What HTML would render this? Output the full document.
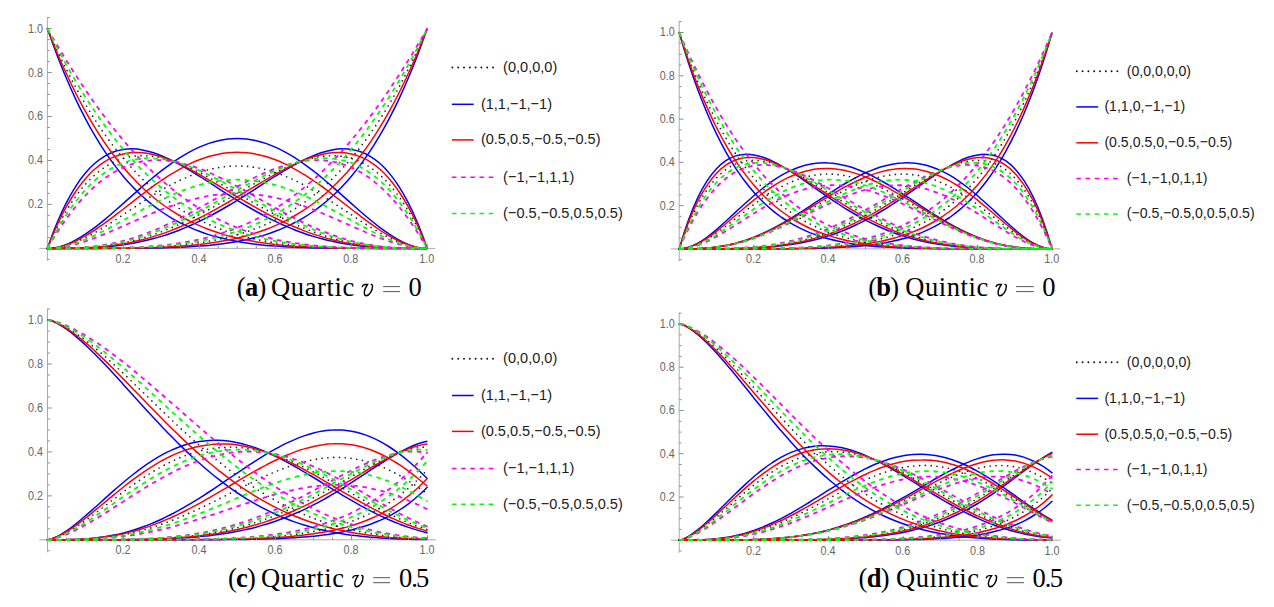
<!DOCTYPE html><html><head><meta charset="utf-8"><title>figure</title><style>
html,body{margin:0;padding:0;background:#fff;}
body{width:1274px;height:607px;overflow:hidden;position:relative;}
svg{position:absolute;left:0;top:0;}
path{fill:none;}
.ax{stroke:#aaa;stroke-width:1;}
.tk{stroke:#8c8c8c;stroke-width:1;}
.tl{font-family:"Liberation Sans",sans-serif;font-size:12px;fill:#666;}
.lg{font-family:"Liberation Sans",sans-serif;fill:#1a1a1a;}
.d{stroke:#222;stroke-width:1.7;stroke-dasharray:0 5.8;stroke-linecap:round;}
.b{stroke:#0000ff;stroke-width:1.5;stroke-linejoin:round;}
.r{stroke:#ff0000;stroke-width:1.5;stroke-linejoin:round;}
.m{stroke:#ff00ff;stroke-width:1.8;stroke-dasharray:4.6 4.6;}
.g{stroke:#00ff00;stroke-width:1.8;stroke-dasharray:4.6 4.6;}
.ld{stroke:#111;stroke-width:1.9;stroke-dasharray:0 5.8;stroke-linecap:round;}
.lm{stroke:#ff00ff;stroke-width:1.5;stroke-dasharray:4.6 4.6;}
.lgn{stroke:#00ff00;stroke-width:1.5;stroke-dasharray:4.6 4.6;}
.cp{font-family:"Liberation Serif",serif;font-size:26.5px;fill:#000;}
.mv{fill:none;stroke:#000;stroke-width:1.4;stroke-linecap:round;}
.eq{fill:#666;}
</style></head><body>
<svg width="1274" height="607" viewBox="0 0 1274 607">
<path class="ax" d="M39.2 248.4H435.4"/>
<path class="ax" d="M47.4 17V260.9"/>
<text class="tl" text-anchor="end" transform="translate(43 208.3) scale(0.9 1)">0.2</text>
<text class="tl" text-anchor="middle" transform="translate(123 262.7) scale(0.9 1)">0.2</text>
<text class="tl" text-anchor="end" transform="translate(43 164.4) scale(0.9 1)">0.4</text>
<text class="tl" text-anchor="middle" transform="translate(198.9 262.7) scale(0.9 1)">0.4</text>
<text class="tl" text-anchor="end" transform="translate(43 120.4) scale(0.9 1)">0.6</text>
<text class="tl" text-anchor="middle" transform="translate(274.9 262.7) scale(0.9 1)">0.6</text>
<text class="tl" text-anchor="end" transform="translate(43 76.5) scale(0.9 1)">0.8</text>
<text class="tl" text-anchor="middle" transform="translate(350.8 262.7) scale(0.9 1)">0.8</text>
<text class="tl" text-anchor="end" transform="translate(43 32.5) scale(0.9 1)">1.0</text>
<text class="tl" text-anchor="middle" transform="translate(426.8 262.7) scale(0.9 1)">1.0</text>
<path class="d" d="M47.4 28.6C50.6 35.9 53.7 43 56.9 49.8C60.1 56.6 63.2 63.1 66.4 69.4C69.6 75.7 72.7 81.7 75.9 87.5C79 93.3 82.2 98.8 85.4 104.2C88.5 109.5 91.7 114.6 94.9 119.6C98 124.5 101.2 129.2 104.4 133.7C107.5 138.2 110.7 142.5 113.9 146.6C117 150.7 120.2 154.6 123.4 158.4C126.5 162.1 129.7 165.7 132.9 169.1C136 172.5 139.2 175.8 142.3 178.9C145.5 181.9 148.7 184.9 151.8 187.7C155 190.5 158.2 193.1 161.3 195.6C164.5 198.1 167.7 200.5 170.8 202.8C174 205 177.2 207.2 180.3 209.2C183.5 211.2 186.7 213.1 189.8 214.9C193 216.6 196.2 218.3 199.3 219.9C202.5 221.5 205.7 223 208.8 224.4C212 225.8 215.1 227.1 218.3 228.3C221.5 229.5 224.6 230.6 227.8 231.7C231 232.8 234.1 233.7 237.3 234.7C240.5 235.6 243.6 236.4 246.8 237.2C250 238 253.1 238.7 256.3 239.4C259.5 240.1 262.6 240.7 265.8 241.2C268.9 241.8 272.1 242.3 275.3 242.8C278.4 243.2 281.6 243.7 284.8 244.1C287.9 244.4 291.1 244.8 294.3 245.1C297.4 245.4 300.6 245.7 303.8 245.9C306.9 246.2 310.1 246.4 313.3 246.6C316.4 246.8 319.6 247 322.8 247.1C325.9 247.3 329.1 247.4 332.2 247.5C335.4 247.7 338.6 247.8 341.7 247.8C344.9 247.9 348.1 248 351.2 248C354.4 248.1 357.6 248.2 360.7 248.2C363.9 248.2 367.1 248.3 370.2 248.3C373.4 248.3 376.6 248.3 379.7 248.3C382.9 248.4 386.1 248.4 389.2 248.4C392.4 248.4 395.6 248.4 398.7 248.4C401.9 248.4 405 248.4 408.2 248.4C411.4 248.4 414.5 248.4 417.7 248.4C420.9 248.4 424 248.4 427.2 248.4"/>
<path class="d" d="M47.4 248.4C50.6 241.1 53.7 234.3 56.9 228C60.1 221.8 63.2 216 66.4 210.7C69.6 205.4 72.7 200.6 75.9 196.2C79 191.8 82.2 187.9 85.4 184.3C88.5 180.7 91.7 177.6 94.9 174.8C98 172 101.2 169.5 104.4 167.4C107.5 165.3 110.7 163.5 113.9 162C117 160.5 120.2 159.3 123.4 158.4C126.5 157.4 129.7 156.8 132.9 156.3C136 155.9 139.2 155.7 142.3 155.7C145.5 155.7 148.7 155.9 151.8 156.3C155 156.6 158.2 157.2 161.3 157.9C164.5 158.6 167.7 159.5 170.8 160.5C174 161.5 177.2 162.7 180.3 163.9C183.5 165.1 186.7 166.5 189.8 167.9C193 169.3 196.2 170.9 199.3 172.4C202.5 174 205.7 175.7 208.8 177.4C212 179.1 215.1 180.8 218.3 182.6C221.5 184.3 224.6 186.2 227.8 188C231 189.8 234.1 191.6 237.3 193.4C240.5 195.3 243.6 197.1 246.8 198.9C250 200.7 253.1 202.6 256.3 204.3C259.5 206.1 262.6 207.9 265.8 209.6C268.9 211.3 272.1 213 275.3 214.6C278.4 216.3 281.6 217.9 284.8 219.4C287.9 221 291.1 222.5 294.3 223.9C297.4 225.3 300.6 226.7 303.8 228C306.9 229.3 310.1 230.6 313.3 231.8C316.4 233 319.6 234.1 322.8 235.1C325.9 236.2 329.1 237.2 332.2 238.1C335.4 239 338.6 239.9 341.7 240.6C344.9 241.4 348.1 242.1 351.2 242.8C354.4 243.4 357.6 244 360.7 244.5C363.9 245 367.1 245.5 370.2 245.9C373.4 246.3 376.6 246.6 379.7 246.9C382.9 247.2 386.1 247.4 389.2 247.6C392.4 247.8 395.6 247.9 398.7 248.1C401.9 248.2 405 248.2 408.2 248.3C411.4 248.3 414.5 248.4 417.7 248.4C420.9 248.4 424 248.4 427.2 248.4"/>
<path class="d" d="M47.4 248.4C50.6 248.4 53.7 248.1 56.9 247.6C60.1 247.1 63.2 246.4 66.4 245.4C69.6 244.5 72.7 243.3 75.9 242.1C79 240.8 82.2 239.3 85.4 237.7C88.5 236.1 91.7 234.4 94.9 232.6C98 230.8 101.2 228.9 104.4 227C107.5 225 110.7 223 113.9 220.9C117 218.8 120.2 216.7 123.4 214.6C126.5 212.5 129.7 210.4 132.9 208.3C136 206.2 139.2 204.1 142.3 202C145.5 200 148.7 197.9 151.8 196C155 194 158.2 192.1 161.3 190.2C164.5 188.4 167.7 186.6 170.8 184.9C174 183.2 177.2 181.6 180.3 180.1C183.5 178.6 186.7 177.2 189.8 176C193 174.7 196.2 173.5 199.3 172.4C202.5 171.4 205.7 170.4 208.8 169.6C212 168.8 215.1 168.2 218.3 167.6C221.5 167.1 224.6 166.7 227.8 166.4C231 166.1 234.1 166 237.3 166C240.5 166 243.6 166.1 246.8 166.4C250 166.7 253.1 167.1 256.3 167.6C259.5 168.2 262.6 168.8 265.8 169.6C268.9 170.4 272.1 171.4 275.3 172.4C278.4 173.5 281.6 174.7 284.8 176C287.9 177.2 291.1 178.6 294.3 180.1C297.4 181.6 300.6 183.2 303.8 184.9C306.9 186.6 310.1 188.4 313.3 190.2C316.4 192.1 319.6 194 322.8 196C325.9 197.9 329.1 200 332.2 202C335.4 204.1 338.6 206.2 341.7 208.3C344.9 210.4 348.1 212.5 351.2 214.6C354.4 216.7 357.6 218.8 360.7 220.9C363.9 223 367.1 225 370.2 227C373.4 228.9 376.6 230.8 379.7 232.6C382.9 234.4 386.1 236.1 389.2 237.7C392.4 239.3 395.6 240.8 398.7 242.1C401.9 243.3 405 244.5 408.2 245.4C411.4 246.4 414.5 247.1 417.7 247.6C420.9 248.1 424 248.4 427.2 248.4"/>
<path class="d" d="M47.4 248.4C50.6 248.4 53.7 248.4 56.9 248.4C60.1 248.4 63.2 248.3 66.4 248.3C69.6 248.2 72.7 248.2 75.9 248.1C79 247.9 82.2 247.8 85.4 247.6C88.5 247.4 91.7 247.2 94.9 246.9C98 246.6 101.2 246.3 104.4 245.9C107.5 245.5 110.7 245 113.9 244.5C117 244 120.2 243.4 123.4 242.8C126.5 242.1 129.7 241.4 132.9 240.6C136 239.9 139.2 239 142.3 238.1C145.5 237.2 148.7 236.2 151.8 235.1C155 234.1 158.2 233 161.3 231.8C164.5 230.6 167.7 229.3 170.8 228C174 226.7 177.2 225.3 180.3 223.9C183.5 222.5 186.7 221 189.8 219.4C193 217.9 196.2 216.3 199.3 214.6C202.5 213 205.7 211.3 208.8 209.6C212 207.9 215.1 206.1 218.3 204.3C221.5 202.6 224.6 200.7 227.8 198.9C231 197.1 234.1 195.3 237.3 193.4C240.5 191.6 243.6 189.8 246.8 188C250 186.2 253.1 184.3 256.3 182.6C259.5 180.8 262.6 179.1 265.8 177.4C268.9 175.7 272.1 174 275.3 172.4C278.4 170.9 281.6 169.3 284.8 167.9C287.9 166.5 291.1 165.1 294.3 163.9C297.4 162.7 300.6 161.5 303.8 160.5C306.9 159.5 310.1 158.6 313.3 157.9C316.4 157.2 319.6 156.6 322.8 156.3C325.9 155.9 329.1 155.7 332.2 155.7C335.4 155.7 338.6 155.9 341.7 156.3C344.9 156.8 348.1 157.4 351.2 158.4C354.4 159.3 357.6 160.5 360.7 162C363.9 163.5 367.1 165.3 370.2 167.4C373.4 169.5 376.6 172 379.7 174.8C382.9 177.6 386.1 180.7 389.2 184.3C392.4 187.9 395.6 191.8 398.7 196.2C401.9 200.6 405 205.4 408.2 210.7C411.4 216 414.5 221.8 417.7 228C420.9 234.3 424 241.1 427.2 248.4"/>
<path class="d" d="M47.4 248.4C50.6 248.4 53.7 248.4 56.9 248.4C60.1 248.4 63.2 248.4 66.4 248.4C69.6 248.4 72.7 248.4 75.9 248.4C79 248.4 82.2 248.4 85.4 248.4C88.5 248.4 91.7 248.4 94.9 248.3C98 248.3 101.2 248.3 104.4 248.3C107.5 248.3 110.7 248.2 113.9 248.2C117 248.2 120.2 248.1 123.4 248C126.5 248 129.7 247.9 132.9 247.8C136 247.8 139.2 247.7 142.3 247.5C145.5 247.4 148.7 247.3 151.8 247.1C155 247 158.2 246.8 161.3 246.6C164.5 246.4 167.7 246.2 170.8 245.9C174 245.7 177.2 245.4 180.3 245.1C183.5 244.8 186.7 244.4 189.8 244.1C193 243.7 196.2 243.2 199.3 242.8C202.5 242.3 205.7 241.8 208.8 241.2C212 240.7 215.1 240.1 218.3 239.4C221.5 238.7 224.6 238 227.8 237.2C231 236.4 234.1 235.6 237.3 234.7C240.5 233.7 243.6 232.8 246.8 231.7C250 230.6 253.1 229.5 256.3 228.3C259.5 227.1 262.6 225.8 265.8 224.4C268.9 223 272.1 221.5 275.3 219.9C278.4 218.3 281.6 216.6 284.8 214.9C287.9 213.1 291.1 211.2 294.3 209.2C297.4 207.2 300.6 205 303.8 202.8C306.9 200.5 310.1 198.1 313.3 195.6C316.4 193.1 319.6 190.5 322.8 187.7C325.9 184.9 329.1 181.9 332.2 178.9C335.4 175.8 338.6 172.5 341.7 169.1C344.9 165.7 348.1 162.1 351.2 158.4C354.4 154.6 357.6 150.7 360.7 146.6C363.9 142.5 367.1 138.2 370.2 133.7C373.4 129.2 376.6 124.5 379.7 119.6C382.9 114.6 386.1 109.5 389.2 104.2C392.4 98.8 395.6 93.3 398.7 87.5C401.9 81.7 405 75.7 408.2 69.4C411.4 63.1 414.5 56.6 417.7 49.8C420.9 43 424 35.9 427.2 28.6"/>
<path class="b" d="M47.4 28.6C50.6 37.8 53.7 46.5 56.9 54.7C60.1 63 63.2 70.9 66.4 78.3C69.6 85.8 72.7 92.8 75.9 99.6C79 106.3 82.2 112.6 85.4 118.6C88.5 124.6 91.7 130.3 94.9 135.7C98 141 101.2 146.1 104.4 150.9C107.5 155.7 110.7 160.2 113.9 164.4C117 168.6 120.2 172.6 123.4 176.4C126.5 180.1 129.7 183.6 132.9 186.9C136 190.3 139.2 193.3 142.3 196.2C145.5 199.1 148.7 201.8 151.8 204.4C155 206.9 158.2 209.3 161.3 211.5C164.5 213.7 167.7 215.7 170.8 217.6C174 219.5 177.2 221.3 180.3 222.9C183.5 224.5 186.7 226 189.8 227.4C193 228.8 196.2 230.1 199.3 231.3C202.5 232.5 205.7 233.6 208.8 234.6C212 235.6 215.1 236.5 218.3 237.3C221.5 238.2 224.6 238.9 227.8 239.6C231 240.3 234.1 241 237.3 241.5C240.5 242.1 243.6 242.6 246.8 243.1C250 243.6 253.1 244 256.3 244.3C259.5 244.7 262.6 245.1 265.8 245.4C268.9 245.7 272.1 245.9 275.3 246.1C278.4 246.4 281.6 246.6 284.8 246.8C287.9 247 291.1 247.1 294.3 247.2C297.4 247.4 300.6 247.5 303.8 247.6C306.9 247.7 310.1 247.8 313.3 247.9C316.4 247.9 319.6 248 322.8 248.1C325.9 248.1 329.1 248.1 332.2 248.2C335.4 248.2 338.6 248.2 341.7 248.3C344.9 248.3 348.1 248.3 351.2 248.3C354.4 248.3 357.6 248.4 360.7 248.4C363.9 248.4 367.1 248.4 370.2 248.4C373.4 248.4 376.6 248.4 379.7 248.4C382.9 248.4 386.1 248.4 389.2 248.4C392.4 248.4 395.6 248.4 398.7 248.4C401.9 248.4 405 248.4 408.2 248.4C411.4 248.4 414.5 248.4 417.7 248.4C420.9 248.4 424 248.4 427.2 248.4"/>
<path class="b" d="M47.4 248.4C50.6 239.2 53.7 230.9 56.9 223.3C60.1 215.7 63.2 208.9 66.4 202.7C69.6 196.5 72.7 191 75.9 186.1C79 181.2 82.2 176.9 85.4 173.1C88.5 169.3 91.7 166.1 94.9 163.3C98 160.5 101.2 158.2 104.4 156.3C107.5 154.4 110.7 152.9 113.9 151.7C117 150.6 120.2 149.8 123.4 149.4C126.5 148.9 129.7 148.7 132.9 148.8C136 148.9 139.2 149.3 142.3 149.9C145.5 150.5 148.7 151.3 151.8 152.2C155 153.2 158.2 154.4 161.3 155.7C164.5 157 167.7 158.4 170.8 160C174 161.5 177.2 163.2 180.3 164.9C183.5 166.7 186.7 168.5 189.8 170.4C193 172.3 196.2 174.3 199.3 176.2C202.5 178.2 205.7 180.2 208.8 182.2C212 184.3 215.1 186.3 218.3 188.3C221.5 190.4 224.6 192.4 227.8 194.4C231 196.4 234.1 198.4 237.3 200.3C240.5 202.3 243.6 204.2 246.8 206C250 207.9 253.1 209.7 256.3 211.5C259.5 213.3 262.6 215 265.8 216.6C268.9 218.3 272.1 219.9 275.3 221.4C278.4 222.9 281.6 224.4 284.8 225.8C287.9 227.1 291.1 228.5 294.3 229.7C297.4 231 300.6 232.1 303.8 233.2C306.9 234.4 310.1 235.4 313.3 236.4C316.4 237.3 319.6 238.2 322.8 239C325.9 239.9 329.1 240.6 332.2 241.3C335.4 242 338.6 242.6 341.7 243.2C344.9 243.8 348.1 244.3 351.2 244.7C354.4 245.2 357.6 245.6 360.7 245.9C363.9 246.3 367.1 246.6 370.2 246.9C373.4 247.1 376.6 247.3 379.7 247.5C382.9 247.7 386.1 247.8 389.2 247.9C392.4 248.1 395.6 248.1 398.7 248.2C401.9 248.3 405 248.3 408.2 248.3C411.4 248.4 414.5 248.4 417.7 248.4C420.9 248.4 424 248.4 427.2 248.4"/>
<path class="b" d="M47.4 248.4C50.6 248.4 53.7 248 56.9 247.4C60.1 246.7 63.2 245.7 66.4 244.4C69.6 243.2 72.7 241.7 75.9 239.9C79 238.2 82.2 236.3 85.4 234.2C88.5 232 91.7 229.8 94.9 227.4C98 225 101.2 222.4 104.4 219.8C107.5 217.2 110.7 214.5 113.9 211.7C117 209 120.2 206.2 123.4 203.4C126.5 200.6 129.7 197.7 132.9 194.9C136 192.1 139.2 189.3 142.3 186.6C145.5 183.8 148.7 181.1 151.8 178.5C155 175.9 158.2 173.3 161.3 170.9C164.5 168.4 167.7 166 170.8 163.8C174 161.5 177.2 159.4 180.3 157.4C183.5 155.4 186.7 153.5 189.8 151.8C193 150.1 196.2 148.5 199.3 147.1C202.5 145.7 205.7 144.5 208.8 143.4C212 142.3 215.1 141.4 218.3 140.7C221.5 140 224.6 139.4 227.8 139C231 138.7 234.1 138.5 237.3 138.5C240.5 138.5 243.6 138.7 246.8 139C250 139.4 253.1 140 256.3 140.7C259.5 141.4 262.6 142.3 265.8 143.4C268.9 144.5 272.1 145.7 275.3 147.1C278.4 148.5 281.6 150.1 284.8 151.8C287.9 153.5 291.1 155.4 294.3 157.4C297.4 159.4 300.6 161.5 303.8 163.8C306.9 166 310.1 168.4 313.3 170.9C316.4 173.3 319.6 175.9 322.8 178.5C325.9 181.1 329.1 183.8 332.2 186.6C335.4 189.3 338.6 192.1 341.7 194.9C344.9 197.7 348.1 200.6 351.2 203.4C354.4 206.2 357.6 209 360.7 211.7C363.9 214.5 367.1 217.2 370.2 219.8C373.4 222.4 376.6 225 379.7 227.4C382.9 229.8 386.1 232 389.2 234.2C392.4 236.3 395.6 238.2 398.7 239.9C401.9 241.7 405 243.2 408.2 244.4C411.4 245.7 414.5 246.7 417.7 247.4C420.9 248 424 248.4 427.2 248.4"/>
<path class="b" d="M47.4 248.4C50.6 248.4 53.7 248.4 56.9 248.4C60.1 248.4 63.2 248.4 66.4 248.3C69.6 248.3 72.7 248.3 75.9 248.2C79 248.1 82.2 248.1 85.4 247.9C88.5 247.8 91.7 247.7 94.9 247.5C98 247.3 101.2 247.1 104.4 246.9C107.5 246.6 110.7 246.3 113.9 245.9C117 245.6 120.2 245.2 123.4 244.7C126.5 244.3 129.7 243.8 132.9 243.2C136 242.6 139.2 242 142.3 241.3C145.5 240.6 148.7 239.9 151.8 239C155 238.2 158.2 237.3 161.3 236.4C164.5 235.4 167.7 234.4 170.8 233.2C174 232.1 177.2 231 180.3 229.7C183.5 228.5 186.7 227.1 189.8 225.8C193 224.4 196.2 222.9 199.3 221.4C202.5 219.9 205.7 218.3 208.8 216.6C212 215 215.1 213.3 218.3 211.5C221.5 209.7 224.6 207.9 227.8 206C231 204.2 234.1 202.3 237.3 200.3C240.5 198.4 243.6 196.4 246.8 194.4C250 192.4 253.1 190.4 256.3 188.3C259.5 186.3 262.6 184.3 265.8 182.2C268.9 180.2 272.1 178.2 275.3 176.2C278.4 174.3 281.6 172.3 284.8 170.4C287.9 168.5 291.1 166.7 294.3 164.9C297.4 163.2 300.6 161.5 303.8 160C306.9 158.4 310.1 157 313.3 155.7C316.4 154.4 319.6 153.2 322.8 152.2C325.9 151.3 329.1 150.5 332.2 149.9C335.4 149.3 338.6 148.9 341.7 148.8C344.9 148.7 348.1 148.9 351.2 149.4C354.4 149.8 357.6 150.6 360.7 151.7C363.9 152.9 367.1 154.4 370.2 156.3C373.4 158.2 376.6 160.5 379.7 163.3C382.9 166.1 386.1 169.3 389.2 173.1C392.4 176.9 395.6 181.2 398.7 186.1C401.9 191 405 196.5 408.2 202.7C411.4 208.9 414.5 215.7 417.7 223.3C420.9 230.9 424 239.2 427.2 248.4"/>
<path class="b" d="M47.4 248.4C50.6 248.4 53.7 248.4 56.9 248.4C60.1 248.4 63.2 248.4 66.4 248.4C69.6 248.4 72.7 248.4 75.9 248.4C79 248.4 82.2 248.4 85.4 248.4C88.5 248.4 91.7 248.4 94.9 248.4C98 248.4 101.2 248.4 104.4 248.4C107.5 248.4 110.7 248.4 113.9 248.4C117 248.4 120.2 248.3 123.4 248.3C126.5 248.3 129.7 248.3 132.9 248.3C136 248.2 139.2 248.2 142.3 248.2C145.5 248.1 148.7 248.1 151.8 248.1C155 248 158.2 247.9 161.3 247.9C164.5 247.8 167.7 247.7 170.8 247.6C174 247.5 177.2 247.4 180.3 247.2C183.5 247.1 186.7 247 189.8 246.8C193 246.6 196.2 246.4 199.3 246.1C202.5 245.9 205.7 245.7 208.8 245.4C212 245.1 215.1 244.7 218.3 244.3C221.5 244 224.6 243.6 227.8 243.1C231 242.6 234.1 242.1 237.3 241.5C240.5 241 243.6 240.3 246.8 239.6C250 238.9 253.1 238.2 256.3 237.3C259.5 236.5 262.6 235.6 265.8 234.6C268.9 233.6 272.1 232.5 275.3 231.3C278.4 230.1 281.6 228.8 284.8 227.4C287.9 226 291.1 224.5 294.3 222.9C297.4 221.3 300.6 219.5 303.8 217.6C306.9 215.7 310.1 213.7 313.3 211.5C316.4 209.3 319.6 206.9 322.8 204.4C325.9 201.8 329.1 199.1 332.2 196.2C335.4 193.3 338.6 190.3 341.7 186.9C344.9 183.6 348.1 180.1 351.2 176.4C354.4 172.6 357.6 168.6 360.7 164.4C363.9 160.2 367.1 155.7 370.2 150.9C373.4 146.1 376.6 141 379.7 135.7C382.9 130.3 386.1 124.6 389.2 118.6C392.4 112.6 395.6 106.3 398.7 99.6C401.9 92.8 405 85.8 408.2 78.3C411.4 70.9 414.5 63 417.7 54.7C420.9 46.5 424 37.8 427.2 28.6"/>
<path class="r" d="M47.4 28.6C50.6 36.8 53.7 44.7 56.9 52.3C60.1 59.8 63.2 67 66.4 73.8C69.6 80.7 72.7 87.3 75.9 93.5C79 99.8 82.2 105.7 85.4 111.4C88.5 117.1 91.7 122.5 94.9 127.6C98 132.7 101.2 137.6 104.4 142.3C107.5 146.9 110.7 151.3 113.9 155.5C117 159.7 120.2 163.6 123.4 167.4C126.5 171.1 129.7 174.7 132.9 178C136 181.4 139.2 184.6 142.3 187.5C145.5 190.5 148.7 193.4 151.8 196C155 198.7 158.2 201.2 161.3 203.5C164.5 205.9 167.7 208.1 170.8 210.2C174 212.3 177.2 214.2 180.3 216C183.5 217.9 186.7 219.6 189.8 221.1C193 222.7 196.2 224.2 199.3 225.6C202.5 227 205.7 228.3 208.8 229.5C212 230.7 215.1 231.8 218.3 232.8C221.5 233.8 224.6 234.8 227.8 235.7C231 236.5 234.1 237.4 237.3 238.1C240.5 238.8 243.6 239.5 246.8 240.1C250 240.8 253.1 241.3 256.3 241.9C259.5 242.4 262.6 242.9 265.8 243.3C268.9 243.7 272.1 244.1 275.3 244.5C278.4 244.8 281.6 245.1 284.8 245.4C287.9 245.7 291.1 245.9 294.3 246.2C297.4 246.4 300.6 246.6 303.8 246.8C306.9 247 310.1 247.1 313.3 247.2C316.4 247.4 319.6 247.5 322.8 247.6C325.9 247.7 329.1 247.8 332.2 247.9C335.4 247.9 338.6 248 341.7 248.1C344.9 248.1 348.1 248.2 351.2 248.2C354.4 248.2 357.6 248.3 360.7 248.3C363.9 248.3 367.1 248.3 370.2 248.3C373.4 248.4 376.6 248.4 379.7 248.4C382.9 248.4 386.1 248.4 389.2 248.4C392.4 248.4 395.6 248.4 398.7 248.4C401.9 248.4 405 248.4 408.2 248.4C411.4 248.4 414.5 248.4 417.7 248.4C420.9 248.4 424 248.4 427.2 248.4"/>
<path class="r" d="M47.4 248.4C50.6 240.2 53.7 232.6 56.9 225.7C60.1 218.7 63.2 212.4 66.4 206.7C69.6 201 72.7 195.8 75.9 191.2C79 186.5 82.2 182.4 85.4 178.7C88.5 175 91.7 171.8 94.9 169C98 166.2 101.2 163.9 104.4 161.8C107.5 159.8 110.7 158.2 113.9 156.9C117 155.6 120.2 154.6 123.4 153.9C126.5 153.2 129.7 152.7 132.9 152.6C136 152.4 139.2 152.5 142.3 152.8C145.5 153.1 148.7 153.6 151.8 154.2C155 154.9 158.2 155.8 161.3 156.8C164.5 157.8 167.7 159 170.8 160.2C174 161.5 177.2 162.9 180.3 164.4C183.5 165.9 186.7 167.5 189.8 169.2C193 170.8 196.2 172.6 199.3 174.3C202.5 176.1 205.7 177.9 208.8 179.8C212 181.7 215.1 183.6 218.3 185.5C221.5 187.4 224.6 189.3 227.8 191.2C231 193.1 234.1 195 237.3 196.9C240.5 198.8 243.6 200.6 246.8 202.5C250 204.3 253.1 206.1 256.3 207.9C259.5 209.7 262.6 211.4 265.8 213.1C268.9 214.8 272.1 216.4 275.3 218C278.4 219.6 281.6 221.1 284.8 222.6C287.9 224.1 291.1 225.5 294.3 226.8C297.4 228.1 300.6 229.4 303.8 230.6C306.9 231.8 310.1 233 313.3 234.1C316.4 235.1 319.6 236.2 322.8 237.1C325.9 238 329.1 238.9 332.2 239.7C335.4 240.5 338.6 241.2 341.7 241.9C344.9 242.6 348.1 243.2 351.2 243.8C354.4 244.3 357.6 244.8 360.7 245.2C363.9 245.7 367.1 246 370.2 246.4C373.4 246.7 376.6 247 379.7 247.2C382.9 247.4 386.1 247.6 389.2 247.8C392.4 247.9 395.6 248 398.7 248.1C401.9 248.2 405 248.3 408.2 248.3C411.4 248.4 414.5 248.4 417.7 248.4C420.9 248.4 424 248.4 427.2 248.4"/>
<path class="r" d="M47.4 248.4C50.6 248.4 53.7 248.1 56.9 247.5C60.1 246.9 63.2 246 66.4 244.9C69.6 243.8 72.7 242.5 75.9 241C79 239.5 82.2 237.8 85.4 235.9C88.5 234.1 91.7 232.1 94.9 230C98 227.9 101.2 225.7 104.4 223.4C107.5 221.1 110.7 218.7 113.9 216.3C117 213.9 120.2 211.5 123.4 209C126.5 206.6 129.7 204.1 132.9 201.6C136 199.2 139.2 196.7 142.3 194.3C145.5 191.9 148.7 189.5 151.8 187.2C155 184.9 158.2 182.7 161.3 180.5C164.5 178.4 167.7 176.3 170.8 174.4C174 172.4 177.2 170.5 180.3 168.8C183.5 167 186.7 165.4 189.8 163.9C193 162.4 196.2 161 199.3 159.8C202.5 158.5 205.7 157.5 208.8 156.5C212 155.6 215.1 154.8 218.3 154.2C221.5 153.5 224.6 153 227.8 152.7C231 152.4 234.1 152.2 237.3 152.2C240.5 152.2 243.6 152.4 246.8 152.7C250 153 253.1 153.5 256.3 154.2C259.5 154.8 262.6 155.6 265.8 156.5C268.9 157.5 272.1 158.5 275.3 159.8C278.4 161 281.6 162.4 284.8 163.9C287.9 165.4 291.1 167 294.3 168.8C297.4 170.5 300.6 172.4 303.8 174.4C306.9 176.3 310.1 178.4 313.3 180.5C316.4 182.7 319.6 184.9 322.8 187.2C325.9 189.5 329.1 191.9 332.2 194.3C335.4 196.7 338.6 199.2 341.7 201.6C344.9 204.1 348.1 206.6 351.2 209C354.4 211.5 357.6 213.9 360.7 216.3C363.9 218.7 367.1 221.1 370.2 223.4C373.4 225.7 376.6 227.9 379.7 230C382.9 232.1 386.1 234.1 389.2 235.9C392.4 237.8 395.6 239.5 398.7 241C401.9 242.5 405 243.8 408.2 244.9C411.4 246 414.5 246.9 417.7 247.5C420.9 248.1 424 248.4 427.2 248.4"/>
<path class="r" d="M47.4 248.4C50.6 248.4 53.7 248.4 56.9 248.4C60.1 248.4 63.2 248.4 66.4 248.3C69.6 248.3 72.7 248.2 75.9 248.1C79 248 82.2 247.9 85.4 247.8C88.5 247.6 91.7 247.4 94.9 247.2C98 247 101.2 246.7 104.4 246.4C107.5 246 110.7 245.7 113.9 245.2C117 244.8 120.2 244.3 123.4 243.8C126.5 243.2 129.7 242.6 132.9 241.9C136 241.2 139.2 240.5 142.3 239.7C145.5 238.9 148.7 238 151.8 237.1C155 236.2 158.2 235.1 161.3 234.1C164.5 233 167.7 231.8 170.8 230.6C174 229.4 177.2 228.1 180.3 226.8C183.5 225.5 186.7 224.1 189.8 222.6C193 221.1 196.2 219.6 199.3 218C202.5 216.4 205.7 214.8 208.8 213.1C212 211.4 215.1 209.7 218.3 207.9C221.5 206.1 224.6 204.3 227.8 202.5C231 200.6 234.1 198.8 237.3 196.9C240.5 195 243.6 193.1 246.8 191.2C250 189.3 253.1 187.4 256.3 185.5C259.5 183.6 262.6 181.7 265.8 179.8C268.9 177.9 272.1 176.1 275.3 174.3C278.4 172.6 281.6 170.8 284.8 169.2C287.9 167.5 291.1 165.9 294.3 164.4C297.4 162.9 300.6 161.5 303.8 160.2C306.9 159 310.1 157.8 313.3 156.8C316.4 155.8 319.6 154.9 322.8 154.2C325.9 153.6 329.1 153.1 332.2 152.8C335.4 152.5 338.6 152.4 341.7 152.6C344.9 152.7 348.1 153.2 351.2 153.9C354.4 154.6 357.6 155.6 360.7 156.9C363.9 158.2 367.1 159.8 370.2 161.8C373.4 163.9 376.6 166.2 379.7 169C382.9 171.8 386.1 175 389.2 178.7C392.4 182.4 395.6 186.5 398.7 191.2C401.9 195.8 405 201 408.2 206.7C411.4 212.4 414.5 218.7 417.7 225.7C420.9 232.6 424 240.2 427.2 248.4"/>
<path class="r" d="M47.4 248.4C50.6 248.4 53.7 248.4 56.9 248.4C60.1 248.4 63.2 248.4 66.4 248.4C69.6 248.4 72.7 248.4 75.9 248.4C79 248.4 82.2 248.4 85.4 248.4C88.5 248.4 91.7 248.4 94.9 248.4C98 248.4 101.2 248.4 104.4 248.3C107.5 248.3 110.7 248.3 113.9 248.3C117 248.3 120.2 248.2 123.4 248.2C126.5 248.2 129.7 248.1 132.9 248.1C136 248 139.2 247.9 142.3 247.9C145.5 247.8 148.7 247.7 151.8 247.6C155 247.5 158.2 247.4 161.3 247.2C164.5 247.1 167.7 247 170.8 246.8C174 246.6 177.2 246.4 180.3 246.2C183.5 245.9 186.7 245.7 189.8 245.4C193 245.1 196.2 244.8 199.3 244.5C202.5 244.1 205.7 243.7 208.8 243.3C212 242.9 215.1 242.4 218.3 241.9C221.5 241.3 224.6 240.8 227.8 240.1C231 239.5 234.1 238.8 237.3 238.1C240.5 237.4 243.6 236.5 246.8 235.7C250 234.8 253.1 233.8 256.3 232.8C259.5 231.8 262.6 230.7 265.8 229.5C268.9 228.3 272.1 227 275.3 225.6C278.4 224.2 281.6 222.7 284.8 221.1C287.9 219.6 291.1 217.9 294.3 216C297.4 214.2 300.6 212.3 303.8 210.2C306.9 208.1 310.1 205.9 313.3 203.5C316.4 201.2 319.6 198.7 322.8 196C325.9 193.4 329.1 190.5 332.2 187.5C335.4 184.6 338.6 181.4 341.7 178C344.9 174.7 348.1 171.1 351.2 167.4C354.4 163.6 357.6 159.7 360.7 155.5C363.9 151.3 367.1 146.9 370.2 142.3C373.4 137.6 376.6 132.7 379.7 127.6C382.9 122.5 386.1 117.1 389.2 111.4C392.4 105.7 395.6 99.8 398.7 93.5C401.9 87.3 405 80.7 408.2 73.8C411.4 67 414.5 59.8 417.7 52.3C420.9 44.7 424 36.8 427.2 28.6"/>
<path class="m" d="M47.4 28.6C50.6 34.1 53.7 39.5 56.9 44.8C60.1 50.1 63.2 55.3 66.4 60.4C69.6 65.5 72.7 70.5 75.9 75.4C79 80.3 82.2 85.1 85.4 89.8C88.5 94.4 91.7 99 94.9 103.5C98 107.9 101.2 112.2 104.4 116.5C107.5 120.7 110.7 124.8 113.9 128.8C117 132.7 120.2 136.6 123.4 140.4C126.5 144.1 129.7 147.7 132.9 151.3C136 154.8 139.2 158.2 142.3 161.5C145.5 164.8 148.7 167.9 151.8 171C155 174 158.2 177 161.3 179.8C164.5 182.6 167.7 185.3 170.8 187.9C174 190.5 177.2 193 180.3 195.4C183.5 197.8 186.7 200.1 189.8 202.3C193 204.5 196.2 206.5 199.3 208.5C202.5 210.5 205.7 212.4 208.8 214.2C212 215.9 215.1 217.6 218.3 219.2C221.5 220.8 224.6 222.3 227.8 223.8C231 225.2 234.1 226.5 237.3 227.8C240.5 229.1 243.6 230.2 246.8 231.3C250 232.4 253.1 233.5 256.3 234.4C259.5 235.4 262.6 236.3 265.8 237.1C268.9 237.9 272.1 238.7 275.3 239.4C278.4 240.1 281.6 240.7 284.8 241.3C287.9 241.9 291.1 242.5 294.3 243C297.4 243.4 300.6 243.9 303.8 244.3C306.9 244.7 310.1 245.1 313.3 245.4C316.4 245.7 319.6 246 322.8 246.2C325.9 246.5 329.1 246.7 332.2 246.9C335.4 247.1 338.6 247.3 341.7 247.4C344.9 247.5 348.1 247.7 351.2 247.8C354.4 247.9 357.6 248 360.7 248C363.9 248.1 367.1 248.1 370.2 248.2C373.4 248.2 376.6 248.3 379.7 248.3C382.9 248.3 386.1 248.3 389.2 248.4C392.4 248.4 395.6 248.4 398.7 248.4C401.9 248.4 405 248.4 408.2 248.4C411.4 248.4 414.5 248.4 417.7 248.4C420.9 248.4 424 248.4 427.2 248.4"/>
<path class="m" d="M47.4 248.4C50.6 242.9 53.7 237.7 56.9 232.7C60.1 227.8 63.2 223.1 66.4 218.7C69.6 214.3 72.7 210.2 75.9 206.3C79 202.5 82.2 198.9 85.4 195.5C88.5 192.2 91.7 189.1 94.9 186.3C98 183.5 101.2 180.9 104.4 178.5C107.5 176.2 110.7 174.1 113.9 172.3C117 170.4 120.2 168.8 123.4 167.4C126.5 166 129.7 164.8 132.9 163.8C136 162.8 139.2 162 142.3 161.5C145.5 160.9 148.7 160.5 151.8 160.3C155 160.1 158.2 160.1 161.3 160.2C164.5 160.3 167.7 160.6 170.8 161.1C174 161.5 177.2 162.1 180.3 162.8C183.5 163.6 186.7 164.4 189.8 165.4C193 166.4 196.2 167.5 199.3 168.6C202.5 169.8 205.7 171.1 208.8 172.5C212 173.8 215.1 175.3 218.3 176.8C221.5 178.3 224.6 179.9 227.8 181.5C231 183.2 234.1 184.9 237.3 186.6C240.5 188.3 243.6 190 246.8 191.8C250 193.6 253.1 195.4 256.3 197.2C259.5 199 262.6 200.8 265.8 202.6C268.9 204.3 272.1 206.1 275.3 207.9C278.4 209.6 281.6 211.4 284.8 213.1C287.9 214.8 291.1 216.5 294.3 218.1C297.4 219.7 300.6 221.3 303.8 222.8C306.9 224.3 310.1 225.8 313.3 227.2C316.4 228.6 319.6 230 322.8 231.2C325.9 232.5 329.1 233.7 332.2 234.9C335.4 236 338.6 237.1 341.7 238.1C344.9 239.1 348.1 240 351.2 240.8C354.4 241.6 357.6 242.4 360.7 243.1C363.9 243.8 367.1 244.4 370.2 244.9C373.4 245.4 376.6 245.9 379.7 246.3C382.9 246.7 386.1 247 389.2 247.3C392.4 247.5 395.6 247.7 398.7 247.9C401.9 248.1 405 248.2 408.2 248.2C411.4 248.3 414.5 248.4 417.7 248.4C420.9 248.4 424 248.4 427.2 248.4"/>
<path class="m" d="M47.4 248.4C50.6 248.4 53.7 248.2 56.9 247.9C60.1 247.5 63.2 247 66.4 246.4C69.6 245.8 72.7 245 75.9 244.2C79 243.3 82.2 242.3 85.4 241.3C88.5 240.2 91.7 239.1 94.9 237.9C98 236.7 101.2 235.4 104.4 234.1C107.5 232.8 110.7 231.4 113.9 230.1C117 228.7 120.2 227.3 123.4 225.9C126.5 224.5 129.7 223.1 132.9 221.7C136 220.3 139.2 218.9 142.3 217.5C145.5 216.1 148.7 214.8 151.8 213.5C155 212.1 158.2 210.9 161.3 209.6C164.5 208.4 167.7 207.2 170.8 206.1C174 205 177.2 203.9 180.3 202.9C183.5 201.9 186.7 201 189.8 200.1C193 199.2 196.2 198.5 199.3 197.8C202.5 197.1 205.7 196.4 208.8 195.9C212 195.4 215.1 194.9 218.3 194.5C221.5 194.2 224.6 193.9 227.8 193.7C231 193.5 234.1 193.5 237.3 193.4C240.5 193.4 243.6 193.5 246.8 193.7C250 193.9 253.1 194.2 256.3 194.5C259.5 194.9 262.6 195.4 265.8 195.9C268.9 196.4 272.1 197.1 275.3 197.8C278.4 198.5 281.6 199.2 284.8 200.1C287.9 201 291.1 201.9 294.3 202.9C297.4 203.9 300.6 205 303.8 206.1C306.9 207.2 310.1 208.4 313.3 209.6C316.4 210.9 319.6 212.1 322.8 213.5C325.9 214.8 329.1 216.1 332.2 217.5C335.4 218.9 338.6 220.3 341.7 221.7C344.9 223.1 348.1 224.5 351.2 225.9C354.4 227.3 357.6 228.7 360.7 230.1C363.9 231.4 367.1 232.8 370.2 234.1C373.4 235.4 376.6 236.7 379.7 237.9C382.9 239.1 386.1 240.2 389.2 241.3C392.4 242.3 395.6 243.3 398.7 244.2C401.9 245 405 245.8 408.2 246.4C411.4 247 414.5 247.5 417.7 247.9C420.9 248.2 424 248.4 427.2 248.4"/>
<path class="m" d="M47.4 248.4C50.6 248.4 53.7 248.4 56.9 248.4C60.1 248.4 63.2 248.3 66.4 248.2C69.6 248.2 72.7 248.1 75.9 247.9C79 247.7 82.2 247.5 85.4 247.3C88.5 247 91.7 246.7 94.9 246.3C98 245.9 101.2 245.4 104.4 244.9C107.5 244.4 110.7 243.8 113.9 243.1C117 242.4 120.2 241.6 123.4 240.8C126.5 240 129.7 239.1 132.9 238.1C136 237.1 139.2 236 142.3 234.9C145.5 233.7 148.7 232.5 151.8 231.2C155 230 158.2 228.6 161.3 227.2C164.5 225.8 167.7 224.3 170.8 222.8C174 221.3 177.2 219.7 180.3 218.1C183.5 216.5 186.7 214.8 189.8 213.1C193 211.4 196.2 209.6 199.3 207.9C202.5 206.1 205.7 204.3 208.8 202.6C212 200.8 215.1 199 218.3 197.2C221.5 195.4 224.6 193.6 227.8 191.8C231 190 234.1 188.3 237.3 186.6C240.5 184.9 243.6 183.2 246.8 181.5C250 179.9 253.1 178.3 256.3 176.8C259.5 175.3 262.6 173.8 265.8 172.5C268.9 171.1 272.1 169.8 275.3 168.6C278.4 167.5 281.6 166.4 284.8 165.4C287.9 164.4 291.1 163.6 294.3 162.8C297.4 162.1 300.6 161.5 303.8 161.1C306.9 160.6 310.1 160.3 313.3 160.2C316.4 160.1 319.6 160.1 322.8 160.3C325.9 160.5 329.1 160.9 332.2 161.5C335.4 162 338.6 162.8 341.7 163.8C344.9 164.8 348.1 166 351.2 167.4C354.4 168.8 357.6 170.4 360.7 172.3C363.9 174.1 367.1 176.2 370.2 178.5C373.4 180.9 376.6 183.5 379.7 186.3C382.9 189.1 386.1 192.2 389.2 195.5C392.4 198.9 395.6 202.5 398.7 206.3C401.9 210.2 405 214.3 408.2 218.7C411.4 223.1 414.5 227.8 417.7 232.7C420.9 237.7 424 242.9 427.2 248.4"/>
<path class="m" d="M47.4 248.4C50.6 248.4 53.7 248.4 56.9 248.4C60.1 248.4 63.2 248.4 66.4 248.4C69.6 248.4 72.7 248.4 75.9 248.4C79 248.4 82.2 248.4 85.4 248.4C88.5 248.3 91.7 248.3 94.9 248.3C98 248.3 101.2 248.2 104.4 248.2C107.5 248.1 110.7 248.1 113.9 248C117 248 120.2 247.9 123.4 247.8C126.5 247.7 129.7 247.5 132.9 247.4C136 247.3 139.2 247.1 142.3 246.9C145.5 246.7 148.7 246.5 151.8 246.2C155 246 158.2 245.7 161.3 245.4C164.5 245.1 167.7 244.7 170.8 244.3C174 243.9 177.2 243.4 180.3 243C183.5 242.5 186.7 241.9 189.8 241.3C193 240.7 196.2 240.1 199.3 239.4C202.5 238.7 205.7 237.9 208.8 237.1C212 236.3 215.1 235.4 218.3 234.4C221.5 233.5 224.6 232.4 227.8 231.3C231 230.2 234.1 229.1 237.3 227.8C240.5 226.5 243.6 225.2 246.8 223.8C250 222.3 253.1 220.8 256.3 219.2C259.5 217.6 262.6 215.9 265.8 214.2C268.9 212.4 272.1 210.5 275.3 208.5C278.4 206.5 281.6 204.5 284.8 202.3C287.9 200.1 291.1 197.8 294.3 195.4C297.4 193 300.6 190.5 303.8 187.9C306.9 185.3 310.1 182.6 313.3 179.8C316.4 177 319.6 174 322.8 171C325.9 167.9 329.1 164.8 332.2 161.5C335.4 158.2 338.6 154.8 341.7 151.3C344.9 147.7 348.1 144.1 351.2 140.4C354.4 136.6 357.6 132.7 360.7 128.8C363.9 124.8 367.1 120.7 370.2 116.5C373.4 112.2 376.6 107.9 379.7 103.5C382.9 99 386.1 94.4 389.2 89.8C392.4 85.1 395.6 80.3 398.7 75.4C401.9 70.5 405 65.5 408.2 60.4C411.4 55.3 414.5 50.1 417.7 44.8C420.9 39.5 424 34.1 427.2 28.6"/>
<path class="g" d="M47.4 28.6C50.6 35 53.7 41.2 56.9 47.3C60.1 53.3 63.2 59.2 66.4 64.9C69.6 70.6 72.7 76.1 75.9 81.5C79 86.8 82.2 92 85.4 97C88.5 102 91.7 106.8 94.9 111.5C98 116.2 101.2 120.7 104.4 125.1C107.5 129.4 110.7 133.6 113.9 137.7C117 141.7 120.2 145.6 123.4 149.4C126.5 153.1 129.7 156.7 132.9 160.2C136 163.7 139.2 167 142.3 170.2C145.5 173.3 148.7 176.4 151.8 179.3C155 182.2 158.2 185 161.3 187.7C164.5 190.4 167.7 192.9 170.8 195.4C174 197.8 177.2 200.1 180.3 202.3C183.5 204.5 186.7 206.6 189.8 208.6C193 210.6 196.2 212.4 199.3 214.2C202.5 216 205.7 217.7 208.8 219.3C212 220.9 215.1 222.4 218.3 223.8C221.5 225.2 224.6 226.5 227.8 227.7C231 229 234.1 230.1 237.3 231.2C240.5 232.3 243.6 233.3 246.8 234.3C250 235.2 253.1 236.1 256.3 236.9C259.5 237.7 262.6 238.5 265.8 239.2C268.9 239.9 272.1 240.5 275.3 241.1C278.4 241.7 281.6 242.2 284.8 242.7C287.9 243.2 291.1 243.6 294.3 244C297.4 244.4 300.6 244.8 303.8 245.1C306.9 245.4 310.1 245.7 313.3 246C316.4 246.3 319.6 246.5 322.8 246.7C325.9 246.9 329.1 247.1 332.2 247.2C335.4 247.4 338.6 247.5 341.7 247.6C344.9 247.7 348.1 247.8 351.2 247.9C354.4 248 357.6 248.1 360.7 248.1C363.9 248.2 367.1 248.2 370.2 248.2C373.4 248.3 376.6 248.3 379.7 248.3C382.9 248.3 386.1 248.4 389.2 248.4C392.4 248.4 395.6 248.4 398.7 248.4C401.9 248.4 405 248.4 408.2 248.4C411.4 248.4 414.5 248.4 417.7 248.4C420.9 248.4 424 248.4 427.2 248.4"/>
<path class="g" d="M47.4 248.4C50.6 242 53.7 236 56.9 230.4C60.1 224.8 63.2 219.6 66.4 214.7C69.6 209.9 72.7 205.4 75.9 201.3C79 197.1 82.2 193.4 85.4 189.9C88.5 186.5 91.7 183.3 94.9 180.5C98 177.7 101.2 175.2 104.4 173C107.5 170.8 110.7 168.8 113.9 167.1C117 165.5 120.2 164 123.4 162.9C126.5 161.7 129.7 160.8 132.9 160.1C136 159.3 139.2 158.9 142.3 158.6C145.5 158.3 148.7 158.2 151.8 158.3C155 158.4 158.2 158.6 161.3 159.1C164.5 159.5 167.7 160.1 170.8 160.8C174 161.5 177.2 162.4 180.3 163.4C183.5 164.3 186.7 165.4 189.8 166.6C193 167.9 196.2 169.2 199.3 170.5C202.5 171.9 205.7 173.4 208.8 174.9C212 176.5 215.1 178.1 218.3 179.7C221.5 181.3 224.6 183 227.8 184.8C231 186.5 234.1 188.2 237.3 190C240.5 191.8 243.6 193.6 246.8 195.4C250 197.2 253.1 199 256.3 200.8C259.5 202.5 262.6 204.3 265.8 206.1C268.9 207.8 272.1 209.6 275.3 211.3C278.4 213 281.6 214.6 284.8 216.3C287.9 217.9 291.1 219.5 294.3 221C297.4 222.5 300.6 224 303.8 225.4C306.9 226.8 310.1 228.2 313.3 229.5C316.4 230.8 319.6 232 322.8 233.2C325.9 234.4 329.1 235.5 332.2 236.5C335.4 237.5 338.6 238.5 341.7 239.4C344.9 240.2 348.1 241 351.2 241.8C354.4 242.5 357.6 243.2 360.7 243.8C363.9 244.4 367.1 244.9 370.2 245.4C373.4 245.9 376.6 246.3 379.7 246.6C382.9 246.9 386.1 247.2 389.2 247.4C392.4 247.7 395.6 247.8 398.7 248C401.9 248.1 405 248.2 408.2 248.3C411.4 248.3 414.5 248.4 417.7 248.4C420.9 248.4 424 248.4 427.2 248.4"/>
<path class="g" d="M47.4 248.4C50.6 248.4 53.7 248.2 56.9 247.7C60.1 247.3 63.2 246.7 66.4 245.9C69.6 245.1 72.7 244.2 75.9 243.1C79 242 82.2 240.8 85.4 239.5C88.5 238.2 91.7 236.8 94.9 235.3C98 233.8 101.2 232.2 104.4 230.5C107.5 228.9 110.7 227.2 113.9 225.5C117 223.8 120.2 222 123.4 220.3C126.5 218.5 129.7 216.7 132.9 215C136 213.2 139.2 211.5 142.3 209.8C145.5 208 148.7 206.4 151.8 204.7C155 203.1 158.2 201.5 161.3 199.9C164.5 198.4 167.7 196.9 170.8 195.5C174 194.1 177.2 192.8 180.3 191.5C183.5 190.3 186.7 189.1 189.8 188C193 187 196.2 186 199.3 185.1C202.5 184.2 205.7 183.4 208.8 182.8C212 182.1 215.1 181.5 218.3 181.1C221.5 180.6 224.6 180.3 227.8 180.1C231 179.8 234.1 179.7 237.3 179.7C240.5 179.7 243.6 179.8 246.8 180.1C250 180.3 253.1 180.6 256.3 181.1C259.5 181.5 262.6 182.1 265.8 182.8C268.9 183.4 272.1 184.2 275.3 185.1C278.4 186 281.6 187 284.8 188C287.9 189.1 291.1 190.3 294.3 191.5C297.4 192.8 300.6 194.1 303.8 195.5C306.9 196.9 310.1 198.4 313.3 199.9C316.4 201.5 319.6 203.1 322.8 204.7C325.9 206.4 329.1 208 332.2 209.8C335.4 211.5 338.6 213.2 341.7 215C344.9 216.7 348.1 218.5 351.2 220.3C354.4 222 357.6 223.8 360.7 225.5C363.9 227.2 367.1 228.9 370.2 230.5C373.4 232.2 376.6 233.8 379.7 235.3C382.9 236.8 386.1 238.2 389.2 239.5C392.4 240.8 395.6 242 398.7 243.1C401.9 244.2 405 245.1 408.2 245.9C411.4 246.7 414.5 247.3 417.7 247.7C420.9 248.2 424 248.4 427.2 248.4"/>
<path class="g" d="M47.4 248.4C50.6 248.4 53.7 248.4 56.9 248.4C60.1 248.4 63.2 248.3 66.4 248.3C69.6 248.2 72.7 248.1 75.9 248C79 247.8 82.2 247.7 85.4 247.4C88.5 247.2 91.7 246.9 94.9 246.6C98 246.3 101.2 245.9 104.4 245.4C107.5 244.9 110.7 244.4 113.9 243.8C117 243.2 120.2 242.5 123.4 241.8C126.5 241 129.7 240.2 132.9 239.4C136 238.5 139.2 237.5 142.3 236.5C145.5 235.5 148.7 234.4 151.8 233.2C155 232 158.2 230.8 161.3 229.5C164.5 228.2 167.7 226.8 170.8 225.4C174 224 177.2 222.5 180.3 221C183.5 219.5 186.7 217.9 189.8 216.3C193 214.6 196.2 213 199.3 211.3C202.5 209.6 205.7 207.8 208.8 206.1C212 204.3 215.1 202.5 218.3 200.8C221.5 199 224.6 197.2 227.8 195.4C231 193.6 234.1 191.8 237.3 190C240.5 188.2 243.6 186.5 246.8 184.8C250 183 253.1 181.3 256.3 179.7C259.5 178.1 262.6 176.5 265.8 174.9C268.9 173.4 272.1 171.9 275.3 170.5C278.4 169.2 281.6 167.9 284.8 166.6C287.9 165.4 291.1 164.3 294.3 163.4C297.4 162.4 300.6 161.5 303.8 160.8C306.9 160.1 310.1 159.5 313.3 159.1C316.4 158.6 319.6 158.4 322.8 158.3C325.9 158.2 329.1 158.3 332.2 158.6C335.4 158.9 338.6 159.3 341.7 160.1C344.9 160.8 348.1 161.7 351.2 162.9C354.4 164 357.6 165.5 360.7 167.1C363.9 168.8 367.1 170.8 370.2 173C373.4 175.2 376.6 177.7 379.7 180.5C382.9 183.3 386.1 186.5 389.2 189.9C392.4 193.4 395.6 197.1 398.7 201.3C401.9 205.4 405 209.9 408.2 214.7C411.4 219.6 414.5 224.8 417.7 230.4C420.9 236 424 242 427.2 248.4"/>
<path class="g" d="M47.4 248.4C50.6 248.4 53.7 248.4 56.9 248.4C60.1 248.4 63.2 248.4 66.4 248.4C69.6 248.4 72.7 248.4 75.9 248.4C79 248.4 82.2 248.4 85.4 248.4C88.5 248.4 91.7 248.3 94.9 248.3C98 248.3 101.2 248.3 104.4 248.2C107.5 248.2 110.7 248.2 113.9 248.1C117 248.1 120.2 248 123.4 247.9C126.5 247.8 129.7 247.7 132.9 247.6C136 247.5 139.2 247.4 142.3 247.2C145.5 247.1 148.7 246.9 151.8 246.7C155 246.5 158.2 246.3 161.3 246C164.5 245.7 167.7 245.4 170.8 245.1C174 244.8 177.2 244.4 180.3 244C183.5 243.6 186.7 243.2 189.8 242.7C193 242.2 196.2 241.7 199.3 241.1C202.5 240.5 205.7 239.9 208.8 239.2C212 238.5 215.1 237.7 218.3 236.9C221.5 236.1 224.6 235.2 227.8 234.3C231 233.3 234.1 232.3 237.3 231.2C240.5 230.1 243.6 229 246.8 227.7C250 226.5 253.1 225.2 256.3 223.8C259.5 222.4 262.6 220.9 265.8 219.3C268.9 217.7 272.1 216 275.3 214.2C278.4 212.4 281.6 210.6 284.8 208.6C287.9 206.6 291.1 204.5 294.3 202.3C297.4 200.1 300.6 197.8 303.8 195.4C306.9 192.9 310.1 190.4 313.3 187.7C316.4 185 319.6 182.2 322.8 179.3C325.9 176.4 329.1 173.3 332.2 170.2C335.4 167 338.6 163.7 341.7 160.2C344.9 156.7 348.1 153.1 351.2 149.4C354.4 145.6 357.6 141.7 360.7 137.7C363.9 133.6 367.1 129.4 370.2 125.1C373.4 120.7 376.6 116.2 379.7 111.5C382.9 106.8 386.1 102 389.2 97C392.4 92 395.6 86.8 398.7 81.5C401.9 76.1 405 70.6 408.2 64.9C411.4 59.2 414.5 53.3 417.7 47.3C420.9 41.2 424 35 427.2 28.6"/>
<path class="tk" d="M47.4 259.4h2.3M47.4 237.4h2.3M47.4 226.4h2.3M47.4 215.4h2.3M47.4 204.4h4.4M47.4 193.4h2.3M47.4 182.5h2.3M47.4 171.5h2.3M47.4 160.5h4.4M47.4 149.5h2.3M47.4 138.5h2.3M47.4 127.5h2.3M47.4 116.5h4.4M47.4 105.5h2.3M47.4 94.5h2.3M47.4 83.5h2.3M47.4 72.6h4.4M47.4 61.6h2.3M47.4 50.6h2.3M47.4 39.6h2.3M47.4 28.6h4.4M47.4 17.6h2.3M66.4 248.4v-2.3M85.4 248.4v-2.3M104.4 248.4v-2.3M123.4 248.4v-4.4M142.3 248.4v-2.3M161.3 248.4v-2.3M180.3 248.4v-2.3M199.3 248.4v-4.4M218.3 248.4v-2.3M237.3 248.4v-2.3M256.3 248.4v-2.3M275.3 248.4v-4.4M294.3 248.4v-2.3M313.3 248.4v-2.3M332.2 248.4v-2.3M351.2 248.4v-4.4M370.2 248.4v-2.3M389.2 248.4v-2.3M408.2 248.4v-2.3M427.2 248.4v-4.4"/>
<path class="ax" d="M671 248.9H1060.3"/>
<path class="ax" d="M679.2 21V261.4"/>
<text class="tl" text-anchor="end" transform="translate(674.8 209.5) scale(0.9 1)">0.2</text>
<text class="tl" text-anchor="middle" transform="translate(753.4 263.2) scale(0.9 1)">0.2</text>
<text class="tl" text-anchor="end" transform="translate(674.8 166.2) scale(0.9 1)">0.4</text>
<text class="tl" text-anchor="middle" transform="translate(828 263.2) scale(0.9 1)">0.4</text>
<text class="tl" text-anchor="end" transform="translate(674.8 123) scale(0.9 1)">0.6</text>
<text class="tl" text-anchor="middle" transform="translate(902.5 263.2) scale(0.9 1)">0.6</text>
<text class="tl" text-anchor="end" transform="translate(674.8 79.7) scale(0.9 1)">0.8</text>
<text class="tl" text-anchor="middle" transform="translate(977.1 263.2) scale(0.9 1)">0.8</text>
<text class="tl" text-anchor="end" transform="translate(674.8 36.4) scale(0.9 1)">1.0</text>
<text class="tl" text-anchor="middle" transform="translate(1051.7 263.2) scale(0.9 1)">1.0</text>
<path class="d" d="M679.2 32.5C682.3 41.5 685.4 50.1 688.5 58.2C691.6 66.4 694.7 74.1 697.8 81.5C701 88.8 704.1 95.8 707.2 102.4C710.3 109 713.4 115.2 716.5 121.1C719.6 127 722.7 132.6 725.8 137.9C728.9 143.2 732 148.2 735.1 152.9C738.2 157.6 741.4 162 744.5 166.2C747.6 170.4 750.7 174.3 753.8 178C756.9 181.7 760 185.1 763.1 188.4C766.2 191.7 769.3 194.7 772.4 197.5C775.5 200.4 778.6 203.1 781.7 205.6C784.9 208 788 210.4 791.1 212.5C794.2 214.7 797.3 216.7 800.4 218.6C803.5 220.4 806.6 222.2 809.7 223.8C812.8 225.4 815.9 226.9 819 228.3C822.1 229.6 825.3 230.9 828.4 232.1C831.5 233.2 834.6 234.3 837.7 235.3C840.8 236.3 843.9 237.2 847 238C850.1 238.8 853.2 239.6 856.3 240.3C859.4 241 862.5 241.6 865.6 242.1C868.8 242.7 871.9 243.2 875 243.7C878.1 244.1 881.2 244.5 884.3 244.9C887.4 245.3 890.5 245.6 893.6 245.9C896.7 246.2 899.8 246.5 902.9 246.7C906 246.9 909.2 247.1 912.3 247.3C915.4 247.5 918.5 247.6 921.6 247.8C924.7 247.9 927.8 248 930.9 248.1C934 248.2 937.1 248.3 940.2 248.4C943.3 248.4 946.4 248.5 949.6 248.6C952.7 248.6 955.8 248.7 958.9 248.7C962 248.7 965.1 248.8 968.2 248.8C971.3 248.8 974.4 248.8 977.5 248.8C980.6 248.8 983.7 248.9 986.8 248.9C989.9 248.9 993.1 248.9 996.2 248.9C999.3 248.9 1002.4 248.9 1005.5 248.9C1008.6 248.9 1011.7 248.9 1014.8 248.9C1017.9 248.9 1021 248.9 1024.1 248.9C1027.2 248.9 1030.3 248.9 1033.5 248.9C1036.6 248.9 1039.7 248.9 1042.8 248.9C1045.9 248.9 1049 248.9 1052.1 248.9"/>
<path class="d" d="M679.2 248.9C682.3 239.9 685.4 231.8 688.5 224.5C691.6 217.1 694.7 210.6 697.8 204.8C701 199 704.1 194 707.2 189.5C710.3 185 713.4 181.2 716.5 177.9C719.6 174.6 722.7 171.9 725.8 169.6C728.9 167.4 732 165.6 735.1 164.2C738.2 162.8 741.4 161.8 744.5 161.2C747.6 160.6 750.7 160.3 753.8 160.3C756.9 160.3 760 160.6 763.1 161.1C766.2 161.6 769.3 162.4 772.4 163.3C775.5 164.3 778.6 165.4 781.7 166.7C784.9 168 788 169.4 791.1 171C794.2 172.5 797.3 174.2 800.4 175.9C803.5 177.6 806.6 179.4 809.7 181.3C812.8 183.2 815.9 185.1 819 187C822.1 188.9 825.3 190.9 828.4 192.8C831.5 194.8 834.6 196.7 837.7 198.6C840.8 200.6 843.9 202.5 847 204.3C850.1 206.2 853.2 208.1 856.3 209.9C859.4 211.6 862.5 213.4 865.6 215.1C868.8 216.8 871.9 218.4 875 220C878.1 221.6 881.2 223.1 884.3 224.5C887.4 225.9 890.5 227.3 893.6 228.6C896.7 229.9 899.8 231.1 902.9 232.3C906 233.4 909.2 234.5 912.3 235.5C915.4 236.5 918.5 237.5 921.6 238.3C924.7 239.2 927.8 240 930.9 240.8C934 241.5 937.1 242.2 940.2 242.8C943.3 243.4 946.4 243.9 949.6 244.4C952.7 244.9 955.8 245.3 958.9 245.7C962 246.1 965.1 246.5 968.2 246.8C971.3 247 974.4 247.3 977.5 247.5C980.6 247.7 983.7 247.9 986.8 248.1C989.9 248.2 993.1 248.3 996.2 248.4C999.3 248.5 1002.4 248.6 1005.5 248.7C1008.6 248.7 1011.7 248.8 1014.8 248.8C1017.9 248.8 1021 248.9 1024.1 248.9C1027.2 248.9 1030.3 248.9 1033.5 248.9C1036.6 248.9 1039.7 248.9 1042.8 248.9C1045.9 248.9 1049 248.9 1052.1 248.9"/>
<path class="d" d="M679.2 248.9C682.3 248.9 685.4 248.4 688.5 247.6C691.6 246.8 694.7 245.7 697.8 244.3C701 242.8 704.1 241.1 707.2 239.3C710.3 237.4 713.4 235.3 716.5 233.1C719.6 230.9 722.7 228.6 725.8 226.2C728.9 223.9 732 221.4 735.1 219C738.2 216.6 741.4 214.1 744.5 211.7C747.6 209.3 750.7 206.9 753.8 204.6C756.9 202.3 760 200 763.1 197.9C766.2 195.8 769.3 193.7 772.4 191.8C775.5 189.9 778.6 188.2 781.7 186.5C784.9 184.9 788 183.4 791.1 182.1C794.2 180.8 797.3 179.6 800.4 178.6C803.5 177.6 806.6 176.8 809.7 176.1C812.8 175.4 815.9 174.9 819 174.6C822.1 174.3 825.3 174.1 828.4 174.1C831.5 174.1 834.6 174.3 837.7 174.6C840.8 174.9 843.9 175.4 847 176C850.1 176.6 853.2 177.4 856.3 178.2C859.4 179.1 862.5 180.1 865.6 181.3C868.8 182.4 871.9 183.6 875 185C878.1 186.3 881.2 187.7 884.3 189.2C887.4 190.8 890.5 192.3 893.6 194C896.7 195.6 899.8 197.3 902.9 199C906 200.8 909.2 202.5 912.3 204.3C915.4 206.1 918.5 207.9 921.6 209.7C924.7 211.5 927.8 213.3 930.9 215.1C934 216.8 937.1 218.6 940.2 220.3C943.3 222 946.4 223.6 949.6 225.2C952.7 226.9 955.8 228.4 958.9 229.9C962 231.4 965.1 232.8 968.2 234.1C971.3 235.4 974.4 236.7 977.5 237.8C980.6 239 983.7 240 986.8 241C989.9 242 993.1 242.8 996.2 243.6C999.3 244.4 1002.4 245.1 1005.5 245.7C1008.6 246.2 1011.7 246.7 1014.8 247.1C1017.9 247.6 1021 247.9 1024.1 248.1C1027.2 248.4 1030.3 248.5 1033.5 248.7C1036.6 248.8 1039.7 248.8 1042.8 248.9C1045.9 248.9 1049 248.9 1052.1 248.9"/>
<path class="d" d="M679.2 248.9C682.3 248.9 685.4 248.9 688.5 248.9C691.6 248.8 694.7 248.8 697.8 248.7C701 248.5 704.1 248.4 707.2 248.1C710.3 247.9 713.4 247.6 716.5 247.1C719.6 246.7 722.7 246.2 725.8 245.7C728.9 245.1 732 244.4 735.1 243.6C738.2 242.8 741.4 242 744.5 241C747.6 240 750.7 239 753.8 237.8C756.9 236.7 760 235.4 763.1 234.1C766.2 232.8 769.3 231.4 772.4 229.9C775.5 228.4 778.6 226.9 781.7 225.2C784.9 223.6 788 222 791.1 220.3C794.2 218.6 797.3 216.8 800.4 215.1C803.5 213.3 806.6 211.5 809.7 209.7C812.8 207.9 815.9 206.1 819 204.3C822.1 202.5 825.3 200.8 828.4 199C831.5 197.3 834.6 195.6 837.7 194C840.8 192.3 843.9 190.8 847 189.2C850.1 187.7 853.2 186.3 856.3 185C859.4 183.6 862.5 182.4 865.6 181.3C868.8 180.1 871.9 179.1 875 178.2C878.1 177.4 881.2 176.6 884.3 176C887.4 175.4 890.5 174.9 893.6 174.6C896.7 174.3 899.8 174.1 902.9 174.1C906 174.1 909.2 174.3 912.3 174.6C915.4 174.9 918.5 175.4 921.6 176.1C924.7 176.8 927.8 177.6 930.9 178.6C934 179.6 937.1 180.8 940.2 182.1C943.3 183.4 946.4 184.9 949.6 186.5C952.7 188.2 955.8 189.9 958.9 191.8C962 193.7 965.1 195.8 968.2 197.9C971.3 200 974.4 202.3 977.5 204.6C980.6 206.9 983.7 209.3 986.8 211.7C989.9 214.1 993.1 216.6 996.2 219C999.3 221.4 1002.4 223.9 1005.5 226.2C1008.6 228.6 1011.7 230.9 1014.8 233.1C1017.9 235.3 1021 237.4 1024.1 239.3C1027.2 241.1 1030.3 242.8 1033.5 244.3C1036.6 245.7 1039.7 246.8 1042.8 247.6C1045.9 248.4 1049 248.9 1052.1 248.9"/>
<path class="d" d="M679.2 248.9C682.3 248.9 685.4 248.9 688.5 248.9C691.6 248.9 694.7 248.9 697.8 248.9C701 248.9 704.1 248.9 707.2 248.9C710.3 248.9 713.4 248.8 716.5 248.8C719.6 248.8 722.7 248.7 725.8 248.7C728.9 248.6 732 248.5 735.1 248.4C738.2 248.3 741.4 248.2 744.5 248.1C747.6 247.9 750.7 247.7 753.8 247.5C756.9 247.3 760 247 763.1 246.8C766.2 246.5 769.3 246.1 772.4 245.7C775.5 245.3 778.6 244.9 781.7 244.4C784.9 243.9 788 243.4 791.1 242.8C794.2 242.2 797.3 241.5 800.4 240.8C803.5 240 806.6 239.2 809.7 238.3C812.8 237.5 815.9 236.5 819 235.5C822.1 234.5 825.3 233.4 828.4 232.3C831.5 231.1 834.6 229.9 837.7 228.6C840.8 227.3 843.9 225.9 847 224.5C850.1 223.1 853.2 221.6 856.3 220C859.4 218.4 862.5 216.8 865.6 215.1C868.8 213.4 871.9 211.6 875 209.9C878.1 208.1 881.2 206.2 884.3 204.3C887.4 202.5 890.5 200.6 893.6 198.6C896.7 196.7 899.8 194.8 902.9 192.8C906 190.9 909.2 188.9 912.3 187C915.4 185.1 918.5 183.2 921.6 181.3C924.7 179.4 927.8 177.6 930.9 175.9C934 174.2 937.1 172.5 940.2 171C943.3 169.4 946.4 168 949.6 166.7C952.7 165.4 955.8 164.3 958.9 163.3C962 162.4 965.1 161.6 968.2 161.1C971.3 160.6 974.4 160.3 977.5 160.3C980.6 160.3 983.7 160.6 986.8 161.2C989.9 161.8 993.1 162.8 996.2 164.2C999.3 165.6 1002.4 167.4 1005.5 169.6C1008.6 171.9 1011.7 174.6 1014.8 177.9C1017.9 181.2 1021 185 1024.1 189.5C1027.2 194 1030.3 199 1033.5 204.8C1036.6 210.6 1039.7 217.1 1042.8 224.5C1045.9 231.8 1049 239.9 1052.1 248.9"/>
<path class="d" d="M679.2 248.9C682.3 248.9 685.4 248.9 688.5 248.9C691.6 248.9 694.7 248.9 697.8 248.9C701 248.9 704.1 248.9 707.2 248.9C710.3 248.9 713.4 248.9 716.5 248.9C719.6 248.9 722.7 248.9 725.8 248.9C728.9 248.9 732 248.9 735.1 248.9C738.2 248.9 741.4 248.9 744.5 248.9C747.6 248.9 750.7 248.8 753.8 248.8C756.9 248.8 760 248.8 763.1 248.8C766.2 248.8 769.3 248.7 772.4 248.7C775.5 248.7 778.6 248.6 781.7 248.6C784.9 248.5 788 248.4 791.1 248.4C794.2 248.3 797.3 248.2 800.4 248.1C803.5 248 806.6 247.9 809.7 247.8C812.8 247.6 815.9 247.5 819 247.3C822.1 247.1 825.3 246.9 828.4 246.7C831.5 246.5 834.6 246.2 837.7 245.9C840.8 245.6 843.9 245.3 847 244.9C850.1 244.5 853.2 244.1 856.3 243.7C859.4 243.2 862.5 242.7 865.6 242.1C868.8 241.6 871.9 241 875 240.3C878.1 239.6 881.2 238.8 884.3 238C887.4 237.2 890.5 236.3 893.6 235.3C896.7 234.3 899.8 233.2 902.9 232.1C906 230.9 909.2 229.6 912.3 228.3C915.4 226.9 918.5 225.4 921.6 223.8C924.7 222.2 927.8 220.4 930.9 218.6C934 216.7 937.1 214.7 940.2 212.5C943.3 210.4 946.4 208 949.6 205.6C952.7 203.1 955.8 200.4 958.9 197.5C962 194.7 965.1 191.7 968.2 188.4C971.3 185.1 974.4 181.7 977.5 178C980.6 174.3 983.7 170.4 986.8 166.2C989.9 162 993.1 157.6 996.2 152.9C999.3 148.2 1002.4 143.2 1005.5 137.9C1008.6 132.6 1011.7 127 1014.8 121.1C1017.9 115.2 1021 109 1024.1 102.4C1027.2 95.8 1030.3 88.8 1033.5 81.5C1036.6 74.1 1039.7 66.4 1042.8 58.2C1045.9 50.1 1049 41.5 1052.1 32.5"/>
<path class="b" d="M679.2 32.5C682.3 43.3 685.4 53.5 688.5 63C691.6 72.5 694.7 81.5 697.8 89.8C701 98.2 704.1 106 707.2 113.3C710.3 120.7 713.4 127.5 716.5 133.9C719.6 140.3 722.7 146.2 725.8 151.8C728.9 157.3 732 162.5 735.1 167.3C738.2 172.1 741.4 176.5 744.5 180.7C747.6 184.8 750.7 188.6 753.8 192.2C756.9 195.7 760 199 763.1 202C766.2 205 769.3 207.8 772.4 210.4C775.5 213 778.6 215.3 781.7 217.5C784.9 219.6 788 221.6 791.1 223.4C794.2 225.3 797.3 226.9 800.4 228.4C803.5 229.9 806.6 231.3 809.7 232.6C812.8 233.8 815.9 235 819 236C822.1 237 825.3 238 828.4 238.8C831.5 239.6 834.6 240.4 837.7 241.1C840.8 241.8 843.9 242.4 847 242.9C850.1 243.5 853.2 243.9 856.3 244.4C859.4 244.8 862.5 245.2 865.6 245.5C868.8 245.9 871.9 246.2 875 246.4C878.1 246.7 881.2 246.9 884.3 247.1C887.4 247.3 890.5 247.5 893.6 247.6C896.7 247.8 899.8 247.9 902.9 248C906 248.1 909.2 248.2 912.3 248.3C915.4 248.4 918.5 248.4 921.6 248.5C924.7 248.6 927.8 248.6 930.9 248.6C934 248.7 937.1 248.7 940.2 248.7C943.3 248.8 946.4 248.8 949.6 248.8C952.7 248.8 955.8 248.8 958.9 248.8C962 248.9 965.1 248.9 968.2 248.9C971.3 248.9 974.4 248.9 977.5 248.9C980.6 248.9 983.7 248.9 986.8 248.9C989.9 248.9 993.1 248.9 996.2 248.9C999.3 248.9 1002.4 248.9 1005.5 248.9C1008.6 248.9 1011.7 248.9 1014.8 248.9C1017.9 248.9 1021 248.9 1024.1 248.9C1027.2 248.9 1030.3 248.9 1033.5 248.9C1036.6 248.9 1039.7 248.9 1042.8 248.9C1045.9 248.9 1049 248.9 1052.1 248.9"/>
<path class="b" d="M679.2 248.9C682.3 238.1 685.4 228.5 688.5 220C691.6 211.5 694.7 204.1 697.8 197.6C701 191.1 704.1 185.5 707.2 180.7C710.3 176 713.4 172 716.5 168.7C719.6 165.4 722.7 162.8 725.8 160.7C728.9 158.6 732 157.2 735.1 156.1C738.2 155.1 741.4 154.6 744.5 154.4C747.6 154.2 750.7 154.4 753.8 154.9C756.9 155.5 760 156.3 763.1 157.3C766.2 158.4 769.3 159.7 772.4 161.2C775.5 162.6 778.6 164.3 781.7 166.1C784.9 167.9 788 169.8 791.1 171.7C794.2 173.7 797.3 175.8 800.4 177.9C803.5 180 806.6 182.2 809.7 184.3C812.8 186.5 815.9 188.7 819 190.9C822.1 193 825.3 195.2 828.4 197.3C831.5 199.4 834.6 201.5 837.7 203.5C840.8 205.6 843.9 207.5 847 209.5C850.1 211.4 853.2 213.2 856.3 215C859.4 216.8 862.5 218.5 865.6 220.2C868.8 221.8 871.9 223.4 875 224.8C878.1 226.3 881.2 227.7 884.3 229C887.4 230.3 890.5 231.6 893.6 232.7C896.7 233.9 899.8 234.9 902.9 235.9C906 236.9 909.2 237.9 912.3 238.7C915.4 239.6 918.5 240.3 921.6 241C924.7 241.7 927.8 242.4 930.9 243C934 243.6 937.1 244.1 940.2 244.5C943.3 245 946.4 245.4 949.6 245.8C952.7 246.2 955.8 246.5 958.9 246.8C962 247 965.1 247.3 968.2 247.5C971.3 247.7 974.4 247.9 977.5 248C980.6 248.2 983.7 248.3 986.8 248.4C989.9 248.5 993.1 248.6 996.2 248.6C999.3 248.7 1002.4 248.7 1005.5 248.8C1008.6 248.8 1011.7 248.8 1014.8 248.8C1017.9 248.9 1021 248.9 1024.1 248.9C1027.2 248.9 1030.3 248.9 1033.5 248.9C1036.6 248.9 1039.7 248.9 1042.8 248.9C1045.9 248.9 1049 248.9 1052.1 248.9"/>
<path class="b" d="M679.2 248.9C682.3 248.9 685.4 248.3 688.5 247.3C691.6 246.3 694.7 244.9 697.8 243.2C701 241.4 704.1 239.3 707.2 237C710.3 234.7 713.4 232.2 716.5 229.6C719.6 226.9 722.7 224.1 725.8 221.3C728.9 218.4 732 215.5 735.1 212.6C738.2 209.7 741.4 206.8 744.5 204C747.6 201.2 750.7 198.4 753.8 195.7C756.9 193 760 190.5 763.1 188C766.2 185.6 769.3 183.3 772.4 181.1C775.5 179 778.6 177 781.7 175.2C784.9 173.4 788 171.8 791.1 170.4C794.2 169 797.3 167.8 800.4 166.7C803.5 165.7 806.6 164.9 809.7 164.3C812.8 163.6 815.9 163.2 819 163C822.1 162.8 825.3 162.7 828.4 162.9C831.5 163 834.6 163.4 837.7 163.9C840.8 164.4 843.9 165.1 847 166C850.1 166.8 853.2 167.8 856.3 169C859.4 170.1 862.5 171.4 865.6 172.8C868.8 174.2 871.9 175.8 875 177.4C878.1 179 881.2 180.7 884.3 182.5C887.4 184.3 890.5 186.2 893.6 188.1C896.7 190.1 899.8 192 902.9 194.1C906 196.1 909.2 198.1 912.3 200.1C915.4 202.2 918.5 204.2 921.6 206.3C924.7 208.3 927.8 210.3 930.9 212.3C934 214.3 937.1 216.2 940.2 218.1C943.3 220 946.4 221.9 949.6 223.6C952.7 225.4 955.8 227.1 958.9 228.7C962 230.3 965.1 231.8 968.2 233.3C971.3 234.7 974.4 236 977.5 237.3C980.6 238.5 983.7 239.6 986.8 240.7C989.9 241.7 993.1 242.6 996.2 243.4C999.3 244.2 1002.4 245 1005.5 245.6C1008.6 246.2 1011.7 246.7 1014.8 247.1C1017.9 247.5 1021 247.9 1024.1 248.1C1027.2 248.4 1030.3 248.5 1033.5 248.7C1036.6 248.8 1039.7 248.8 1042.8 248.9C1045.9 248.9 1049 248.9 1052.1 248.9"/>
<path class="b" d="M679.2 248.9C682.3 248.9 685.4 248.9 688.5 248.9C691.6 248.8 694.7 248.8 697.8 248.7C701 248.5 704.1 248.4 707.2 248.1C710.3 247.9 713.4 247.5 716.5 247.1C719.6 246.7 722.7 246.2 725.8 245.6C728.9 245 732 244.2 735.1 243.4C738.2 242.6 741.4 241.7 744.5 240.7C747.6 239.6 750.7 238.5 753.8 237.3C756.9 236 760 234.7 763.1 233.3C766.2 231.8 769.3 230.3 772.4 228.7C775.5 227.1 778.6 225.4 781.7 223.6C784.9 221.9 788 220 791.1 218.1C794.2 216.2 797.3 214.3 800.4 212.3C803.5 210.3 806.6 208.3 809.7 206.3C812.8 204.2 815.9 202.2 819 200.1C822.1 198.1 825.3 196.1 828.4 194.1C831.5 192 834.6 190.1 837.7 188.1C840.8 186.2 843.9 184.3 847 182.5C850.1 180.7 853.2 179 856.3 177.4C859.4 175.8 862.5 174.2 865.6 172.8C868.8 171.4 871.9 170.1 875 169C878.1 167.8 881.2 166.8 884.3 166C887.4 165.1 890.5 164.4 893.6 163.9C896.7 163.4 899.8 163 902.9 162.9C906 162.7 909.2 162.8 912.3 163C915.4 163.2 918.5 163.6 921.6 164.3C924.7 164.9 927.8 165.7 930.9 166.7C934 167.8 937.1 169 940.2 170.4C943.3 171.8 946.4 173.4 949.6 175.2C952.7 177 955.8 179 958.9 181.1C962 183.3 965.1 185.6 968.2 188C971.3 190.5 974.4 193 977.5 195.7C980.6 198.4 983.7 201.2 986.8 204C989.9 206.8 993.1 209.7 996.2 212.6C999.3 215.5 1002.4 218.4 1005.5 221.3C1008.6 224.1 1011.7 226.9 1014.8 229.6C1017.9 232.2 1021 234.7 1024.1 237C1027.2 239.3 1030.3 241.4 1033.5 243.2C1036.6 244.9 1039.7 246.3 1042.8 247.3C1045.9 248.3 1049 248.9 1052.1 248.9"/>
<path class="b" d="M679.2 248.9C682.3 248.9 685.4 248.9 688.5 248.9C691.6 248.9 694.7 248.9 697.8 248.9C701 248.9 704.1 248.9 707.2 248.9C710.3 248.9 713.4 248.9 716.5 248.8C719.6 248.8 722.7 248.8 725.8 248.8C728.9 248.7 732 248.7 735.1 248.6C738.2 248.6 741.4 248.5 744.5 248.4C747.6 248.3 750.7 248.2 753.8 248C756.9 247.9 760 247.7 763.1 247.5C766.2 247.3 769.3 247 772.4 246.8C775.5 246.5 778.6 246.2 781.7 245.8C784.9 245.4 788 245 791.1 244.5C794.2 244.1 797.3 243.6 800.4 243C803.5 242.4 806.6 241.7 809.7 241C812.8 240.3 815.9 239.6 819 238.7C822.1 237.9 825.3 236.9 828.4 235.9C831.5 234.9 834.6 233.9 837.7 232.7C840.8 231.6 843.9 230.3 847 229C850.1 227.7 853.2 226.3 856.3 224.8C859.4 223.4 862.5 221.8 865.6 220.2C868.8 218.5 871.9 216.8 875 215C878.1 213.2 881.2 211.4 884.3 209.5C887.4 207.5 890.5 205.6 893.6 203.5C896.7 201.5 899.8 199.4 902.9 197.3C906 195.2 909.2 193 912.3 190.9C915.4 188.7 918.5 186.5 921.6 184.3C924.7 182.2 927.8 180 930.9 177.9C934 175.8 937.1 173.7 940.2 171.7C943.3 169.8 946.4 167.9 949.6 166.1C952.7 164.3 955.8 162.6 958.9 161.2C962 159.7 965.1 158.4 968.2 157.3C971.3 156.3 974.4 155.5 977.5 154.9C980.6 154.4 983.7 154.2 986.8 154.4C989.9 154.6 993.1 155.1 996.2 156.1C999.3 157.2 1002.4 158.6 1005.5 160.7C1008.6 162.8 1011.7 165.4 1014.8 168.7C1017.9 172 1021 176 1024.1 180.7C1027.2 185.5 1030.3 191.1 1033.5 197.6C1036.6 204.1 1039.7 211.5 1042.8 220C1045.9 228.5 1049 238.1 1052.1 248.9"/>
<path class="b" d="M679.2 248.9C682.3 248.9 685.4 248.9 688.5 248.9C691.6 248.9 694.7 248.9 697.8 248.9C701 248.9 704.1 248.9 707.2 248.9C710.3 248.9 713.4 248.9 716.5 248.9C719.6 248.9 722.7 248.9 725.8 248.9C728.9 248.9 732 248.9 735.1 248.9C738.2 248.9 741.4 248.9 744.5 248.9C747.6 248.9 750.7 248.9 753.8 248.9C756.9 248.9 760 248.9 763.1 248.9C766.2 248.9 769.3 248.9 772.4 248.8C775.5 248.8 778.6 248.8 781.7 248.8C784.9 248.8 788 248.8 791.1 248.7C794.2 248.7 797.3 248.7 800.4 248.6C803.5 248.6 806.6 248.6 809.7 248.5C812.8 248.4 815.9 248.4 819 248.3C822.1 248.2 825.3 248.1 828.4 248C831.5 247.9 834.6 247.8 837.7 247.6C840.8 247.5 843.9 247.3 847 247.1C850.1 246.9 853.2 246.7 856.3 246.4C859.4 246.2 862.5 245.9 865.6 245.5C868.8 245.2 871.9 244.8 875 244.4C878.1 243.9 881.2 243.5 884.3 242.9C887.4 242.4 890.5 241.8 893.6 241.1C896.7 240.4 899.8 239.6 902.9 238.8C906 238 909.2 237 912.3 236C915.4 235 918.5 233.8 921.6 232.6C924.7 231.3 927.8 229.9 930.9 228.4C934 226.9 937.1 225.3 940.2 223.4C943.3 221.6 946.4 219.6 949.6 217.5C952.7 215.3 955.8 213 958.9 210.4C962 207.8 965.1 205 968.2 202C971.3 199 974.4 195.7 977.5 192.2C980.6 188.6 983.7 184.8 986.8 180.7C989.9 176.5 993.1 172.1 996.2 167.3C999.3 162.5 1002.4 157.3 1005.5 151.8C1008.6 146.2 1011.7 140.3 1014.8 133.9C1017.9 127.5 1021 120.7 1024.1 113.3C1027.2 106 1030.3 98.2 1033.5 89.8C1036.6 81.5 1039.7 72.5 1042.8 63C1045.9 53.5 1049 43.3 1052.1 32.5"/>
<path class="r" d="M679.2 32.5C682.3 42.4 685.4 51.8 688.5 60.6C691.6 69.5 694.7 77.8 697.8 85.6C701 93.5 704.1 100.9 707.2 107.9C710.3 114.8 713.4 121.4 716.5 127.5C719.6 133.7 722.7 139.4 725.8 144.8C728.9 150.3 732 155.3 735.1 160.1C738.2 164.8 741.4 169.3 744.5 173.4C747.6 177.6 750.7 181.5 753.8 185.1C756.9 188.7 760 192.1 763.1 195.2C766.2 198.3 769.3 201.3 772.4 204C775.5 206.7 778.6 209.2 781.7 211.5C784.9 213.8 788 216 791.1 218C794.2 220 797.3 221.8 800.4 223.5C803.5 225.2 806.6 226.8 809.7 228.2C812.8 229.6 815.9 230.9 819 232.1C822.1 233.3 825.3 234.4 828.4 235.4C831.5 236.4 834.6 237.4 837.7 238.2C840.8 239 843.9 239.8 847 240.5C850.1 241.1 853.2 241.8 856.3 242.3C859.4 242.9 862.5 243.4 865.6 243.8C868.8 244.3 871.9 244.7 875 245C878.1 245.4 881.2 245.7 884.3 246C887.4 246.3 890.5 246.5 893.6 246.8C896.7 247 899.8 247.2 902.9 247.3C906 247.5 909.2 247.7 912.3 247.8C915.4 247.9 918.5 248 921.6 248.1C924.7 248.2 927.8 248.3 930.9 248.4C934 248.5 937.1 248.5 940.2 248.6C943.3 248.6 946.4 248.6 949.6 248.7C952.7 248.7 955.8 248.7 958.9 248.8C962 248.8 965.1 248.8 968.2 248.8C971.3 248.8 974.4 248.8 977.5 248.9C980.6 248.9 983.7 248.9 986.8 248.9C989.9 248.9 993.1 248.9 996.2 248.9C999.3 248.9 1002.4 248.9 1005.5 248.9C1008.6 248.9 1011.7 248.9 1014.8 248.9C1017.9 248.9 1021 248.9 1024.1 248.9C1027.2 248.9 1030.3 248.9 1033.5 248.9C1036.6 248.9 1039.7 248.9 1042.8 248.9C1045.9 248.9 1049 248.9 1052.1 248.9"/>
<path class="r" d="M679.2 248.9C682.3 239 685.4 230.1 688.5 222.2C691.6 214.3 694.7 207.3 697.8 201.2C701 195.1 704.1 189.7 707.2 185.1C710.3 180.5 713.4 176.6 716.5 173.3C719.6 170 722.7 167.3 725.8 165.2C728.9 163 732 161.4 735.1 160.2C738.2 159 741.4 158.2 744.5 157.8C747.6 157.4 750.7 157.3 753.8 157.6C756.9 157.9 760 158.4 763.1 159.2C766.2 160 769.3 161 772.4 162.2C775.5 163.5 778.6 164.9 781.7 166.4C784.9 167.9 788 169.6 791.1 171.4C794.2 173.1 797.3 175 800.4 176.9C803.5 178.8 806.6 180.8 809.7 182.8C812.8 184.8 815.9 186.9 819 188.9C822.1 191 825.3 193 828.4 195.1C831.5 197.1 834.6 199.1 837.7 201.1C840.8 203.1 843.9 205 847 206.9C850.1 208.8 853.2 210.7 856.3 212.4C859.4 214.2 862.5 216 865.6 217.6C868.8 219.3 871.9 220.9 875 222.4C878.1 223.9 881.2 225.4 884.3 226.8C887.4 228.1 890.5 229.4 893.6 230.7C896.7 231.9 899.8 233 902.9 234.1C906 235.2 909.2 236.2 912.3 237.1C915.4 238 918.5 238.9 921.6 239.7C924.7 240.5 927.8 241.2 930.9 241.9C934 242.5 937.1 243.1 940.2 243.7C943.3 244.2 946.4 244.7 949.6 245.1C952.7 245.5 955.8 245.9 958.9 246.2C962 246.6 965.1 246.9 968.2 247.1C971.3 247.4 974.4 247.6 977.5 247.8C980.6 247.9 983.7 248.1 986.8 248.2C989.9 248.3 993.1 248.4 996.2 248.5C999.3 248.6 1002.4 248.7 1005.5 248.7C1008.6 248.8 1011.7 248.8 1014.8 248.8C1017.9 248.8 1021 248.9 1024.1 248.9C1027.2 248.9 1030.3 248.9 1033.5 248.9C1036.6 248.9 1039.7 248.9 1042.8 248.9C1045.9 248.9 1049 248.9 1052.1 248.9"/>
<path class="r" d="M679.2 248.9C682.3 248.9 685.4 248.4 688.5 247.5C691.6 246.6 694.7 245.3 697.8 243.7C701 242.1 704.1 240.2 707.2 238.2C710.3 236.1 713.4 233.8 716.5 231.3C719.6 228.9 722.7 226.4 725.8 223.8C728.9 221.2 732 218.5 735.1 215.8C738.2 213.1 741.4 210.5 744.5 207.8C747.6 205.2 750.7 202.6 753.8 200.1C756.9 197.7 760 195.3 763.1 193C766.2 190.7 769.3 188.5 772.4 186.5C775.5 184.5 778.6 182.6 781.7 180.9C784.9 179.2 788 177.6 791.1 176.3C794.2 174.9 797.3 173.7 800.4 172.7C803.5 171.7 806.6 170.8 809.7 170.2C812.8 169.5 815.9 169.1 819 168.8C822.1 168.5 825.3 168.4 828.4 168.5C831.5 168.6 834.6 168.8 837.7 169.3C840.8 169.7 843.9 170.2 847 171C850.1 171.7 853.2 172.6 856.3 173.6C859.4 174.6 862.5 175.8 865.6 177C868.8 178.3 871.9 179.7 875 181.2C878.1 182.7 881.2 184.2 884.3 185.9C887.4 187.5 890.5 189.3 893.6 191.1C896.7 192.8 899.8 194.7 902.9 196.5C906 198.4 909.2 200.3 912.3 202.2C915.4 204.1 918.5 206.1 921.6 208C924.7 209.9 927.8 211.8 930.9 213.7C934 215.6 937.1 217.4 940.2 219.2C943.3 221 946.4 222.7 949.6 224.4C952.7 226.1 955.8 227.7 958.9 229.3C962 230.8 965.1 232.3 968.2 233.7C971.3 235.1 974.4 236.3 977.5 237.5C980.6 238.7 983.7 239.8 986.8 240.8C989.9 241.8 993.1 242.7 996.2 243.5C999.3 244.3 1002.4 245 1005.5 245.6C1008.6 246.2 1011.7 246.7 1014.8 247.1C1017.9 247.5 1021 247.9 1024.1 248.1C1027.2 248.4 1030.3 248.5 1033.5 248.7C1036.6 248.8 1039.7 248.8 1042.8 248.9C1045.9 248.9 1049 248.9 1052.1 248.9"/>
<path class="r" d="M679.2 248.9C682.3 248.9 685.4 248.9 688.5 248.9C691.6 248.8 694.7 248.8 697.8 248.7C701 248.5 704.1 248.4 707.2 248.1C710.3 247.9 713.4 247.5 716.5 247.1C719.6 246.7 722.7 246.2 725.8 245.6C728.9 245 732 244.3 735.1 243.5C738.2 242.7 741.4 241.8 744.5 240.8C747.6 239.8 750.7 238.7 753.8 237.5C756.9 236.3 760 235.1 763.1 233.7C766.2 232.3 769.3 230.8 772.4 229.3C775.5 227.7 778.6 226.1 781.7 224.4C784.9 222.7 788 221 791.1 219.2C794.2 217.4 797.3 215.6 800.4 213.7C803.5 211.8 806.6 209.9 809.7 208C812.8 206.1 815.9 204.1 819 202.2C822.1 200.3 825.3 198.4 828.4 196.5C831.5 194.7 834.6 192.8 837.7 191.1C840.8 189.3 843.9 187.5 847 185.9C850.1 184.2 853.2 182.7 856.3 181.2C859.4 179.7 862.5 178.3 865.6 177C868.8 175.8 871.9 174.6 875 173.6C878.1 172.6 881.2 171.7 884.3 171C887.4 170.2 890.5 169.7 893.6 169.3C896.7 168.8 899.8 168.6 902.9 168.5C906 168.4 909.2 168.5 912.3 168.8C915.4 169.1 918.5 169.5 921.6 170.2C924.7 170.8 927.8 171.7 930.9 172.7C934 173.7 937.1 174.9 940.2 176.3C943.3 177.6 946.4 179.2 949.6 180.9C952.7 182.6 955.8 184.5 958.9 186.5C962 188.5 965.1 190.7 968.2 193C971.3 195.3 974.4 197.7 977.5 200.1C980.6 202.6 983.7 205.2 986.8 207.8C989.9 210.5 993.1 213.1 996.2 215.8C999.3 218.5 1002.4 221.2 1005.5 223.8C1008.6 226.4 1011.7 228.9 1014.8 231.3C1017.9 233.8 1021 236.1 1024.1 238.2C1027.2 240.2 1030.3 242.1 1033.5 243.7C1036.6 245.3 1039.7 246.6 1042.8 247.5C1045.9 248.4 1049 248.9 1052.1 248.9"/>
<path class="r" d="M679.2 248.9C682.3 248.9 685.4 248.9 688.5 248.9C691.6 248.9 694.7 248.9 697.8 248.9C701 248.9 704.1 248.9 707.2 248.9C710.3 248.9 713.4 248.8 716.5 248.8C719.6 248.8 722.7 248.8 725.8 248.7C728.9 248.7 732 248.6 735.1 248.5C738.2 248.4 741.4 248.3 744.5 248.2C747.6 248.1 750.7 247.9 753.8 247.8C756.9 247.6 760 247.4 763.1 247.1C766.2 246.9 769.3 246.6 772.4 246.2C775.5 245.9 778.6 245.5 781.7 245.1C784.9 244.7 788 244.2 791.1 243.7C794.2 243.1 797.3 242.5 800.4 241.9C803.5 241.2 806.6 240.5 809.7 239.7C812.8 238.9 815.9 238 819 237.1C822.1 236.2 825.3 235.2 828.4 234.1C831.5 233 834.6 231.9 837.7 230.7C840.8 229.4 843.9 228.1 847 226.8C850.1 225.4 853.2 223.9 856.3 222.4C859.4 220.9 862.5 219.3 865.6 217.6C868.8 216 871.9 214.2 875 212.4C878.1 210.7 881.2 208.8 884.3 206.9C887.4 205 890.5 203.1 893.6 201.1C896.7 199.1 899.8 197.1 902.9 195.1C906 193 909.2 191 912.3 188.9C915.4 186.9 918.5 184.8 921.6 182.8C924.7 180.8 927.8 178.8 930.9 176.9C934 175 937.1 173.1 940.2 171.4C943.3 169.6 946.4 167.9 949.6 166.4C952.7 164.9 955.8 163.5 958.9 162.2C962 161 965.1 160 968.2 159.2C971.3 158.4 974.4 157.9 977.5 157.6C980.6 157.3 983.7 157.4 986.8 157.8C989.9 158.2 993.1 159 996.2 160.2C999.3 161.4 1002.4 163 1005.5 165.2C1008.6 167.3 1011.7 170 1014.8 173.3C1017.9 176.6 1021 180.5 1024.1 185.1C1027.2 189.7 1030.3 195.1 1033.5 201.2C1036.6 207.3 1039.7 214.3 1042.8 222.2C1045.9 230.1 1049 239 1052.1 248.9"/>
<path class="r" d="M679.2 248.9C682.3 248.9 685.4 248.9 688.5 248.9C691.6 248.9 694.7 248.9 697.8 248.9C701 248.9 704.1 248.9 707.2 248.9C710.3 248.9 713.4 248.9 716.5 248.9C719.6 248.9 722.7 248.9 725.8 248.9C728.9 248.9 732 248.9 735.1 248.9C738.2 248.9 741.4 248.9 744.5 248.9C747.6 248.9 750.7 248.9 753.8 248.9C756.9 248.8 760 248.8 763.1 248.8C766.2 248.8 769.3 248.8 772.4 248.8C775.5 248.7 778.6 248.7 781.7 248.7C784.9 248.6 788 248.6 791.1 248.6C794.2 248.5 797.3 248.5 800.4 248.4C803.5 248.3 806.6 248.2 809.7 248.1C812.8 248 815.9 247.9 819 247.8C822.1 247.7 825.3 247.5 828.4 247.3C831.5 247.2 834.6 247 837.7 246.8C840.8 246.5 843.9 246.3 847 246C850.1 245.7 853.2 245.4 856.3 245C859.4 244.7 862.5 244.3 865.6 243.8C868.8 243.4 871.9 242.9 875 242.3C878.1 241.8 881.2 241.1 884.3 240.5C887.4 239.8 890.5 239 893.6 238.2C896.7 237.4 899.8 236.4 902.9 235.4C906 234.4 909.2 233.3 912.3 232.1C915.4 230.9 918.5 229.6 921.6 228.2C924.7 226.8 927.8 225.2 930.9 223.5C934 221.8 937.1 220 940.2 218C943.3 216 946.4 213.8 949.6 211.5C952.7 209.2 955.8 206.7 958.9 204C962 201.3 965.1 198.3 968.2 195.2C971.3 192.1 974.4 188.7 977.5 185.1C980.6 181.5 983.7 177.6 986.8 173.4C989.9 169.3 993.1 164.8 996.2 160.1C999.3 155.3 1002.4 150.3 1005.5 144.8C1008.6 139.4 1011.7 133.7 1014.8 127.5C1017.9 121.4 1021 114.8 1024.1 107.9C1027.2 100.9 1030.3 93.5 1033.5 85.6C1036.6 77.8 1039.7 69.5 1042.8 60.6C1045.9 51.8 1049 42.4 1052.1 32.5"/>
<path class="m" d="M679.2 32.5C682.3 39.7 685.4 46.7 688.5 53.5C691.6 60.2 694.7 66.8 697.8 73.1C701 79.4 704.1 85.5 707.2 91.4C710.3 97.2 713.4 102.9 716.5 108.3C719.6 113.8 722.7 119 725.8 124C728.9 129.1 732 133.9 735.1 138.5C738.2 143.1 741.4 147.5 744.5 151.7C747.6 155.9 750.7 160 753.8 163.8C756.9 167.6 760 171.3 763.1 174.8C766.2 178.3 769.3 181.6 772.4 184.7C775.5 187.8 778.6 190.8 781.7 193.6C784.9 196.4 788 199.1 791.1 201.6C794.2 204.1 797.3 206.5 800.4 208.7C803.5 210.9 806.6 213 809.7 215C812.8 217 815.9 218.8 819 220.5C822.1 222.2 825.3 223.8 828.4 225.3C831.5 226.8 834.6 228.2 837.7 229.5C840.8 230.8 843.9 232 847 233.1C850.1 234.2 853.2 235.2 856.3 236.2C859.4 237.1 862.5 238 865.6 238.8C868.8 239.5 871.9 240.3 875 240.9C878.1 241.6 881.2 242.2 884.3 242.7C887.4 243.3 890.5 243.7 893.6 244.2C896.7 244.6 899.8 245 902.9 245.4C906 245.7 909.2 246 912.3 246.3C915.4 246.6 918.5 246.8 921.6 247C924.7 247.2 927.8 247.4 930.9 247.6C934 247.7 937.1 247.9 940.2 248C943.3 248.1 946.4 248.2 949.6 248.3C952.7 248.4 955.8 248.5 958.9 248.5C962 248.6 965.1 248.6 968.2 248.7C971.3 248.7 974.4 248.7 977.5 248.8C980.6 248.8 983.7 248.8 986.8 248.8C989.9 248.9 993.1 248.9 996.2 248.9C999.3 248.9 1002.4 248.9 1005.5 248.9C1008.6 248.9 1011.7 248.9 1014.8 248.9C1017.9 248.9 1021 248.9 1024.1 248.9C1027.2 248.9 1030.3 248.9 1033.5 248.9C1036.6 248.9 1039.7 248.9 1042.8 248.9C1045.9 248.9 1049 248.9 1052.1 248.9"/>
<path class="m" d="M679.2 248.9C682.3 241.7 685.4 235 688.5 228.9C691.6 222.8 694.7 217.2 697.8 212.1C701 207 704.1 202.4 707.2 198.3C710.3 194.1 713.4 190.4 716.5 187.1C719.6 183.9 722.7 181 725.8 178.5C728.9 176.1 732 174 735.1 172.2C738.2 170.5 741.4 169.1 744.5 168C747.6 166.9 750.7 166.1 753.8 165.6C756.9 165.1 760 164.8 763.1 164.8C766.2 164.8 769.3 165 772.4 165.5C775.5 165.9 778.6 166.5 781.7 167.3C784.9 168.1 788 169.1 791.1 170.2C794.2 171.3 797.3 172.5 800.4 173.9C803.5 175.2 806.6 176.7 809.7 178.3C812.8 179.8 815.9 181.4 819 183.1C822.1 184.8 825.3 186.5 828.4 188.3C831.5 190.1 834.6 191.9 837.7 193.7C840.8 195.6 843.9 197.4 847 199.2C850.1 201.1 853.2 202.9 856.3 204.7C859.4 206.5 862.5 208.3 865.6 210C868.8 211.8 871.9 213.5 875 215.1C878.1 216.8 881.2 218.4 884.3 220C887.4 221.5 890.5 223 893.6 224.5C896.7 225.9 899.8 227.3 902.9 228.6C906 229.9 909.2 231.2 912.3 232.4C915.4 233.5 918.5 234.6 921.6 235.7C924.7 236.7 927.8 237.6 930.9 238.5C934 239.4 937.1 240.2 940.2 241C943.3 241.7 946.4 242.4 949.6 243C952.7 243.7 955.8 244.2 958.9 244.7C962 245.2 965.1 245.6 968.2 246C971.3 246.4 974.4 246.7 977.5 247C980.6 247.3 983.7 247.5 986.8 247.7C989.9 247.9 993.1 248.1 996.2 248.3C999.3 248.4 1002.4 248.5 1005.5 248.6C1008.6 248.7 1011.7 248.7 1014.8 248.8C1017.9 248.8 1021 248.8 1024.1 248.9C1027.2 248.9 1030.3 248.9 1033.5 248.9C1036.6 248.9 1039.7 248.9 1042.8 248.9C1045.9 248.9 1049 248.9 1052.1 248.9"/>
<path class="m" d="M679.2 248.9C682.3 248.9 685.4 248.6 688.5 248C691.6 247.3 694.7 246.5 697.8 245.4C701 244.3 704.1 243 707.2 241.5C710.3 240 713.4 238.4 716.5 236.7C719.6 234.9 722.7 233.1 725.8 231.2C728.9 229.3 732 227.3 735.1 225.4C738.2 223.4 741.4 221.4 744.5 219.4C747.6 217.4 750.7 215.4 753.8 213.4C756.9 211.5 760 209.6 763.1 207.8C766.2 206 769.3 204.2 772.4 202.5C775.5 200.9 778.6 199.3 781.7 197.8C784.9 196.4 788 195 791.1 193.8C794.2 192.6 797.3 191.4 800.4 190.5C803.5 189.5 806.6 188.6 809.7 187.9C812.8 187.2 815.9 186.6 819 186.2C822.1 185.8 825.3 185.5 828.4 185.3C831.5 185.2 834.6 185.2 837.7 185.3C840.8 185.4 843.9 185.6 847 186C850.1 186.4 853.2 186.9 856.3 187.5C859.4 188.1 862.5 188.9 865.6 189.7C868.8 190.6 871.9 191.5 875 192.6C878.1 193.6 881.2 194.7 884.3 196C887.4 197.2 890.5 198.5 893.6 199.8C896.7 201.2 899.8 202.6 902.9 204C906 205.5 909.2 207 912.3 208.5C915.4 210 918.5 211.6 921.6 213.1C924.7 214.7 927.8 216.2 930.9 217.8C934 219.4 937.1 220.9 940.2 222.4C943.3 223.9 946.4 225.4 949.6 226.9C952.7 228.3 955.8 229.7 958.9 231.1C962 232.4 965.1 233.7 968.2 234.9C971.3 236.1 974.4 237.3 977.5 238.4C980.6 239.4 983.7 240.4 986.8 241.4C989.9 242.3 993.1 243.1 996.2 243.8C999.3 244.6 1002.4 245.2 1005.5 245.8C1008.6 246.3 1011.7 246.8 1014.8 247.2C1017.9 247.6 1021 247.9 1024.1 248.1C1027.2 248.4 1030.3 248.5 1033.5 248.7C1036.6 248.8 1039.7 248.8 1042.8 248.9C1045.9 248.9 1049 248.9 1052.1 248.9"/>
<path class="m" d="M679.2 248.9C682.3 248.9 685.4 248.9 688.5 248.9C691.6 248.8 694.7 248.8 697.8 248.7C701 248.5 704.1 248.4 707.2 248.1C710.3 247.9 713.4 247.6 716.5 247.2C719.6 246.8 722.7 246.3 725.8 245.8C728.9 245.2 732 244.6 735.1 243.8C738.2 243.1 741.4 242.3 744.5 241.4C747.6 240.4 750.7 239.4 753.8 238.4C756.9 237.3 760 236.1 763.1 234.9C766.2 233.7 769.3 232.4 772.4 231.1C775.5 229.7 778.6 228.3 781.7 226.9C784.9 225.4 788 223.9 791.1 222.4C794.2 220.9 797.3 219.4 800.4 217.8C803.5 216.2 806.6 214.7 809.7 213.1C812.8 211.6 815.9 210 819 208.5C822.1 207 825.3 205.5 828.4 204C831.5 202.6 834.6 201.2 837.7 199.8C840.8 198.5 843.9 197.2 847 196C850.1 194.7 853.2 193.6 856.3 192.6C859.4 191.5 862.5 190.6 865.6 189.7C868.8 188.9 871.9 188.1 875 187.5C878.1 186.9 881.2 186.4 884.3 186C887.4 185.6 890.5 185.4 893.6 185.3C896.7 185.2 899.8 185.2 902.9 185.3C906 185.5 909.2 185.8 912.3 186.2C915.4 186.6 918.5 187.2 921.6 187.9C924.7 188.6 927.8 189.5 930.9 190.5C934 191.4 937.1 192.6 940.2 193.8C943.3 195 946.4 196.4 949.6 197.8C952.7 199.3 955.8 200.9 958.9 202.5C962 204.2 965.1 206 968.2 207.8C971.3 209.6 974.4 211.5 977.5 213.4C980.6 215.4 983.7 217.4 986.8 219.4C989.9 221.4 993.1 223.4 996.2 225.4C999.3 227.3 1002.4 229.3 1005.5 231.2C1008.6 233.1 1011.7 234.9 1014.8 236.7C1017.9 238.4 1021 240 1024.1 241.5C1027.2 243 1030.3 244.3 1033.5 245.4C1036.6 246.5 1039.7 247.3 1042.8 248C1045.9 248.6 1049 248.9 1052.1 248.9"/>
<path class="m" d="M679.2 248.9C682.3 248.9 685.4 248.9 688.5 248.9C691.6 248.9 694.7 248.9 697.8 248.9C701 248.9 704.1 248.9 707.2 248.9C710.3 248.8 713.4 248.8 716.5 248.8C719.6 248.7 722.7 248.7 725.8 248.6C728.9 248.5 732 248.4 735.1 248.3C738.2 248.1 741.4 247.9 744.5 247.7C747.6 247.5 750.7 247.3 753.8 247C756.9 246.7 760 246.4 763.1 246C766.2 245.6 769.3 245.2 772.4 244.7C775.5 244.2 778.6 243.7 781.7 243C784.9 242.4 788 241.7 791.1 241C794.2 240.2 797.3 239.4 800.4 238.5C803.5 237.6 806.6 236.7 809.7 235.7C812.8 234.6 815.9 233.5 819 232.4C822.1 231.2 825.3 229.9 828.4 228.6C831.5 227.3 834.6 225.9 837.7 224.5C840.8 223 843.9 221.5 847 220C850.1 218.4 853.2 216.8 856.3 215.1C859.4 213.5 862.5 211.8 865.6 210C868.8 208.3 871.9 206.5 875 204.7C878.1 202.9 881.2 201.1 884.3 199.2C887.4 197.4 890.5 195.6 893.6 193.7C896.7 191.9 899.8 190.1 902.9 188.3C906 186.5 909.2 184.8 912.3 183.1C915.4 181.4 918.5 179.8 921.6 178.3C924.7 176.7 927.8 175.2 930.9 173.9C934 172.5 937.1 171.3 940.2 170.2C943.3 169.1 946.4 168.1 949.6 167.3C952.7 166.5 955.8 165.9 958.9 165.5C962 165 965.1 164.8 968.2 164.8C971.3 164.8 974.4 165.1 977.5 165.6C980.6 166.1 983.7 166.9 986.8 168C989.9 169.1 993.1 170.5 996.2 172.2C999.3 174 1002.4 176.1 1005.5 178.5C1008.6 181 1011.7 183.9 1014.8 187.1C1017.9 190.4 1021 194.1 1024.1 198.3C1027.2 202.4 1030.3 207 1033.5 212.1C1036.6 217.2 1039.7 222.8 1042.8 228.9C1045.9 235 1049 241.7 1052.1 248.9"/>
<path class="m" d="M679.2 248.9C682.3 248.9 685.4 248.9 688.5 248.9C691.6 248.9 694.7 248.9 697.8 248.9C701 248.9 704.1 248.9 707.2 248.9C710.3 248.9 713.4 248.9 716.5 248.9C719.6 248.9 722.7 248.9 725.8 248.9C728.9 248.9 732 248.9 735.1 248.9C738.2 248.9 741.4 248.9 744.5 248.8C747.6 248.8 750.7 248.8 753.8 248.8C756.9 248.7 760 248.7 763.1 248.7C766.2 248.6 769.3 248.6 772.4 248.5C775.5 248.5 778.6 248.4 781.7 248.3C784.9 248.2 788 248.1 791.1 248C794.2 247.9 797.3 247.7 800.4 247.6C803.5 247.4 806.6 247.2 809.7 247C812.8 246.8 815.9 246.6 819 246.3C822.1 246 825.3 245.7 828.4 245.4C831.5 245 834.6 244.6 837.7 244.2C840.8 243.7 843.9 243.3 847 242.7C850.1 242.2 853.2 241.6 856.3 240.9C859.4 240.3 862.5 239.5 865.6 238.8C868.8 238 871.9 237.1 875 236.2C878.1 235.2 881.2 234.2 884.3 233.1C887.4 232 890.5 230.8 893.6 229.5C896.7 228.2 899.8 226.8 902.9 225.3C906 223.8 909.2 222.2 912.3 220.5C915.4 218.8 918.5 217 921.6 215C924.7 213 927.8 210.9 930.9 208.7C934 206.5 937.1 204.1 940.2 201.6C943.3 199.1 946.4 196.4 949.6 193.6C952.7 190.8 955.8 187.8 958.9 184.7C962 181.6 965.1 178.3 968.2 174.8C971.3 171.3 974.4 167.6 977.5 163.8C980.6 160 983.7 155.9 986.8 151.7C989.9 147.5 993.1 143.1 996.2 138.5C999.3 133.9 1002.4 129.1 1005.5 124C1008.6 119 1011.7 113.8 1014.8 108.3C1017.9 102.9 1021 97.2 1024.1 91.4C1027.2 85.5 1030.3 79.4 1033.5 73.1C1036.6 66.8 1039.7 60.2 1042.8 53.5C1045.9 46.7 1049 39.7 1052.1 32.5"/>
<path class="g" d="M679.2 32.5C682.3 40.6 685.4 48.4 688.5 55.8C691.6 63.3 694.7 70.4 697.8 77.3C701 84.1 704.1 90.6 707.2 96.9C710.3 103.1 713.4 109 716.5 114.7C719.6 120.4 722.7 125.8 725.8 131C728.9 136.1 732 141 735.1 145.7C738.2 150.3 741.4 154.8 744.5 159C747.6 163.2 750.7 167.1 753.8 170.9C756.9 174.7 760 178.2 763.1 181.6C766.2 185 769.3 188.1 772.4 191.1C775.5 194.1 778.6 196.9 781.7 199.6C784.9 202.2 788 204.7 791.1 207.1C794.2 209.4 797.3 211.6 800.4 213.6C803.5 215.7 806.6 217.6 809.7 219.4C812.8 221.2 815.9 222.8 819 224.4C822.1 225.9 825.3 227.4 828.4 228.7C831.5 230 834.6 231.3 837.7 232.4C840.8 233.5 843.9 234.6 847 235.6C850.1 236.5 853.2 237.4 856.3 238.2C859.4 239 862.5 239.8 865.6 240.4C868.8 241.1 871.9 241.7 875 242.3C878.1 242.9 881.2 243.4 884.3 243.8C887.4 244.3 890.5 244.7 893.6 245C896.7 245.4 899.8 245.7 902.9 246C906 246.3 909.2 246.6 912.3 246.8C915.4 247 918.5 247.2 921.6 247.4C924.7 247.6 927.8 247.7 930.9 247.9C934 248 937.1 248.1 940.2 248.2C943.3 248.3 946.4 248.4 949.6 248.4C952.7 248.5 955.8 248.6 958.9 248.6C962 248.7 965.1 248.7 968.2 248.7C971.3 248.8 974.4 248.8 977.5 248.8C980.6 248.8 983.7 248.8 986.8 248.8C989.9 248.9 993.1 248.9 996.2 248.9C999.3 248.9 1002.4 248.9 1005.5 248.9C1008.6 248.9 1011.7 248.9 1014.8 248.9C1017.9 248.9 1021 248.9 1024.1 248.9C1027.2 248.9 1030.3 248.9 1033.5 248.9C1036.6 248.9 1039.7 248.9 1042.8 248.9C1045.9 248.9 1049 248.9 1052.1 248.9"/>
<path class="g" d="M679.2 248.9C682.3 240.8 685.4 233.4 688.5 226.7C691.6 220 694.7 213.9 697.8 208.5C701 203 704.1 198.2 707.2 193.9C710.3 189.6 713.4 185.8 716.5 182.5C719.6 179.2 722.7 176.4 725.8 174.1C728.9 171.7 732 169.8 735.1 168.2C738.2 166.6 741.4 165.4 744.5 164.6C747.6 163.7 750.7 163.2 753.8 162.9C756.9 162.7 760 162.7 763.1 162.9C766.2 163.2 769.3 163.7 772.4 164.4C775.5 165.1 778.6 166 781.7 167C784.9 168 788 169.2 791.1 170.6C794.2 171.9 797.3 173.4 800.4 174.9C803.5 176.4 806.6 178.1 809.7 179.8C812.8 181.5 815.9 183.2 819 185.1C822.1 186.9 825.3 188.7 828.4 190.6C831.5 192.4 834.6 194.3 837.7 196.2C840.8 198.1 843.9 199.9 847 201.8C850.1 203.6 853.2 205.5 856.3 207.3C859.4 209.1 862.5 210.8 865.6 212.6C868.8 214.3 871.9 215.9 875 217.6C878.1 219.2 881.2 220.7 884.3 222.2C887.4 223.7 890.5 225.2 893.6 226.5C896.7 227.9 899.8 229.2 902.9 230.5C906 231.7 909.2 232.8 912.3 233.9C915.4 235 918.5 236.1 921.6 237C924.7 238 927.8 238.8 930.9 239.6C934 240.5 937.1 241.2 940.2 241.9C943.3 242.6 946.4 243.2 949.6 243.7C952.7 244.3 955.8 244.8 958.9 245.2C962 245.7 965.1 246 968.2 246.4C971.3 246.7 974.4 247 977.5 247.3C980.6 247.5 983.7 247.7 986.8 247.9C989.9 248.1 993.1 248.2 996.2 248.3C999.3 248.5 1002.4 248.6 1005.5 248.6C1008.6 248.7 1011.7 248.7 1014.8 248.8C1017.9 248.8 1021 248.8 1024.1 248.9C1027.2 248.9 1030.3 248.9 1033.5 248.9C1036.6 248.9 1039.7 248.9 1042.8 248.9C1045.9 248.9 1049 248.9 1052.1 248.9"/>
<path class="g" d="M679.2 248.9C682.3 248.9 685.4 248.5 688.5 247.8C691.6 247.1 694.7 246.1 697.8 244.8C701 243.6 704.1 242.1 707.2 240.4C710.3 238.7 713.4 236.9 716.5 234.9C719.6 232.9 722.7 230.9 725.8 228.7C728.9 226.6 732 224.4 735.1 222.2C738.2 220 741.4 217.7 744.5 215.5C747.6 213.3 750.7 211.1 753.8 209C756.9 206.9 760 204.8 763.1 202.8C766.2 200.9 769.3 199 772.4 197.2C775.5 195.4 778.6 193.7 781.7 192.2C784.9 190.6 788 189.2 791.1 187.9C794.2 186.7 797.3 185.5 800.4 184.5C803.5 183.5 806.6 182.7 809.7 182C812.8 181.3 815.9 180.8 819 180.4C822.1 180 825.3 179.8 828.4 179.7C831.5 179.6 834.6 179.7 837.7 179.9C840.8 180.1 843.9 180.5 847 181C850.1 181.5 853.2 182.1 856.3 182.9C859.4 183.6 862.5 184.5 865.6 185.5C868.8 186.5 871.9 187.6 875 188.8C878.1 190 881.2 191.2 884.3 192.6C887.4 194 890.5 195.4 893.6 196.9C896.7 198.4 899.8 199.9 902.9 201.5C906 203.1 909.2 204.8 912.3 206.4C915.4 208.1 918.5 209.7 921.6 211.4C924.7 213.1 927.8 214.8 930.9 216.4C934 218.1 937.1 219.7 940.2 221.3C943.3 223 946.4 224.5 949.6 226.1C952.7 227.6 955.8 229.1 958.9 230.5C962 231.9 965.1 233.2 968.2 234.5C971.3 235.8 974.4 237 977.5 238.1C980.6 239.2 983.7 240.2 986.8 241.2C989.9 242.1 993.1 243 996.2 243.7C999.3 244.5 1002.4 245.1 1005.5 245.7C1008.6 246.3 1011.7 246.8 1014.8 247.2C1017.9 247.6 1021 247.9 1024.1 248.1C1027.2 248.4 1030.3 248.5 1033.5 248.7C1036.6 248.8 1039.7 248.8 1042.8 248.9C1045.9 248.9 1049 248.9 1052.1 248.9"/>
<path class="g" d="M679.2 248.9C682.3 248.9 685.4 248.9 688.5 248.9C691.6 248.8 694.7 248.8 697.8 248.7C701 248.5 704.1 248.4 707.2 248.1C710.3 247.9 713.4 247.6 716.5 247.2C719.6 246.8 722.7 246.3 725.8 245.7C728.9 245.1 732 244.5 735.1 243.7C738.2 243 741.4 242.1 744.5 241.2C747.6 240.2 750.7 239.2 753.8 238.1C756.9 237 760 235.8 763.1 234.5C766.2 233.2 769.3 231.9 772.4 230.5C775.5 229.1 778.6 227.6 781.7 226.1C784.9 224.5 788 223 791.1 221.3C794.2 219.7 797.3 218.1 800.4 216.4C803.5 214.8 806.6 213.1 809.7 211.4C812.8 209.7 815.9 208.1 819 206.4C822.1 204.8 825.3 203.1 828.4 201.5C831.5 199.9 834.6 198.4 837.7 196.9C840.8 195.4 843.9 194 847 192.6C850.1 191.2 853.2 190 856.3 188.8C859.4 187.6 862.5 186.5 865.6 185.5C868.8 184.5 871.9 183.6 875 182.9C878.1 182.1 881.2 181.5 884.3 181C887.4 180.5 890.5 180.1 893.6 179.9C896.7 179.7 899.8 179.6 902.9 179.7C906 179.8 909.2 180 912.3 180.4C915.4 180.8 918.5 181.3 921.6 182C924.7 182.7 927.8 183.5 930.9 184.5C934 185.5 937.1 186.7 940.2 187.9C943.3 189.2 946.4 190.6 949.6 192.2C952.7 193.7 955.8 195.4 958.9 197.2C962 199 965.1 200.9 968.2 202.8C971.3 204.8 974.4 206.9 977.5 209C980.6 211.1 983.7 213.3 986.8 215.5C989.9 217.7 993.1 220 996.2 222.2C999.3 224.4 1002.4 226.6 1005.5 228.7C1008.6 230.9 1011.7 232.9 1014.8 234.9C1017.9 236.9 1021 238.7 1024.1 240.4C1027.2 242.1 1030.3 243.6 1033.5 244.8C1036.6 246.1 1039.7 247.1 1042.8 247.8C1045.9 248.5 1049 248.9 1052.1 248.9"/>
<path class="g" d="M679.2 248.9C682.3 248.9 685.4 248.9 688.5 248.9C691.6 248.9 694.7 248.9 697.8 248.9C701 248.9 704.1 248.9 707.2 248.9C710.3 248.8 713.4 248.8 716.5 248.8C719.6 248.7 722.7 248.7 725.8 248.6C728.9 248.6 732 248.5 735.1 248.3C738.2 248.2 741.4 248.1 744.5 247.9C747.6 247.7 750.7 247.5 753.8 247.3C756.9 247 760 246.7 763.1 246.4C766.2 246 769.3 245.7 772.4 245.2C775.5 244.8 778.6 244.3 781.7 243.7C784.9 243.2 788 242.6 791.1 241.9C794.2 241.2 797.3 240.5 800.4 239.6C803.5 238.8 806.6 238 809.7 237C812.8 236.1 815.9 235 819 233.9C822.1 232.8 825.3 231.7 828.4 230.5C831.5 229.2 834.6 227.9 837.7 226.5C840.8 225.2 843.9 223.7 847 222.2C850.1 220.7 853.2 219.2 856.3 217.6C859.4 215.9 862.5 214.3 865.6 212.6C868.8 210.8 871.9 209.1 875 207.3C878.1 205.5 881.2 203.6 884.3 201.8C887.4 199.9 890.5 198.1 893.6 196.2C896.7 194.3 899.8 192.4 902.9 190.6C906 188.7 909.2 186.9 912.3 185.1C915.4 183.2 918.5 181.5 921.6 179.8C924.7 178.1 927.8 176.4 930.9 174.9C934 173.4 937.1 171.9 940.2 170.6C943.3 169.2 946.4 168 949.6 167C952.7 166 955.8 165.1 958.9 164.4C962 163.7 965.1 163.2 968.2 162.9C971.3 162.7 974.4 162.7 977.5 162.9C980.6 163.2 983.7 163.7 986.8 164.6C989.9 165.4 993.1 166.6 996.2 168.2C999.3 169.8 1002.4 171.7 1005.5 174.1C1008.6 176.4 1011.7 179.2 1014.8 182.5C1017.9 185.8 1021 189.6 1024.1 193.9C1027.2 198.2 1030.3 203 1033.5 208.5C1036.6 213.9 1039.7 220 1042.8 226.7C1045.9 233.4 1049 240.8 1052.1 248.9"/>
<path class="g" d="M679.2 248.9C682.3 248.9 685.4 248.9 688.5 248.9C691.6 248.9 694.7 248.9 697.8 248.9C701 248.9 704.1 248.9 707.2 248.9C710.3 248.9 713.4 248.9 716.5 248.9C719.6 248.9 722.7 248.9 725.8 248.9C728.9 248.9 732 248.9 735.1 248.9C738.2 248.9 741.4 248.9 744.5 248.8C747.6 248.8 750.7 248.8 753.8 248.8C756.9 248.8 760 248.8 763.1 248.7C766.2 248.7 769.3 248.7 772.4 248.6C775.5 248.6 778.6 248.5 781.7 248.4C784.9 248.4 788 248.3 791.1 248.2C794.2 248.1 797.3 248 800.4 247.9C803.5 247.7 806.6 247.6 809.7 247.4C812.8 247.2 815.9 247 819 246.8C822.1 246.6 825.3 246.3 828.4 246C831.5 245.7 834.6 245.4 837.7 245C840.8 244.7 843.9 244.3 847 243.8C850.1 243.4 853.2 242.9 856.3 242.3C859.4 241.7 862.5 241.1 865.6 240.4C868.8 239.8 871.9 239 875 238.2C878.1 237.4 881.2 236.5 884.3 235.6C887.4 234.6 890.5 233.5 893.6 232.4C896.7 231.3 899.8 230 902.9 228.7C906 227.4 909.2 225.9 912.3 224.4C915.4 222.8 918.5 221.2 921.6 219.4C924.7 217.6 927.8 215.7 930.9 213.6C934 211.6 937.1 209.4 940.2 207.1C943.3 204.7 946.4 202.2 949.6 199.6C952.7 196.9 955.8 194.1 958.9 191.1C962 188.1 965.1 185 968.2 181.6C971.3 178.2 974.4 174.7 977.5 170.9C980.6 167.1 983.7 163.2 986.8 159C989.9 154.8 993.1 150.3 996.2 145.7C999.3 141 1002.4 136.1 1005.5 131C1008.6 125.8 1011.7 120.4 1014.8 114.7C1017.9 109 1021 103.1 1024.1 96.9C1027.2 90.6 1030.3 84.1 1033.5 77.3C1036.6 70.4 1039.7 63.3 1042.8 55.8C1045.9 48.4 1049 40.6 1052.1 32.5"/>
<path class="tk" d="M679.2 259.7h2.3M679.2 238.1h2.3M679.2 227.3h2.3M679.2 216.4h2.3M679.2 205.6h4.4M679.2 194.8h2.3M679.2 184h2.3M679.2 173.2h2.3M679.2 162.3h4.4M679.2 151.5h2.3M679.2 140.7h2.3M679.2 129.9h2.3M679.2 119.1h4.4M679.2 108.2h2.3M679.2 97.4h2.3M679.2 86.6h2.3M679.2 75.8h4.4M679.2 65h2.3M679.2 54.1h2.3M679.2 43.3h2.3M679.2 32.5h4.4M679.2 21.7h2.3M697.8 248.9v-2.3M716.5 248.9v-2.3M735.1 248.9v-2.3M753.8 248.9v-4.4M772.4 248.9v-2.3M791.1 248.9v-2.3M809.7 248.9v-2.3M828.4 248.9v-4.4M847 248.9v-2.3M865.6 248.9v-2.3M884.3 248.9v-2.3M902.9 248.9v-4.4M921.6 248.9v-2.3M940.2 248.9v-2.3M958.9 248.9v-2.3M977.5 248.9v-4.4M996.2 248.9v-2.3M1014.8 248.9v-2.3M1033.5 248.9v-2.3M1052.1 248.9v-4.4"/>
<path class="ax" d="M39.3 539.8H435.7"/>
<path class="ax" d="M47.5 308.5V552.3"/>
<text class="tl" text-anchor="end" transform="translate(43.1 499.8) scale(0.9 1)">0.2</text>
<text class="tl" text-anchor="middle" transform="translate(123.1 554.1) scale(0.9 1)">0.2</text>
<text class="tl" text-anchor="end" transform="translate(43.1 455.8) scale(0.9 1)">0.4</text>
<text class="tl" text-anchor="middle" transform="translate(199.1 554.1) scale(0.9 1)">0.4</text>
<text class="tl" text-anchor="end" transform="translate(43.1 411.9) scale(0.9 1)">0.6</text>
<text class="tl" text-anchor="middle" transform="translate(275.1 554.1) scale(0.9 1)">0.6</text>
<text class="tl" text-anchor="end" transform="translate(43.1 367.9) scale(0.9 1)">0.8</text>
<text class="tl" text-anchor="middle" transform="translate(351.1 554.1) scale(0.9 1)">0.8</text>
<text class="tl" text-anchor="end" transform="translate(43.1 324) scale(0.9 1)">1.0</text>
<text class="tl" text-anchor="middle" transform="translate(427.1 554.1) scale(0.9 1)">1.0</text>
<path class="d" d="M47.5 320.1C50.7 320.1 53.8 321.4 57 322.7C60.2 324 63.3 325.6 66.5 327.4C69.7 329.2 72.8 331.2 76 333.4C79.2 335.5 82.3 337.8 85.5 340.3C88.7 342.7 91.8 345.3 95 347.9C98.2 350.5 101.3 353.3 104.5 356.1C107.7 358.9 110.8 361.7 114 364.6C117.2 367.6 120.3 370.5 123.5 373.5C126.7 376.5 129.8 379.6 133 382.6C136.2 385.7 139.3 388.7 142.5 391.8C145.7 394.9 148.8 397.9 152 401C155.2 404.1 158.3 407.1 161.5 410.2C164.7 413.2 167.8 416.3 171 419.3C174.2 422.3 177.3 425.3 180.5 428.2C183.7 431.1 186.8 434 190 436.9C193.2 439.8 196.3 442.6 199.5 445.4C202.7 448.1 205.8 450.9 209 453.5C212.2 456.2 215.3 458.8 218.5 461.4C221.7 464 224.8 466.5 228 468.9C231.2 471.3 234.3 473.7 237.5 476C240.7 478.3 243.8 480.6 247 482.8C250.2 484.9 253.3 487 256.5 489.1C259.7 491.1 262.8 493.1 266 495C269.2 496.9 272.3 498.7 275.5 500.5C278.7 502.3 281.8 503.9 285 505.6C288.2 507.2 291.3 508.7 294.5 510.2C297.7 511.7 300.8 513.1 304 514.4C307.2 515.8 310.3 517.1 313.5 518.3C316.7 519.5 319.8 520.6 323 521.7C326.2 522.8 329.3 523.8 332.5 524.8C335.7 525.7 338.8 526.6 342 527.5C345.2 528.3 348.3 529.1 351.5 529.8C354.7 530.5 357.8 531.2 361 531.8C364.2 532.5 367.3 533 370.5 533.6C373.7 534.1 376.8 534.6 380 535C383.2 535.4 386.3 535.8 389.5 536.2C392.7 536.6 395.8 536.9 399 537.2C402.2 537.5 405.3 537.7 408.5 537.9C411.7 538.2 414.8 538.4 418 538.5C421.2 538.7 424.3 538.8 427.5 539"/>
<path class="d" d="M47.5 539.8C50.7 539.8 53.8 538.5 57 537.2C60.2 535.9 63.3 534.3 66.5 532.6C69.7 530.8 72.8 528.9 76 526.8C79.2 524.8 82.3 522.6 85.5 520.4C88.7 518.1 91.8 515.8 95 513.4C98.2 511 101.3 508.6 104.5 506.2C107.7 503.8 110.8 501.4 114 499C117.2 496.6 120.3 494.2 123.5 491.8C126.7 489.5 129.8 487.2 133 484.9C136.2 482.7 139.3 480.5 142.5 478.4C145.7 476.2 148.8 474.2 152 472.2C155.2 470.3 158.3 468.4 161.5 466.7C164.7 464.9 167.8 463.3 171 461.7C174.2 460.2 177.3 458.7 180.5 457.4C183.7 456.1 186.8 454.9 190 453.9C193.2 452.8 196.3 451.8 199.5 451C202.7 450.2 205.8 449.5 209 449C212.2 448.4 215.3 448 218.5 447.7C221.7 447.4 224.8 447.2 228 447.1C231.2 447.1 234.3 447.2 237.5 447.4C240.7 447.6 243.8 447.9 247 448.3C250.2 448.8 253.3 449.3 256.5 450C259.7 450.7 262.8 451.4 266 452.3C269.2 453.2 272.3 454.2 275.5 455.3C278.7 456.4 281.8 457.5 285 458.8C288.2 460 291.3 461.4 294.5 462.8C297.7 464.2 300.8 465.7 304 467.2C307.2 468.8 310.3 470.4 313.5 472C316.7 473.7 319.8 475.4 323 477.1C326.2 478.8 329.3 480.6 332.5 482.4C335.7 484.2 338.8 486 342 487.8C345.2 489.6 348.3 491.4 351.5 493.2C354.7 495.1 357.8 496.9 361 498.7C364.2 500.4 367.3 502.2 370.5 504C373.7 505.7 376.8 507.4 380 509.1C383.2 510.8 386.3 512.4 389.5 514C392.7 515.5 395.8 517.1 399 518.5C402.2 520 405.3 521.4 408.5 522.7C411.7 524 414.8 525.3 418 526.5C421.2 527.6 424.3 528.7 427.5 529.7"/>
<path class="d" d="M47.5 539.8C50.7 539.8 53.8 539.8 57 539.8C60.2 539.8 63.3 539.8 66.5 539.7C69.7 539.7 72.8 539.6 76 539.5C79.2 539.4 82.3 539.3 85.5 539.1C88.7 538.9 91.8 538.7 95 538.4C98.2 538.2 101.3 537.9 104.5 537.5C107.7 537.1 110.8 536.7 114 536.2C117.2 535.8 120.3 535.2 123.5 534.6C126.7 534 129.8 533.3 133 532.6C136.2 531.9 139.3 531.1 142.5 530.2C145.7 529.4 148.8 528.5 152 527.5C155.2 526.5 158.3 525.4 161.5 524.3C164.7 523.2 167.8 522.1 171 520.8C174.2 519.6 177.3 518.3 180.5 517C183.7 515.7 186.8 514.3 190 512.9C193.2 511.5 196.3 510 199.5 508.5C202.7 507 205.8 505.5 209 503.9C212.2 502.4 215.3 500.8 218.5 499.2C221.7 497.6 224.8 496 228 494.4C231.2 492.8 234.3 491.2 237.5 489.6C240.7 488 243.8 486.4 247 484.8C250.2 483.2 253.3 481.7 256.5 480.2C259.7 478.7 262.8 477.2 266 475.8C269.2 474.3 272.3 473 275.5 471.6C278.7 470.3 281.8 469.1 285 467.9C288.2 466.7 291.3 465.6 294.5 464.6C297.7 463.6 300.8 462.7 304 461.9C307.2 461.1 310.3 460.3 313.5 459.7C316.7 459.1 319.8 458.6 323 458.2C326.2 457.9 329.3 457.6 332.5 457.5C335.7 457.4 338.8 457.4 342 457.5C345.2 457.7 348.3 458 351.5 458.4C354.7 458.8 357.8 459.4 361 460.1C364.2 460.8 367.3 461.6 370.5 462.6C373.7 463.6 376.8 464.7 380 466C383.2 467.3 386.3 468.7 389.5 470.2C392.7 471.8 395.8 473.4 399 475.2C402.2 477 405.3 478.9 408.5 480.9C411.7 482.9 414.8 485 418 487.2C421.2 489.4 424.3 491.7 427.5 494"/>
<path class="d" d="M47.5 539.8C50.7 539.8 53.8 539.8 57 539.8C60.2 539.8 63.3 539.8 66.5 539.8C69.7 539.8 72.8 539.8 76 539.8C79.2 539.8 82.3 539.8 85.5 539.8C88.7 539.8 91.8 539.8 95 539.8C98.2 539.8 101.3 539.7 104.5 539.7C107.7 539.7 110.8 539.7 114 539.7C117.2 539.6 120.3 539.6 123.5 539.6C126.7 539.5 129.8 539.4 133 539.4C136.2 539.3 139.3 539.2 142.5 539.1C145.7 539 148.8 538.9 152 538.8C155.2 538.7 158.3 538.5 161.5 538.3C164.7 538.2 167.8 538 171 537.8C174.2 537.5 177.3 537.3 180.5 537C183.7 536.7 186.8 536.4 190 536.1C193.2 535.7 196.3 535.3 199.5 534.9C202.7 534.5 205.8 534 209 533.5C212.2 533 215.3 532.4 218.5 531.8C221.7 531.2 224.8 530.6 228 529.9C231.2 529.2 234.3 528.5 237.5 527.7C240.7 526.9 243.8 526 247 525.1C250.2 524.2 253.3 523.2 256.5 522.2C259.7 521.2 262.8 520.1 266 519C269.2 517.8 272.3 516.6 275.5 515.4C278.7 514.1 281.8 512.8 285 511.4C288.2 510.1 291.3 508.7 294.5 507.2C297.7 505.7 300.8 504.2 304 502.6C307.2 501 310.3 499.4 313.5 497.8C316.7 496.1 319.8 494.4 323 492.7C326.2 490.9 329.3 489.2 332.5 487.4C335.7 485.6 338.8 483.8 342 482C345.2 480.2 348.3 478.3 351.5 476.5C354.7 474.7 357.8 472.9 361 471.1C364.2 469.3 367.3 467.6 370.5 465.9C373.7 464.2 376.8 462.5 380 461C383.2 459.4 386.3 457.9 389.5 456.5C392.7 455.1 395.8 453.8 399 452.7C402.2 451.5 405.3 450.5 408.5 449.7C411.7 448.8 414.8 448.2 418 447.7C421.2 447.3 424.3 447.1 427.5 447.1"/>
<path class="d" d="M47.5 539.8C50.7 539.8 53.8 539.8 57 539.8C60.2 539.8 63.3 539.8 66.5 539.8C69.7 539.8 72.8 539.8 76 539.8C79.2 539.8 82.3 539.8 85.5 539.8C88.7 539.8 91.8 539.8 95 539.8C98.2 539.8 101.3 539.8 104.5 539.8C107.7 539.8 110.8 539.8 114 539.8C117.2 539.8 120.3 539.8 123.5 539.8C126.7 539.8 129.8 539.8 133 539.8C136.2 539.8 139.3 539.8 142.5 539.8C145.7 539.8 148.8 539.8 152 539.8C155.2 539.8 158.3 539.8 161.5 539.7C164.7 539.7 167.8 539.7 171 539.7C174.2 539.7 177.3 539.7 180.5 539.7C183.7 539.7 186.8 539.6 190 539.6C193.2 539.6 196.3 539.5 199.5 539.5C202.7 539.5 205.8 539.4 209 539.4C212.2 539.3 215.3 539.3 218.5 539.2C221.7 539.2 224.8 539.1 228 539C231.2 538.9 234.3 538.8 237.5 538.7C240.7 538.6 243.8 538.5 247 538.3C250.2 538.2 253.3 538 256.5 537.9C259.7 537.7 262.8 537.5 266 537.3C269.2 537 272.3 536.8 275.5 536.5C278.7 536.2 281.8 535.9 285 535.6C288.2 535.3 291.3 534.9 294.5 534.5C297.7 534.1 300.8 533.6 304 533.1C307.2 532.7 310.3 532.1 313.5 531.5C316.7 530.9 319.8 530.3 323 529.6C326.2 528.9 329.3 528.1 332.5 527.3C335.7 526.4 338.8 525.5 342 524.6C345.2 523.6 348.3 522.5 351.5 521.4C354.7 520.2 357.8 519 361 517.6C364.2 516.3 367.3 514.8 370.5 513.3C373.7 511.7 376.8 510 380 508.2C383.2 506.4 386.3 504.5 389.5 502.4C392.7 500.3 395.8 498.1 399 495.7C402.2 493.3 405.3 490.8 408.5 488.1C411.7 485.4 414.8 482.5 418 479.4C421.2 476.3 424.3 473 427.5 469.4"/>
<path class="b" d="M47.5 320.1C50.7 320.1 53.8 321.7 57 323.3C60.2 325 63.3 327 66.5 329.2C69.7 331.4 72.8 333.9 76 336.6C79.2 339.2 82.3 342.1 85.5 345C88.7 348 91.8 351.1 95 354.3C98.2 357.5 101.3 360.7 104.5 364.1C107.7 367.4 110.8 370.8 114 374.3C117.2 377.7 120.3 381.2 123.5 384.7C126.7 388.2 129.8 391.7 133 395.2C136.2 398.7 139.3 402.2 142.5 405.7C145.7 409.2 148.8 412.6 152 416.1C155.2 419.5 158.3 422.9 161.5 426.2C164.7 429.6 167.8 432.8 171 436.1C174.2 439.3 177.3 442.5 180.5 445.6C183.7 448.7 186.8 451.7 190 454.7C193.2 457.6 196.3 460.5 199.5 463.3C202.7 466.1 205.8 468.9 209 471.5C212.2 474.2 215.3 476.7 218.5 479.2C221.7 481.7 224.8 484.1 228 486.4C231.2 488.7 234.3 490.9 237.5 493C240.7 495.1 243.8 497.1 247 499.1C250.2 501 253.3 502.9 256.5 504.6C259.7 506.4 262.8 508.1 266 509.7C269.2 511.3 272.3 512.8 275.5 514.2C278.7 515.7 281.8 517 285 518.3C288.2 519.6 291.3 520.8 294.5 521.9C297.7 523 300.8 524 304 525C307.2 526 310.3 526.9 313.5 527.8C316.7 528.6 319.8 529.4 323 530.1C326.2 530.8 329.3 531.5 332.5 532.1C335.7 532.7 338.8 533.3 342 533.8C345.2 534.3 348.3 534.8 351.5 535.2C354.7 535.6 357.8 536 361 536.3C364.2 536.7 367.3 537 370.5 537.2C373.7 537.5 376.8 537.7 380 538C383.2 538.2 386.3 538.4 389.5 538.5C392.7 538.7 395.8 538.8 399 538.9C402.2 539 405.3 539.1 408.5 539.2C411.7 539.3 414.8 539.4 418 539.4C421.2 539.5 424.3 539.6 427.5 539.6"/>
<path class="b" d="M47.5 539.8C50.7 539.8 53.8 538.2 57 536.6C60.2 535 63.3 533 66.5 530.8C69.7 528.7 72.8 526.3 76 523.8C79.2 521.2 82.3 518.6 85.5 515.8C88.7 513.1 91.8 510.3 95 507.5C98.2 504.6 101.3 501.8 104.5 498.9C107.7 496.1 110.8 493.2 114 490.4C117.2 487.7 120.3 484.9 123.5 482.2C126.7 479.6 129.8 477 133 474.5C136.2 472 139.3 469.6 142.5 467.3C145.7 465 148.8 462.9 152 460.9C155.2 458.8 158.3 456.9 161.5 455.2C164.7 453.4 167.8 451.8 171 450.4C174.2 448.9 177.3 447.6 180.5 446.5C183.7 445.3 186.8 444.3 190 443.5C193.2 442.7 196.3 442 199.5 441.5C202.7 441 205.8 440.6 209 440.4C212.2 440.2 215.3 440.2 218.5 440.3C221.7 440.4 224.8 440.7 228 441.1C231.2 441.5 234.3 442 237.5 442.7C240.7 443.4 243.8 444.2 247 445.1C250.2 446 253.3 447.1 256.5 448.2C259.7 449.4 262.8 450.6 266 452C269.2 453.3 272.3 454.8 275.5 456.3C278.7 457.8 281.8 459.4 285 461.1C288.2 462.8 291.3 464.5 294.5 466.3C297.7 468.1 300.8 469.9 304 471.8C307.2 473.6 310.3 475.5 313.5 477.5C316.7 479.4 319.8 481.3 323 483.3C326.2 485.2 329.3 487.1 332.5 489.1C335.7 491 338.8 492.9 342 494.8C345.2 496.7 348.3 498.6 351.5 500.4C354.7 502.2 357.8 504 361 505.8C364.2 507.5 367.3 509.2 370.5 510.9C373.7 512.5 376.8 514.1 380 515.6C383.2 517.1 386.3 518.6 389.5 520C392.7 521.3 395.8 522.6 399 523.9C402.2 525.1 405.3 526.3 408.5 527.4C411.7 528.4 414.8 529.4 418 530.4C421.2 531.3 424.3 532.1 427.5 532.9"/>
<path class="b" d="M47.5 539.8C50.7 539.8 53.8 539.8 57 539.8C60.2 539.8 63.3 539.7 66.5 539.7C69.7 539.6 72.8 539.5 76 539.4C79.2 539.3 82.3 539.1 85.5 538.9C88.7 538.6 91.8 538.3 95 538C98.2 537.6 101.3 537.2 104.5 536.7C107.7 536.2 110.8 535.7 114 535C117.2 534.4 120.3 533.7 123.5 532.9C126.7 532.1 129.8 531.2 133 530.2C136.2 529.2 139.3 528.2 142.5 527C145.7 525.9 148.8 524.7 152 523.4C155.2 522 158.3 520.7 161.5 519.2C164.7 517.7 167.8 516.1 171 514.5C174.2 512.9 177.3 511.2 180.5 509.4C183.7 507.6 186.8 505.8 190 503.9C193.2 502 196.3 500.1 199.5 498.1C202.7 496.1 205.8 494 209 492C212.2 489.9 215.3 487.8 218.5 485.7C221.7 483.5 224.8 481.4 228 479.2C231.2 477.1 234.3 474.9 237.5 472.8C240.7 470.7 243.8 468.6 247 466.5C250.2 464.4 253.3 462.3 256.5 460.3C259.7 458.3 262.8 456.3 266 454.4C269.2 452.5 272.3 450.7 275.5 448.9C278.7 447.2 281.8 445.5 285 443.9C288.2 442.4 291.3 440.9 294.5 439.6C297.7 438.2 300.8 437 304 435.9C307.2 434.8 310.3 433.8 313.5 433C316.7 432.2 319.8 431.6 323 431.1C326.2 430.6 329.3 430.2 332.5 430.1C335.7 429.9 338.8 429.9 342 430.1C345.2 430.3 348.3 430.7 351.5 431.2C354.7 431.8 357.8 432.5 361 433.5C364.2 434.4 367.3 435.6 370.5 436.9C373.7 438.2 376.8 439.7 380 441.4C383.2 443.1 386.3 445 389.5 447C392.7 449.1 395.8 451.3 399 453.7C402.2 456.1 405.3 458.6 408.5 461.3C411.7 464 414.8 466.8 418 469.7C421.2 472.6 424.3 475.6 427.5 478.8"/>
<path class="b" d="M47.5 539.8C50.7 539.8 53.8 539.8 57 539.8C60.2 539.8 63.3 539.8 66.5 539.8C69.7 539.8 72.8 539.8 76 539.8C79.2 539.8 82.3 539.8 85.5 539.8C88.7 539.8 91.8 539.8 95 539.8C98.2 539.8 101.3 539.8 104.5 539.8C107.7 539.8 110.8 539.7 114 539.7C117.2 539.7 120.3 539.7 123.5 539.7C126.7 539.6 129.8 539.6 133 539.6C136.2 539.5 139.3 539.5 142.5 539.4C145.7 539.4 148.8 539.3 152 539.2C155.2 539.1 158.3 539 161.5 538.9C164.7 538.8 167.8 538.7 171 538.6C174.2 538.4 177.3 538.3 180.5 538.1C183.7 537.9 186.8 537.7 190 537.4C193.2 537.2 196.3 536.9 199.5 536.6C202.7 536.4 205.8 536 209 535.7C212.2 535.3 215.3 534.9 218.5 534.5C221.7 534 224.8 533.6 228 533C231.2 532.5 234.3 531.9 237.5 531.3C240.7 530.7 243.8 530 247 529.3C250.2 528.6 253.3 527.8 256.5 527C259.7 526.1 262.8 525.2 266 524.3C269.2 523.3 272.3 522.3 275.5 521.2C278.7 520.1 281.8 518.9 285 517.7C288.2 516.5 291.3 515.2 294.5 513.8C297.7 512.5 300.8 511.1 304 509.6C307.2 508.1 310.3 506.5 313.5 504.9C316.7 503.3 319.8 501.6 323 499.8C326.2 498.1 329.3 496.2 332.5 494.4C335.7 492.5 338.8 490.6 342 488.6C345.2 486.7 348.3 484.7 351.5 482.6C354.7 480.6 357.8 478.5 361 476.4C364.2 474.3 367.3 472.3 370.5 470.2C373.7 468.1 376.8 466 380 464C383.2 462 386.3 460 389.5 458C392.7 456.1 395.8 454.3 399 452.5C402.2 450.8 405.3 449.1 408.5 447.7C411.7 446.2 414.8 444.9 418 443.8C421.2 442.7 424.3 441.8 427.5 441.2"/>
<path class="b" d="M47.5 539.8C50.7 539.8 53.8 539.8 57 539.8C60.2 539.8 63.3 539.8 66.5 539.8C69.7 539.8 72.8 539.8 76 539.8C79.2 539.8 82.3 539.8 85.5 539.8C88.7 539.8 91.8 539.8 95 539.8C98.2 539.8 101.3 539.8 104.5 539.8C107.7 539.8 110.8 539.8 114 539.8C117.2 539.8 120.3 539.8 123.5 539.8C126.7 539.8 129.8 539.8 133 539.8C136.2 539.8 139.3 539.8 142.5 539.8C145.7 539.8 148.8 539.8 152 539.8C155.2 539.8 158.3 539.8 161.5 539.8C164.7 539.8 167.8 539.8 171 539.8C174.2 539.8 177.3 539.8 180.5 539.8C183.7 539.8 186.8 539.8 190 539.8C193.2 539.8 196.3 539.8 199.5 539.7C202.7 539.7 205.8 539.7 209 539.7C212.2 539.7 215.3 539.7 218.5 539.7C221.7 539.6 224.8 539.6 228 539.6C231.2 539.6 234.3 539.5 237.5 539.5C240.7 539.5 243.8 539.4 247 539.4C250.2 539.3 253.3 539.3 256.5 539.2C259.7 539.1 262.8 539.1 266 539C269.2 538.9 272.3 538.8 275.5 538.7C278.7 538.5 281.8 538.4 285 538.2C288.2 538.1 291.3 537.9 294.5 537.7C297.7 537.5 300.8 537.3 304 537C307.2 536.8 310.3 536.5 313.5 536.2C316.7 535.8 319.8 535.5 323 535.1C326.2 534.6 329.3 534.2 332.5 533.7C335.7 533.2 338.8 532.6 342 532C345.2 531.3 348.3 530.6 351.5 529.9C354.7 529.1 357.8 528.2 361 527.3C364.2 526.3 367.3 525.3 370.5 524.2C373.7 523 376.8 521.7 380 520.4C383.2 519 386.3 517.5 389.5 515.8C392.7 514.1 395.8 512.3 399 510.3C402.2 508.3 405.3 506.1 408.5 503.8C411.7 501.4 414.8 498.8 418 496C421.2 493.2 424.3 490.2 427.5 486.9"/>
<path class="r" d="M47.5 320.1C50.7 320.1 53.8 321.6 57 323C60.2 324.5 63.3 326.3 66.5 328.3C69.7 330.3 72.8 332.6 76 335C79.2 337.4 82.3 339.9 85.5 342.6C88.7 345.3 91.8 348.2 95 351.1C98.2 354 101.3 357 104.5 360.1C107.7 363.1 110.8 366.3 114 369.5C117.2 372.6 120.3 375.9 123.5 379.1C126.7 382.4 129.8 385.6 133 388.9C136.2 392.2 139.3 395.5 142.5 398.8C145.7 402 148.8 405.3 152 408.5C155.2 411.8 158.3 415 161.5 418.2C164.7 421.4 167.8 424.6 171 427.7C174.2 430.8 177.3 433.9 180.5 436.9C183.7 439.9 186.8 442.9 190 445.8C193.2 448.7 196.3 451.6 199.5 454.4C202.7 457.1 205.8 459.9 209 462.5C212.2 465.2 215.3 467.8 218.5 470.3C221.7 472.8 224.8 475.3 228 477.6C231.2 480 234.3 482.3 237.5 484.5C240.7 486.7 243.8 488.9 247 490.9C250.2 493 253.3 495 256.5 496.9C259.7 498.8 262.8 500.6 266 502.3C269.2 504.1 272.3 505.8 275.5 507.4C278.7 509 281.8 510.5 285 511.9C288.2 513.4 291.3 514.7 294.5 516C297.7 517.3 300.8 518.6 304 519.7C307.2 520.9 310.3 522 313.5 523C316.7 524 319.8 525 323 525.9C326.2 526.8 329.3 527.7 332.5 528.4C335.7 529.2 338.8 530 342 530.6C345.2 531.3 348.3 531.9 351.5 532.5C354.7 533.1 357.8 533.6 361 534.1C364.2 534.6 367.3 535 370.5 535.4C373.7 535.8 376.8 536.2 380 536.5C383.2 536.8 386.3 537.1 389.5 537.4C392.7 537.6 395.8 537.8 399 538.1C402.2 538.3 405.3 538.4 408.5 538.6C411.7 538.7 414.8 538.9 418 539C421.2 539.1 424.3 539.2 427.5 539.3"/>
<path class="r" d="M47.5 539.8C50.7 539.8 53.8 538.3 57 536.9C60.2 535.4 63.3 533.7 66.5 531.7C69.7 529.8 72.8 527.6 76 525.3C79.2 523 82.3 520.6 85.5 518.1C88.7 515.6 91.8 513 95 510.4C98.2 507.8 101.3 505.2 104.5 502.6C107.7 499.9 110.8 497.3 114 494.7C117.2 492.1 120.3 489.5 123.5 487C126.7 484.5 129.8 482.1 133 479.7C136.2 477.3 139.3 475 142.5 472.8C145.7 470.6 148.8 468.5 152 466.6C155.2 464.6 158.3 462.7 161.5 460.9C164.7 459.2 167.8 457.5 171 456C174.2 454.5 177.3 453.2 180.5 451.9C183.7 450.7 186.8 449.6 190 448.7C193.2 447.7 196.3 446.9 199.5 446.3C202.7 445.6 205.8 445.1 209 444.7C212.2 444.3 215.3 444.1 218.5 444C221.7 443.9 224.8 443.9 228 444.1C231.2 444.3 234.3 444.6 237.5 445C240.7 445.5 243.8 446 247 446.7C250.2 447.4 253.3 448.2 256.5 449.1C259.7 450 262.8 451 266 452.2C269.2 453.3 272.3 454.5 275.5 455.8C278.7 457.1 281.8 458.5 285 459.9C288.2 461.4 291.3 462.9 294.5 464.5C297.7 466.1 300.8 467.8 304 469.5C307.2 471.2 310.3 473 313.5 474.7C316.7 476.5 319.8 478.3 323 480.2C326.2 482 329.3 483.9 332.5 485.7C335.7 487.6 338.8 489.4 342 491.3C345.2 493.1 348.3 495 351.5 496.8C354.7 498.6 357.8 500.4 361 502.2C364.2 504 367.3 505.7 370.5 507.4C373.7 509.1 376.8 510.7 380 512.3C383.2 513.9 386.3 515.5 389.5 517C392.7 518.4 395.8 519.9 399 521.2C402.2 522.5 405.3 523.8 408.5 525C411.7 526.2 414.8 527.4 418 528.4C421.2 529.5 424.3 530.4 427.5 531.3"/>
<path class="r" d="M47.5 539.8C50.7 539.8 53.8 539.8 57 539.8C60.2 539.8 63.3 539.7 66.5 539.7C69.7 539.6 72.8 539.6 76 539.4C79.2 539.3 82.3 539.2 85.5 539C88.7 538.8 91.8 538.5 95 538.2C98.2 537.9 101.3 537.5 104.5 537.1C107.7 536.7 110.8 536.2 114 535.6C117.2 535.1 120.3 534.4 123.5 533.7C126.7 533 129.8 532.3 133 531.4C136.2 530.6 139.3 529.6 142.5 528.6C145.7 527.6 148.8 526.6 152 525.4C155.2 524.3 158.3 523 161.5 521.8C164.7 520.5 167.8 519.1 171 517.7C174.2 516.2 177.3 514.8 180.5 513.2C183.7 511.7 186.8 510 190 508.4C193.2 506.7 196.3 505 199.5 503.3C202.7 501.5 205.8 499.8 209 497.9C212.2 496.1 215.3 494.3 218.5 492.4C221.7 490.6 224.8 488.7 228 486.8C231.2 484.9 234.3 483.1 237.5 481.2C240.7 479.3 243.8 477.5 247 475.6C250.2 473.8 253.3 472 256.5 470.2C259.7 468.5 262.8 466.7 266 465.1C269.2 463.4 272.3 461.8 275.5 460.3C278.7 458.8 281.8 457.3 285 455.9C288.2 454.6 291.3 453.3 294.5 452.1C297.7 450.9 300.8 449.8 304 448.9C307.2 447.9 310.3 447.1 313.5 446.4C316.7 445.7 319.8 445.1 323 444.7C326.2 444.2 329.3 443.9 332.5 443.8C335.7 443.6 338.8 443.6 342 443.8C345.2 444 348.3 444.3 351.5 444.8C354.7 445.3 357.8 446 361 446.8C364.2 447.6 367.3 448.6 370.5 449.7C373.7 450.9 376.8 452.2 380 453.7C383.2 455.2 386.3 456.8 389.5 458.6C392.7 460.4 395.8 462.4 399 464.4C402.2 466.5 405.3 468.7 408.5 471.1C411.7 473.4 414.8 475.9 418 478.5C421.2 481 424.3 483.7 427.5 486.4"/>
<path class="r" d="M47.5 539.8C50.7 539.8 53.8 539.8 57 539.8C60.2 539.8 63.3 539.8 66.5 539.8C69.7 539.8 72.8 539.8 76 539.8C79.2 539.8 82.3 539.8 85.5 539.8C88.7 539.8 91.8 539.8 95 539.8C98.2 539.8 101.3 539.8 104.5 539.7C107.7 539.7 110.8 539.7 114 539.7C117.2 539.7 120.3 539.6 123.5 539.6C126.7 539.6 129.8 539.5 133 539.5C136.2 539.4 139.3 539.4 142.5 539.3C145.7 539.2 148.8 539.1 152 539C155.2 538.9 158.3 538.8 161.5 538.6C164.7 538.5 167.8 538.3 171 538.2C174.2 538 177.3 537.8 180.5 537.5C183.7 537.3 186.8 537 190 536.7C193.2 536.5 196.3 536.1 199.5 535.8C202.7 535.4 205.8 535 209 534.6C212.2 534.1 215.3 533.7 218.5 533.2C221.7 532.6 224.8 532.1 228 531.5C231.2 530.9 234.3 530.2 237.5 529.5C240.7 528.8 243.8 528 247 527.2C250.2 526.4 253.3 525.5 256.5 524.6C259.7 523.6 262.8 522.7 266 521.6C269.2 520.6 272.3 519.4 275.5 518.3C278.7 517.1 281.8 515.9 285 514.6C288.2 513.3 291.3 511.9 294.5 510.5C297.7 509.1 300.8 507.6 304 506.1C307.2 504.6 310.3 503 313.5 501.3C316.7 499.7 319.8 498 323 496.2C326.2 494.5 329.3 492.7 332.5 490.9C335.7 489.1 338.8 487.2 342 485.3C345.2 483.4 348.3 481.5 351.5 479.6C354.7 477.6 357.8 475.7 361 473.8C364.2 471.8 367.3 469.9 370.5 468C373.7 466.1 376.8 464.3 380 462.5C383.2 460.7 386.3 458.9 389.5 457.3C392.7 455.6 395.8 454 399 452.6C402.2 451.1 405.3 449.8 408.5 448.7C411.7 447.5 414.8 446.5 418 445.8C421.2 445 424.3 444.4 427.5 444.1"/>
<path class="r" d="M47.5 539.8C50.7 539.8 53.8 539.8 57 539.8C60.2 539.8 63.3 539.8 66.5 539.8C69.7 539.8 72.8 539.8 76 539.8C79.2 539.8 82.3 539.8 85.5 539.8C88.7 539.8 91.8 539.8 95 539.8C98.2 539.8 101.3 539.8 104.5 539.8C107.7 539.8 110.8 539.8 114 539.8C117.2 539.8 120.3 539.8 123.5 539.8C126.7 539.8 129.8 539.8 133 539.8C136.2 539.8 139.3 539.8 142.5 539.8C145.7 539.8 148.8 539.8 152 539.8C155.2 539.8 158.3 539.8 161.5 539.8C164.7 539.8 167.8 539.8 171 539.8C174.2 539.7 177.3 539.7 180.5 539.7C183.7 539.7 186.8 539.7 190 539.7C193.2 539.7 196.3 539.7 199.5 539.6C202.7 539.6 205.8 539.6 209 539.5C212.2 539.5 215.3 539.5 218.5 539.4C221.7 539.4 224.8 539.4 228 539.3C231.2 539.2 234.3 539.2 237.5 539.1C240.7 539 243.8 538.9 247 538.9C250.2 538.8 253.3 538.6 256.5 538.5C259.7 538.4 262.8 538.3 266 538.1C269.2 538 272.3 537.8 275.5 537.6C278.7 537.4 281.8 537.2 285 536.9C288.2 536.7 291.3 536.4 294.5 536.1C297.7 535.8 300.8 535.5 304 535.1C307.2 534.7 310.3 534.3 313.5 533.8C316.7 533.4 319.8 532.9 323 532.3C326.2 531.8 329.3 531.2 332.5 530.5C335.7 529.8 338.8 529.1 342 528.3C345.2 527.5 348.3 526.6 351.5 525.6C354.7 524.7 357.8 523.6 361 522.5C364.2 521.3 367.3 520.1 370.5 518.7C373.7 517.4 376.8 515.9 380 514.3C383.2 512.7 386.3 511 389.5 509.1C392.7 507.2 395.8 505.2 399 503C402.2 500.8 405.3 498.5 408.5 495.9C411.7 493.4 414.8 490.6 418 487.7C421.2 484.7 424.3 481.6 427.5 478.2"/>
<path class="m" d="M47.5 320.1C50.7 320.1 53.8 321.1 57 322.1C60.2 323 63.3 324.2 66.5 325.6C69.7 327 72.8 328.5 76 330.2C79.2 331.8 82.3 333.6 85.5 335.5C88.7 337.4 91.8 339.4 95 341.5C98.2 343.6 101.3 345.8 104.5 348C107.7 350.3 110.8 352.6 114 355C117.2 357.4 120.3 359.8 123.5 362.3C126.7 364.8 129.8 367.4 133 370C136.2 372.6 139.3 375.2 142.5 377.9C145.7 380.5 148.8 383.2 152 386C155.2 388.7 158.3 391.4 161.5 394.2C164.7 396.9 167.8 399.7 171 402.5C174.2 405.3 177.3 408 180.5 410.8C183.7 413.6 186.8 416.4 190 419.1C193.2 421.9 196.3 424.7 199.5 427.4C202.7 430.1 205.8 432.9 209 435.6C212.2 438.3 215.3 440.9 218.5 443.6C221.7 446.2 224.8 448.8 228 451.4C231.2 454 234.3 456.6 237.5 459.1C240.7 461.6 243.8 464 247 466.4C250.2 468.8 253.3 471.2 256.5 473.5C259.7 475.8 262.8 478.1 266 480.3C269.2 482.5 272.3 484.7 275.5 486.7C278.7 488.8 281.8 490.9 285 492.8C288.2 494.8 291.3 496.7 294.5 498.5C297.7 500.4 300.8 502.2 304 503.9C307.2 505.6 310.3 507.2 313.5 508.8C316.7 510.4 319.8 511.9 323 513.3C326.2 514.8 329.3 516.1 332.5 517.4C335.7 518.7 338.8 520 342 521.1C345.2 522.3 348.3 523.4 351.5 524.4C354.7 525.5 357.8 526.4 361 527.4C364.2 528.3 367.3 529.1 370.5 529.9C373.7 530.7 376.8 531.4 380 532.1C383.2 532.7 386.3 533.3 389.5 533.9C392.7 534.4 395.8 535 399 535.4C402.2 535.9 405.3 536.3 408.5 536.6C411.7 537 414.8 537.3 418 537.6C421.2 537.9 424.3 538.1 427.5 538.3"/>
<path class="m" d="M47.5 539.8C50.7 539.8 53.8 538.8 57 537.9C60.2 536.9 63.3 535.7 66.5 534.3C69.7 533 72.8 531.5 76 529.9C79.2 528.3 82.3 526.6 85.5 524.9C88.7 523.1 91.8 521.2 95 519.3C98.2 517.4 101.3 515.5 104.5 513.5C107.7 511.5 110.8 509.5 114 507.5C117.2 505.5 120.3 503.4 123.5 501.4C126.7 499.4 129.8 497.3 133 495.3C136.2 493.3 139.3 491.3 142.5 489.4C145.7 487.4 148.8 485.5 152 483.6C155.2 481.8 158.3 479.9 161.5 478.2C164.7 476.4 167.8 474.7 171 473.1C174.2 471.4 177.3 469.9 180.5 468.4C183.7 466.9 186.8 465.5 190 464.2C193.2 462.9 196.3 461.7 199.5 460.5C202.7 459.4 205.8 458.4 209 457.5C212.2 456.5 215.3 455.7 218.5 455C221.7 454.3 224.8 453.7 228 453.2C231.2 452.7 234.3 452.3 237.5 452C240.7 451.8 243.8 451.6 247 451.6C250.2 451.5 253.3 451.6 256.5 451.8C259.7 452 262.8 452.3 266 452.7C269.2 453.1 272.3 453.6 275.5 454.2C278.7 454.9 281.8 455.6 285 456.4C288.2 457.3 291.3 458.2 294.5 459.3C297.7 460.3 300.8 461.4 304 462.7C307.2 463.9 310.3 465.2 313.5 466.6C316.7 467.9 319.8 469.4 323 470.9C326.2 472.5 329.3 474 332.5 475.7C335.7 477.3 338.8 479 342 480.8C345.2 482.5 348.3 484.3 351.5 486.1C354.7 487.9 357.8 489.7 361 491.5C364.2 493.4 367.3 495.2 370.5 497.1C373.7 498.9 376.8 500.8 380 502.6C383.2 504.4 386.3 506.2 389.5 508C392.7 509.7 395.8 511.5 399 513.2C402.2 514.8 405.3 516.5 408.5 518C411.7 519.6 414.8 521.1 418 522.5C421.2 524 424.3 525.3 427.5 526.6"/>
<path class="m" d="M47.5 539.8C50.7 539.8 53.8 539.8 57 539.8C60.2 539.8 63.3 539.8 66.5 539.7C69.7 539.7 72.8 539.7 76 539.6C79.2 539.5 82.3 539.4 85.5 539.3C88.7 539.2 91.8 539.1 95 538.9C98.2 538.7 101.3 538.5 104.5 538.3C107.7 538 110.8 537.7 114 537.4C117.2 537.1 120.3 536.7 123.5 536.3C126.7 535.9 129.8 535.5 133 535C136.2 534.5 139.3 534 142.5 533.4C145.7 532.9 148.8 532.2 152 531.6C155.2 530.9 158.3 530.2 161.5 529.5C164.7 528.7 167.8 528 171 527.2C174.2 526.3 177.3 525.5 180.5 524.6C183.7 523.7 186.8 522.8 190 521.9C193.2 520.9 196.3 519.9 199.5 518.9C202.7 517.9 205.8 516.9 209 515.9C212.2 514.8 215.3 513.8 218.5 512.7C221.7 511.7 224.8 510.6 228 509.5C231.2 508.4 234.3 507.4 237.5 506.3C240.7 505.2 243.8 504.2 247 503.1C250.2 502.1 253.3 501.1 256.5 500C259.7 499 262.8 498.1 266 497.1C269.2 496.2 272.3 495.2 275.5 494.4C278.7 493.5 281.8 492.7 285 491.9C288.2 491.1 291.3 490.4 294.5 489.7C297.7 489 300.8 488.4 304 487.8C307.2 487.3 310.3 486.8 313.5 486.4C316.7 486 319.8 485.7 323 485.4C326.2 485.2 329.3 485 332.5 484.9C335.7 484.9 338.8 484.9 342 485C345.2 485 348.3 485.2 351.5 485.5C354.7 485.8 357.8 486.2 361 486.6C364.2 487.1 367.3 487.7 370.5 488.3C373.7 489 376.8 489.8 380 490.6C383.2 491.4 386.3 492.4 389.5 493.4C392.7 494.4 395.8 495.5 399 496.7C402.2 497.9 405.3 499.2 408.5 500.5C411.7 501.9 414.8 503.3 418 504.7C421.2 506.2 424.3 507.7 427.5 509.3"/>
<path class="m" d="M47.5 539.8C50.7 539.8 53.8 539.8 57 539.8C60.2 539.8 63.3 539.8 66.5 539.8C69.7 539.8 72.8 539.8 76 539.8C79.2 539.8 82.3 539.8 85.5 539.8C88.7 539.8 91.8 539.8 95 539.8C98.2 539.7 101.3 539.7 104.5 539.7C107.7 539.7 110.8 539.6 114 539.6C117.2 539.6 120.3 539.5 123.5 539.4C126.7 539.4 129.8 539.3 133 539.2C136.2 539.1 139.3 539 142.5 538.9C145.7 538.7 148.8 538.6 152 538.4C155.2 538.2 158.3 538 161.5 537.8C164.7 537.5 167.8 537.2 171 536.9C174.2 536.6 177.3 536.3 180.5 535.9C183.7 535.5 186.8 535.1 190 534.7C193.2 534.2 196.3 533.7 199.5 533.1C202.7 532.6 205.8 532 209 531.3C212.2 530.7 215.3 530 218.5 529.2C221.7 528.5 224.8 527.7 228 526.8C231.2 525.9 234.3 525 237.5 524C240.7 523 243.8 522 247 520.9C250.2 519.8 253.3 518.7 256.5 517.5C259.7 516.2 262.8 515 266 513.7C269.2 512.4 272.3 511 275.5 509.6C278.7 508.1 281.8 506.7 285 505.2C288.2 503.7 291.3 502.1 294.5 500.5C297.7 498.9 300.8 497.3 304 495.7C307.2 494 310.3 492.3 313.5 490.6C316.7 488.9 319.8 487.2 323 485.5C326.2 483.8 329.3 482.1 332.5 480.4C335.7 478.7 338.8 477 342 475.3C345.2 473.6 348.3 472 351.5 470.4C354.7 468.8 357.8 467.3 361 465.8C364.2 464.3 367.3 462.9 370.5 461.6C373.7 460.3 376.8 459.1 380 458C383.2 456.8 386.3 455.8 389.5 455C392.7 454.1 395.8 453.4 399 452.8C402.2 452.3 405.3 451.9 408.5 451.7C411.7 451.5 414.8 451.5 418 451.7C421.2 451.9 424.3 452.4 427.5 453.1"/>
<path class="m" d="M47.5 539.8C50.7 539.8 53.8 539.8 57 539.8C60.2 539.8 63.3 539.8 66.5 539.8C69.7 539.8 72.8 539.8 76 539.8C79.2 539.8 82.3 539.8 85.5 539.8C88.7 539.8 91.8 539.8 95 539.8C98.2 539.8 101.3 539.8 104.5 539.8C107.7 539.8 110.8 539.8 114 539.8C117.2 539.8 120.3 539.8 123.5 539.8C126.7 539.8 129.8 539.8 133 539.8C136.2 539.8 139.3 539.8 142.5 539.8C145.7 539.8 148.8 539.8 152 539.7C155.2 539.7 158.3 539.7 161.5 539.7C164.7 539.7 167.8 539.7 171 539.6C174.2 539.6 177.3 539.6 180.5 539.6C183.7 539.5 186.8 539.5 190 539.4C193.2 539.4 196.3 539.3 199.5 539.3C202.7 539.2 205.8 539.1 209 539.1C212.2 539 215.3 538.9 218.5 538.8C221.7 538.7 224.8 538.5 228 538.4C231.2 538.2 234.3 538.1 237.5 537.9C240.7 537.7 243.8 537.5 247 537.3C250.2 537 253.3 536.8 256.5 536.5C259.7 536.2 262.8 535.9 266 535.5C269.2 535.2 272.3 534.8 275.5 534.4C278.7 534 281.8 533.5 285 533C288.2 532.5 291.3 531.9 294.5 531.3C297.7 530.7 300.8 530 304 529.3C307.2 528.5 310.3 527.7 313.5 526.9C316.7 526 319.8 525.1 323 524.1C326.2 523.1 329.3 522 332.5 520.9C335.7 519.7 338.8 518.5 342 517.1C345.2 515.8 348.3 514.4 351.5 512.8C354.7 511.3 357.8 509.7 361 507.9C364.2 506.2 367.3 504.3 370.5 502.4C373.7 500.4 376.8 498.3 380 496.1C383.2 493.9 386.3 491.5 389.5 489C392.7 486.6 395.8 483.9 399 481.2C402.2 478.4 405.3 475.5 408.5 472.4C411.7 469.3 414.8 466.1 418 462.7C421.2 459.3 424.3 455.7 427.5 452"/>
<path class="g" d="M47.5 320.1C50.7 320.1 53.8 321.2 57 322.4C60.2 323.5 63.3 324.9 66.5 326.5C69.7 328.1 72.8 329.9 76 331.8C79.2 333.7 82.3 335.7 85.5 337.9C88.7 340.1 91.8 342.3 95 344.7C98.2 347.1 101.3 349.5 104.5 352C107.7 354.6 110.8 357.2 114 359.8C117.2 362.5 120.3 365.2 123.5 367.9C126.7 370.7 129.8 373.5 133 376.3C136.2 379.1 139.3 382 142.5 384.8C145.7 387.7 148.8 390.6 152 393.5C155.2 396.4 158.3 399.3 161.5 402.2C164.7 405.1 167.8 408 171 410.9C174.2 413.8 177.3 416.6 180.5 419.5C183.7 422.4 186.8 425.2 190 428C193.2 430.8 196.3 433.6 199.5 436.4C202.7 439.1 205.8 441.9 209 444.6C212.2 447.2 215.3 449.9 218.5 452.5C221.7 455.1 224.8 457.7 228 460.2C231.2 462.7 234.3 465.1 237.5 467.5C240.7 469.9 243.8 472.3 247 474.6C250.2 476.9 253.3 479.1 256.5 481.3C259.7 483.5 262.8 485.6 266 487.6C269.2 489.7 272.3 491.7 275.5 493.6C278.7 495.5 281.8 497.4 285 499.2C288.2 501 291.3 502.7 294.5 504.4C297.7 506 300.8 507.6 304 509.2C307.2 510.7 310.3 512.1 313.5 513.5C316.7 514.9 319.8 516.3 323 517.5C326.2 518.8 329.3 520 332.5 521.1C335.7 522.2 338.8 523.3 342 524.3C345.2 525.3 348.3 526.2 351.5 527.1C354.7 528 357.8 528.8 361 529.6C364.2 530.4 367.3 531.1 370.5 531.7C373.7 532.4 376.8 533 380 533.5C383.2 534.1 386.3 534.6 389.5 535C392.7 535.5 395.8 535.9 399 536.3C402.2 536.7 405.3 537 408.5 537.3C411.7 537.6 414.8 537.8 418 538.1C421.2 538.3 424.3 538.5 427.5 538.7"/>
<path class="g" d="M47.5 539.8C50.7 539.8 53.8 538.7 57 537.5C60.2 536.4 63.3 535 66.5 533.5C69.7 531.9 72.8 530.2 76 528.4C79.2 526.6 82.3 524.6 85.5 522.6C88.7 520.6 91.8 518.5 95 516.4C98.2 514.2 101.3 512.1 104.5 509.9C107.7 507.7 110.8 505.4 114 503.2C117.2 501 120.3 498.8 123.5 496.6C126.7 494.4 129.8 492.2 133 490.1C136.2 488 139.3 485.9 142.5 483.9C145.7 481.8 148.8 479.9 152 477.9C155.2 476 158.3 474.2 161.5 472.4C164.7 470.7 167.8 469 171 467.4C174.2 465.8 177.3 464.3 180.5 462.9C183.7 461.5 186.8 460.2 190 459C193.2 457.8 196.3 456.8 199.5 455.8C202.7 454.8 205.8 454 209 453.2C212.2 452.5 215.3 451.8 218.5 451.3C221.7 450.8 224.8 450.4 228 450.2C231.2 449.9 234.3 449.7 237.5 449.7C240.7 449.7 243.8 449.7 247 449.9C250.2 450.1 253.3 450.5 256.5 450.9C259.7 451.3 262.8 451.9 266 452.5C269.2 453.1 272.3 453.9 275.5 454.8C278.7 455.6 281.8 456.6 285 457.6C288.2 458.7 291.3 459.8 294.5 461C297.7 462.2 300.8 463.6 304 464.9C307.2 466.3 310.3 467.8 313.5 469.3C316.7 470.8 319.8 472.4 323 474C326.2 475.6 329.3 477.3 332.5 479C335.7 480.7 338.8 482.5 342 484.3C345.2 486 348.3 487.8 351.5 489.7C354.7 491.5 357.8 493.3 361 495.1C364.2 496.9 367.3 498.7 370.5 500.5C373.7 502.3 376.8 504.1 380 505.8C383.2 507.6 386.3 509.3 389.5 511C392.7 512.6 395.8 514.3 399 515.8C402.2 517.4 405.3 518.9 408.5 520.4C411.7 521.8 414.8 523.2 418 524.5C421.2 525.8 424.3 527 427.5 528.2"/>
<path class="g" d="M47.5 539.8C50.7 539.8 53.8 539.8 57 539.8C60.2 539.8 63.3 539.8 66.5 539.7C69.7 539.7 72.8 539.6 76 539.5C79.2 539.5 82.3 539.4 85.5 539.2C88.7 539.1 91.8 538.9 95 538.7C98.2 538.4 101.3 538.2 104.5 537.9C107.7 537.6 110.8 537.2 114 536.8C117.2 536.4 120.3 536 123.5 535.5C126.7 535 129.8 534.4 133 533.8C136.2 533.2 139.3 532.5 142.5 531.8C145.7 531.1 148.8 530.3 152 529.5C155.2 528.7 158.3 527.8 161.5 526.9C164.7 526 167.8 525 171 524C174.2 523 177.3 521.9 180.5 520.8C183.7 519.7 186.8 518.5 190 517.4C193.2 516.2 196.3 515 199.5 513.7C202.7 512.5 205.8 511.2 209 509.9C212.2 508.6 215.3 507.3 218.5 506C221.7 504.6 224.8 503.3 228 502C231.2 500.6 234.3 499.3 237.5 497.9C240.7 496.6 243.8 495.3 247 494C250.2 492.7 253.3 491.4 256.5 490.1C259.7 488.8 262.8 487.6 266 486.4C269.2 485.2 272.3 484.1 275.5 483C278.7 481.9 281.8 480.9 285 479.9C288.2 478.9 291.3 478 294.5 477.2C297.7 476.3 300.8 475.5 304 474.9C307.2 474.2 310.3 473.6 313.5 473.1C316.7 472.6 319.8 472.2 323 471.8C326.2 471.5 329.3 471.3 332.5 471.2C335.7 471.1 338.8 471.1 342 471.2C345.2 471.4 348.3 471.6 351.5 471.9C354.7 472.3 357.8 472.8 361 473.4C364.2 473.9 367.3 474.6 370.5 475.5C373.7 476.3 376.8 477.2 380 478.3C383.2 479.4 386.3 480.5 389.5 481.8C392.7 483.1 395.8 484.5 399 486C402.2 487.5 405.3 489 408.5 490.7C411.7 492.4 414.8 494.2 418 496C421.2 497.8 424.3 499.7 427.5 501.6"/>
<path class="g" d="M47.5 539.8C50.7 539.8 53.8 539.8 57 539.8C60.2 539.8 63.3 539.8 66.5 539.8C69.7 539.8 72.8 539.8 76 539.8C79.2 539.8 82.3 539.8 85.5 539.8C88.7 539.8 91.8 539.8 95 539.8C98.2 539.7 101.3 539.7 104.5 539.7C107.7 539.7 110.8 539.7 114 539.6C117.2 539.6 120.3 539.5 123.5 539.5C126.7 539.4 129.8 539.4 133 539.3C136.2 539.2 139.3 539.1 142.5 539C145.7 538.9 148.8 538.7 152 538.6C155.2 538.4 158.3 538.3 161.5 538C164.7 537.8 167.8 537.6 171 537.3C174.2 537.1 177.3 536.8 180.5 536.5C183.7 536.1 186.8 535.8 190 535.4C193.2 535 196.3 534.5 199.5 534C202.7 533.5 205.8 533 209 532.4C212.2 531.8 215.3 531.2 218.5 530.5C221.7 529.9 224.8 529.1 228 528.3C231.2 527.6 234.3 526.7 237.5 525.8C240.7 525 243.8 524 247 523C250.2 522 253.3 520.9 256.5 519.8C259.7 518.7 262.8 517.5 266 516.3C269.2 515.1 272.3 513.8 275.5 512.5C278.7 511.1 281.8 509.7 285 508.3C288.2 506.9 291.3 505.4 294.5 503.9C297.7 502.3 300.8 500.7 304 499.1C307.2 497.5 310.3 495.9 313.5 494.2C316.7 492.5 319.8 490.8 323 489.1C326.2 487.4 329.3 485.6 332.5 483.9C335.7 482.1 338.8 480.4 342 478.6C345.2 476.9 348.3 475.2 351.5 473.5C354.7 471.8 357.8 470.1 361 468.5C364.2 466.8 367.3 465.3 370.5 463.8C373.7 462.2 376.8 460.8 380 459.5C383.2 458.1 386.3 456.9 389.5 455.7C392.7 454.6 395.8 453.6 399 452.8C402.2 451.9 405.3 451.2 408.5 450.7C411.7 450.2 414.8 449.8 418 449.7C421.2 449.6 424.3 449.7 427.5 450.1"/>
<path class="g" d="M47.5 539.8C50.7 539.8 53.8 539.8 57 539.8C60.2 539.8 63.3 539.8 66.5 539.8C69.7 539.8 72.8 539.8 76 539.8C79.2 539.8 82.3 539.8 85.5 539.8C88.7 539.8 91.8 539.8 95 539.8C98.2 539.8 101.3 539.8 104.5 539.8C107.7 539.8 110.8 539.8 114 539.8C117.2 539.8 120.3 539.8 123.5 539.8C126.7 539.8 129.8 539.8 133 539.8C136.2 539.8 139.3 539.8 142.5 539.8C145.7 539.8 148.8 539.8 152 539.8C155.2 539.7 158.3 539.7 161.5 539.7C164.7 539.7 167.8 539.7 171 539.7C174.2 539.7 177.3 539.6 180.5 539.6C183.7 539.6 186.8 539.6 190 539.5C193.2 539.5 196.3 539.4 199.5 539.4C202.7 539.3 205.8 539.3 209 539.2C212.2 539.2 215.3 539.1 218.5 539C221.7 538.9 224.8 538.8 228 538.7C231.2 538.6 234.3 538.4 237.5 538.3C240.7 538.2 243.8 538 247 537.8C250.2 537.6 253.3 537.4 256.5 537.2C259.7 536.9 262.8 536.7 266 536.4C269.2 536.1 272.3 535.8 275.5 535.5C278.7 535.1 281.8 534.7 285 534.3C288.2 533.9 291.3 533.4 294.5 532.9C297.7 532.4 300.8 531.8 304 531.2C307.2 530.6 310.3 529.9 313.5 529.2C316.7 528.5 319.8 527.7 323 526.8C326.2 526 329.3 525.1 332.5 524.1C335.7 523.1 338.8 522 342 520.8C345.2 519.7 348.3 518.4 351.5 517.1C354.7 515.8 357.8 514.3 361 512.8C364.2 511.2 367.3 509.6 370.5 507.8C373.7 506.1 376.8 504.2 380 502.2C383.2 500.1 386.3 498 389.5 495.7C392.7 493.4 395.8 491 399 488.4C402.2 485.9 405.3 483.1 408.5 480.2C411.7 477.3 414.8 474.3 418 471C421.2 467.8 424.3 464.4 427.5 460.7"/>
<path class="tk" d="M47.5 550.8h2.3M47.5 528.8h2.3M47.5 517.8h2.3M47.5 506.8h2.3M47.5 495.9h4.4M47.5 484.9h2.3M47.5 473.9h2.3M47.5 462.9h2.3M47.5 451.9h4.4M47.5 440.9h2.3M47.5 429.9h2.3M47.5 419h2.3M47.5 408h4.4M47.5 397h2.3M47.5 386h2.3M47.5 375h2.3M47.5 364h4.4M47.5 353.1h2.3M47.5 342.1h2.3M47.5 331.1h2.3M47.5 320.1h4.4M47.5 309.1h2.3M66.5 539.8v-2.3M85.5 539.8v-2.3M104.5 539.8v-2.3M123.5 539.8v-4.4M142.5 539.8v-2.3M161.5 539.8v-2.3M180.5 539.8v-2.3M199.5 539.8v-4.4M218.5 539.8v-2.3M237.5 539.8v-2.3M256.5 539.8v-2.3M275.5 539.8v-4.4M294.5 539.8v-2.3M313.5 539.8v-2.3M332.5 539.8v-2.3M351.5 539.8v-4.4M370.5 539.8v-2.3M389.5 539.8v-2.3M408.5 539.8v-2.3M427.5 539.8v-4.4"/>
<path class="ax" d="M671 540.2H1060.6"/>
<path class="ax" d="M679.2 312.5V552.7"/>
<text class="tl" text-anchor="end" transform="translate(674.8 500.9) scale(0.9 1)">0.2</text>
<text class="tl" text-anchor="middle" transform="translate(753.4 554.5) scale(0.9 1)">0.2</text>
<text class="tl" text-anchor="end" transform="translate(674.8 457.6) scale(0.9 1)">0.4</text>
<text class="tl" text-anchor="middle" transform="translate(828.1 554.5) scale(0.9 1)">0.4</text>
<text class="tl" text-anchor="end" transform="translate(674.8 414.4) scale(0.9 1)">0.6</text>
<text class="tl" text-anchor="middle" transform="translate(902.7 554.5) scale(0.9 1)">0.6</text>
<text class="tl" text-anchor="end" transform="translate(674.8 371.1) scale(0.9 1)">0.8</text>
<text class="tl" text-anchor="middle" transform="translate(977.4 554.5) scale(0.9 1)">0.8</text>
<text class="tl" text-anchor="end" transform="translate(674.8 327.9) scale(0.9 1)">1.0</text>
<text class="tl" text-anchor="middle" transform="translate(1052 554.5) scale(0.9 1)">1.0</text>
<path class="d" d="M679.2 324C682.3 324 685.4 325.6 688.5 327.2C691.6 328.8 694.8 330.7 697.9 332.9C701 335.1 704.1 337.6 707.2 340.2C710.3 342.8 713.4 345.6 716.5 348.5C719.6 351.4 722.7 354.5 725.9 357.6C729 360.8 732.1 364 735.2 367.3C738.3 370.6 741.4 373.9 744.5 377.3C747.6 380.7 750.7 384.1 753.8 387.6C757 391 760.1 394.5 763.2 397.9C766.3 401.4 769.4 404.8 772.5 408.2C775.6 411.7 778.7 415.1 781.8 418.4C784.9 421.8 788.1 425.1 791.2 428.4C794.3 431.7 797.4 434.9 800.5 438.1C803.6 441.3 806.7 444.4 809.8 447.5C812.9 450.5 816 453.5 819.2 456.4C822.3 459.4 825.4 462.2 828.5 465C831.6 467.7 834.7 470.4 837.8 473C840.9 475.6 844 478.1 847.1 480.6C850.3 483 853.4 485.3 856.5 487.6C859.6 489.9 862.7 492 865.8 494.1C868.9 496.2 872 498.2 875.1 500.1C878.2 502 881.4 503.9 884.5 505.6C887.6 507.3 890.7 509 893.8 510.6C896.9 512.1 900 513.6 903.1 515C906.2 516.4 909.3 517.8 912.5 519C915.6 520.3 918.7 521.5 921.8 522.6C924.9 523.7 928 524.7 931.1 525.7C934.2 526.6 937.3 527.5 940.4 528.4C943.6 529.2 946.7 530 949.8 530.7C952.9 531.4 956 532 959.1 532.6C962.2 533.2 965.3 533.8 968.4 534.3C971.5 534.8 974.7 535.2 977.8 535.7C980.9 536.1 984 536.4 987.1 536.8C990.2 537.1 993.3 537.4 996.4 537.7C999.5 537.9 1002.6 538.2 1005.8 538.4C1008.9 538.6 1012 538.8 1015.1 538.9C1018.2 539.1 1021.3 539.2 1024.4 539.3C1027.5 539.5 1030.6 539.6 1033.7 539.6C1036.8 539.7 1040 539.8 1043.1 539.9C1046.2 539.9 1049.3 540 1052.4 540"/>
<path class="d" d="M679.2 540.2C682.3 540.2 685.4 538.6 688.5 537C691.6 535.5 694.8 533.5 697.9 531.4C701 529.3 704.1 527 707.2 524.5C710.3 522.1 713.4 519.5 716.5 516.8C719.6 514.2 722.7 511.5 725.9 508.8C729 506.1 732.1 503.4 735.2 500.7C738.3 498 741.4 495.3 744.5 492.7C747.6 490.1 750.7 487.6 753.8 485.2C757 482.7 760.1 480.3 763.2 478.1C766.3 475.9 769.4 473.7 772.5 471.7C775.6 469.7 778.7 467.8 781.8 466.1C784.9 464.4 788.1 462.8 791.2 461.4C794.3 459.9 797.4 458.7 800.5 457.5C803.6 456.4 806.7 455.5 809.8 454.7C812.9 453.9 816 453.2 819.2 452.7C822.3 452.3 825.4 451.9 828.5 451.8C831.6 451.6 834.7 451.6 837.8 451.7C840.9 451.9 844 452.2 847.1 452.6C850.3 453 853.4 453.6 856.5 454.3C859.6 455 862.7 455.8 865.8 456.7C868.9 457.7 872 458.7 875.1 459.9C878.2 461 881.4 462.3 884.5 463.6C887.6 465 890.7 466.4 893.8 467.9C896.9 469.4 900 471 903.1 472.6C906.2 474.2 909.3 475.9 912.5 477.6C915.6 479.3 918.7 481 921.8 482.8C924.9 484.6 928 486.4 931.1 488.2C934.2 490 937.3 491.8 940.4 493.6C943.6 495.3 946.7 497.1 949.8 498.9C952.9 500.6 956 502.4 959.1 504.1C962.2 505.8 965.3 507.4 968.4 509.1C971.5 510.7 974.7 512.2 977.8 513.8C980.9 515.3 984 516.7 987.1 518.1C990.2 519.5 993.3 520.8 996.4 522.1C999.5 523.4 1002.6 524.6 1005.8 525.7C1008.9 526.8 1012 527.9 1015.1 528.8C1018.2 529.8 1021.3 530.7 1024.4 531.5C1027.5 532.4 1030.6 533.1 1033.7 533.8C1036.8 534.5 1040 535.1 1043.1 535.7C1046.2 536.2 1049.3 536.7 1052.4 537.1"/>
<path class="d" d="M679.2 540.2C682.3 540.2 685.4 540.2 688.5 540.2C691.6 540.2 694.8 540.1 697.9 540.1C701 540 704.1 539.9 707.2 539.7C710.3 539.5 713.4 539.3 716.5 539.1C719.6 538.8 722.7 538.5 725.9 538C729 537.6 732.1 537.1 735.2 536.6C738.3 536 741.4 535.4 744.5 534.7C747.6 533.9 750.7 533.1 753.8 532.3C757 531.4 760.1 530.4 763.2 529.4C766.3 528.3 769.4 527.2 772.5 526C775.6 524.8 778.7 523.5 781.8 522.2C784.9 520.8 788.1 519.4 791.2 518C794.3 516.5 797.4 515 800.5 513.4C803.6 511.9 806.7 510.3 809.8 508.6C812.9 507 816 505.3 819.2 503.7C822.3 502 825.4 500.3 828.5 498.6C831.6 497 834.7 495.3 837.8 493.6C840.9 492 844 490.3 847.1 488.7C850.3 487.1 853.4 485.6 856.5 484.1C859.6 482.5 862.7 481.1 865.8 479.7C868.9 478.3 872 477 875.1 475.8C878.2 474.6 881.4 473.4 884.5 472.4C887.6 471.4 890.7 470.4 893.8 469.6C896.9 468.8 900 468.1 903.1 467.5C906.2 466.9 909.3 466.4 912.5 466.1C915.6 465.8 918.7 465.6 921.8 465.5C924.9 465.4 928 465.5 931.1 465.7C934.2 465.9 937.3 466.3 940.4 466.7C943.6 467.2 946.7 467.8 949.8 468.6C952.9 469.3 956 470.2 959.1 471.2C962.2 472.2 965.3 473.3 968.4 474.5C971.5 475.8 974.7 477.1 977.8 478.5C980.9 480 984 481.5 987.1 483.1C990.2 484.8 993.3 486.5 996.4 488.2C999.5 490 1002.6 491.8 1005.8 493.7C1008.9 495.6 1012 497.5 1015.1 499.4C1018.2 501.3 1021.3 503.2 1024.4 505.2C1027.5 507.1 1030.6 509 1033.7 510.9C1036.8 512.8 1040 514.6 1043.1 516.4C1046.2 518.2 1049.3 519.9 1052.4 521.6"/>
<path class="d" d="M679.2 540.2C682.3 540.2 685.4 540.2 688.5 540.2C691.6 540.2 694.8 540.2 697.9 540.2C701 540.2 704.1 540.2 707.2 540.2C710.3 540.2 713.4 540.2 716.5 540.2C719.6 540.2 722.7 540.1 725.9 540.1C729 540.1 732.1 540.1 735.2 540C738.3 540 741.4 539.9 744.5 539.9C747.6 539.8 750.7 539.7 753.8 539.6C757 539.5 760.1 539.4 763.2 539.3C766.3 539.1 769.4 538.9 772.5 538.7C775.6 538.5 778.7 538.3 781.8 538C784.9 537.7 788.1 537.4 791.2 537.1C794.3 536.7 797.4 536.3 800.5 535.9C803.6 535.4 806.7 534.9 809.8 534.4C812.9 533.8 816 533.2 819.2 532.6C822.3 531.9 825.4 531.2 828.5 530.4C831.6 529.7 834.7 528.8 837.8 527.9C840.9 527 844 526.1 847.1 525.1C850.3 524.1 853.4 523 856.5 521.9C859.6 520.7 862.7 519.5 865.8 518.3C868.9 517 872 515.7 875.1 514.4C878.2 513 881.4 511.6 884.5 510.2C887.6 508.7 890.7 507.3 893.8 505.7C896.9 504.2 900 502.7 903.1 501.1C906.2 499.6 909.3 498 912.5 496.4C915.6 494.8 918.7 493.2 921.8 491.6C924.9 490 928 488.4 931.1 486.9C934.2 485.3 937.3 483.8 940.4 482.3C943.6 480.9 946.7 479.4 949.8 478.1C952.9 476.7 956 475.4 959.1 474.2C962.2 473 965.3 471.9 968.4 470.9C971.5 470 974.7 469.1 977.8 468.3C980.9 467.6 984 466.9 987.1 466.5C990.2 466 993.3 465.7 996.4 465.6C999.5 465.4 1002.6 465.5 1005.8 465.7C1008.9 465.9 1012 466.3 1015.1 466.9C1018.2 467.5 1021.3 468.3 1024.4 469.3C1027.5 470.3 1030.6 471.5 1033.7 472.9C1036.8 474.3 1040 475.9 1043.1 477.7C1046.2 479.5 1049.3 481.5 1052.4 483.7"/>
<path class="d" d="M679.2 540.2C682.3 540.2 685.4 540.2 688.5 540.2C691.6 540.2 694.8 540.2 697.9 540.2C701 540.2 704.1 540.2 707.2 540.2C710.3 540.2 713.4 540.2 716.5 540.2C719.6 540.2 722.7 540.2 725.9 540.2C729 540.2 732.1 540.2 735.2 540.2C738.3 540.2 741.4 540.2 744.5 540.2C747.6 540.2 750.7 540.2 753.8 540.2C757 540.2 760.1 540.2 763.2 540.2C766.3 540.1 769.4 540.1 772.5 540.1C775.6 540.1 778.7 540.1 781.8 540.1C784.9 540 788.1 540 791.2 540C794.3 539.9 797.4 539.9 800.5 539.8C803.6 539.8 806.7 539.7 809.8 539.7C812.9 539.6 816 539.5 819.2 539.4C822.3 539.3 825.4 539.2 828.5 539.1C831.6 538.9 834.7 538.8 837.8 538.6C840.9 538.4 844 538.2 847.1 538C850.3 537.7 853.4 537.5 856.5 537.2C859.6 536.9 862.7 536.6 865.8 536.2C868.9 535.9 872 535.5 875.1 535C878.2 534.6 881.4 534.1 884.5 533.6C887.6 533 890.7 532.4 893.8 531.8C896.9 531.2 900 530.5 903.1 529.7C906.2 528.9 909.3 528.1 912.5 527.2C915.6 526.4 918.7 525.4 921.8 524.4C924.9 523.4 928 522.3 931.1 521.1C934.2 520 937.3 518.7 940.4 517.4C943.6 516.1 946.7 514.7 949.8 513.3C952.9 511.8 956 510.3 959.1 508.7C962.2 507.1 965.3 505.4 968.4 503.7C971.5 502 974.7 500.2 977.8 498.3C980.9 496.4 984 494.5 987.1 492.6C990.2 490.6 993.3 488.6 996.4 486.6C999.5 484.6 1002.6 482.5 1005.8 480.5C1008.9 478.5 1012 476.4 1015.1 474.4C1018.2 472.4 1021.3 470.4 1024.4 468.5C1027.5 466.6 1030.6 464.7 1033.7 463C1036.8 461.3 1040 459.6 1043.1 458.2C1046.2 456.7 1049.3 455.5 1052.4 454.4"/>
<path class="d" d="M679.2 540.2C682.3 540.2 685.4 540.2 688.5 540.2C691.6 540.2 694.8 540.2 697.9 540.2C701 540.2 704.1 540.2 707.2 540.2C710.3 540.2 713.4 540.2 716.5 540.2C719.6 540.2 722.7 540.2 725.9 540.2C729 540.2 732.1 540.2 735.2 540.2C738.3 540.2 741.4 540.2 744.5 540.2C747.6 540.2 750.7 540.2 753.8 540.2C757 540.2 760.1 540.2 763.2 540.2C766.3 540.2 769.4 540.2 772.5 540.2C775.6 540.2 778.7 540.2 781.8 540.2C784.9 540.2 788.1 540.2 791.2 540.2C794.3 540.2 797.4 540.2 800.5 540.2C803.6 540.2 806.7 540.2 809.8 540.2C812.9 540.2 816 540.2 819.2 540.2C822.3 540.2 825.4 540.2 828.5 540.1C831.6 540.1 834.7 540.1 837.8 540.1C840.9 540.1 844 540.1 847.1 540.1C850.3 540.1 853.4 540 856.5 540C859.6 540 862.7 539.9 865.8 539.9C868.9 539.9 872 539.8 875.1 539.8C878.2 539.7 881.4 539.7 884.5 539.6C887.6 539.5 890.7 539.5 893.8 539.4C896.9 539.3 900 539.2 903.1 539.1C906.2 539 909.3 538.8 912.5 538.7C915.6 538.5 918.7 538.3 921.8 538.1C924.9 537.9 928 537.7 931.1 537.5C934.2 537.2 937.3 536.9 940.4 536.6C943.6 536.3 946.7 535.9 949.8 535.5C952.9 535.1 956 534.7 959.1 534.2C962.2 533.7 965.3 533.1 968.4 532.5C971.5 531.9 974.7 531.2 977.8 530.4C980.9 529.7 984 528.8 987.1 527.9C990.2 527 993.3 525.9 996.4 524.8C999.5 523.7 1002.6 522.4 1005.8 521.1C1008.9 519.7 1012 518.2 1015.1 516.6C1018.2 514.9 1021.3 513.1 1024.4 511.2C1027.5 509.2 1030.6 507.1 1033.7 504.8C1036.8 502.4 1040 499.9 1043.1 497.1C1046.2 494.4 1049.3 491.4 1052.4 488.1"/>
<path class="b" d="M679.2 324C682.3 324 685.4 325.9 688.5 327.8C691.6 329.7 694.8 332.1 697.9 334.7C701 337.3 704.1 340.2 707.2 343.3C710.3 346.4 713.4 349.7 716.5 353.1C719.6 356.5 722.7 360.1 725.9 363.7C729 367.3 732.1 371.1 735.2 374.8C738.3 378.6 741.4 382.5 744.5 386.3C747.6 390.1 750.7 394 753.8 397.9C757 401.7 760.1 405.5 763.2 409.4C766.3 413.2 769.4 416.9 772.5 420.7C775.6 424.4 778.7 428 781.8 431.6C784.9 435.3 788.1 438.8 791.2 442.2C794.3 445.7 797.4 449.1 800.5 452.4C803.6 455.6 806.7 458.8 809.8 461.9C812.9 465 816 468 819.2 470.9C822.3 473.8 825.4 476.6 828.5 479.3C831.6 482 834.7 484.5 837.8 487C840.9 489.5 844 491.8 847.1 494.1C850.3 496.4 853.4 498.5 856.5 500.6C859.6 502.6 862.7 504.5 865.8 506.4C868.9 508.2 872 510 875.1 511.6C878.2 513.2 881.4 514.8 884.5 516.2C887.6 517.7 890.7 519 893.8 520.3C896.9 521.6 900 522.7 903.1 523.8C906.2 524.9 909.3 526 912.5 526.9C915.6 527.8 918.7 528.7 921.8 529.5C924.9 530.3 928 531.1 931.1 531.7C934.2 532.4 937.3 533 940.4 533.6C943.6 534.1 946.7 534.6 949.8 535.1C952.9 535.6 956 536 959.1 536.3C962.2 536.7 965.3 537 968.4 537.3C971.5 537.6 974.7 537.9 977.8 538.1C980.9 538.3 984 538.5 987.1 538.7C990.2 538.9 993.3 539 996.4 539.2C999.5 539.3 1002.6 539.4 1005.8 539.5C1008.9 539.6 1012 539.7 1015.1 539.7C1018.2 539.8 1021.3 539.9 1024.4 539.9C1027.5 540 1030.6 540 1033.7 540C1036.8 540.1 1040 540.1 1043.1 540.1C1046.2 540.1 1049.3 540.1 1052.4 540.2"/>
<path class="b" d="M679.2 540.2C682.3 540.2 685.4 538.3 688.5 536.4C691.6 534.5 694.8 532.2 697.9 529.7C701 527.2 704.1 524.4 707.2 521.5C710.3 518.7 713.4 515.6 716.5 512.6C719.6 509.5 722.7 506.4 725.9 503.3C729 500.1 732.1 497 735.2 494C738.3 491 741.4 488 744.5 485.1C747.6 482.2 750.7 479.4 753.8 476.7C757 474.1 760.1 471.5 763.2 469.2C766.3 466.8 769.4 464.6 772.5 462.5C775.6 460.5 778.7 458.6 781.8 456.9C784.9 455.2 788.1 453.7 791.2 452.4C794.3 451.1 797.4 450 800.5 449.1C803.6 448.2 806.7 447.4 809.8 446.9C812.9 446.3 816 446 819.2 445.8C822.3 445.7 825.4 445.7 828.5 445.9C831.6 446.1 834.7 446.4 837.8 447C840.9 447.5 844 448.2 847.1 449C850.3 449.8 853.4 450.8 856.5 451.9C859.6 453 862.7 454.2 865.8 455.6C868.9 456.9 872 458.4 875.1 459.9C878.2 461.4 881.4 463.1 884.5 464.8C887.6 466.5 890.7 468.2 893.8 470C896.9 471.8 900 473.7 903.1 475.6C906.2 477.5 909.3 479.4 912.5 481.4C915.6 483.3 918.7 485.2 921.8 487.2C924.9 489.1 928 491 931.1 493C934.2 494.9 937.3 496.8 940.4 498.6C943.6 500.5 946.7 502.3 949.8 504C952.9 505.8 956 507.5 959.1 509.2C962.2 510.9 965.3 512.5 968.4 514C971.5 515.6 974.7 517 977.8 518.4C980.9 519.8 984 521.2 987.1 522.4C990.2 523.7 993.3 524.9 996.4 526C999.5 527.1 1002.6 528.1 1005.8 529C1008.9 530 1012 530.9 1015.1 531.7C1018.2 532.5 1021.3 533.2 1024.4 533.9C1027.5 534.5 1030.6 535.1 1033.7 535.7C1036.8 536.2 1040 536.6 1043.1 537.1C1046.2 537.5 1049.3 537.8 1052.4 538.1"/>
<path class="b" d="M679.2 540.2C682.3 540.2 685.4 540.2 688.5 540.2C691.6 540.2 694.8 540.1 697.9 540C701 539.9 704.1 539.8 707.2 539.6C710.3 539.4 713.4 539.1 716.5 538.8C719.6 538.4 722.7 538 725.9 537.5C729 537 732.1 536.4 735.2 535.7C738.3 535 741.4 534.2 744.5 533.4C747.6 532.5 750.7 531.5 753.8 530.4C757 529.3 760.1 528.1 763.2 526.9C766.3 525.6 769.4 524.2 772.5 522.8C775.6 521.3 778.7 519.8 781.8 518.2C784.9 516.5 788.1 514.8 791.2 513.1C794.3 511.3 797.4 509.5 800.5 507.7C803.6 505.8 806.7 503.9 809.8 502C812.9 500 816 498.1 819.2 496.1C822.3 494.2 825.4 492.2 828.5 490.2C831.6 488.3 834.7 486.3 837.8 484.4C840.9 482.5 844 480.6 847.1 478.8C850.3 476.9 853.4 475.2 856.5 473.5C859.6 471.8 862.7 470.1 865.8 468.6C868.9 467.1 872 465.6 875.1 464.3C878.2 463 881.4 461.8 884.5 460.7C887.6 459.6 890.7 458.6 893.8 457.8C896.9 456.9 900 456.2 903.1 455.7C906.2 455.1 909.3 454.7 912.5 454.5C915.6 454.2 918.7 454.1 921.8 454.2C924.9 454.3 928 454.5 931.1 454.9C934.2 455.2 937.3 455.8 940.4 456.5C943.6 457.1 946.7 458 949.8 459C952.9 459.9 956 461.1 959.1 462.3C962.2 463.6 965.3 465 968.4 466.5C971.5 468 974.7 469.7 977.8 471.4C980.9 473.2 984 475 987.1 476.9C990.2 478.8 993.3 480.8 996.4 482.9C999.5 485 1002.6 487.1 1005.8 489.2C1008.9 491.4 1012 493.5 1015.1 495.7C1018.2 497.9 1021.3 500.1 1024.4 502.3C1027.5 504.4 1030.6 506.6 1033.7 508.7C1036.8 510.8 1040 512.8 1043.1 514.8C1046.2 516.7 1049.3 518.6 1052.4 520.4"/>
<path class="b" d="M679.2 540.2C682.3 540.2 685.4 540.2 688.5 540.2C691.6 540.2 694.8 540.2 697.9 540.2C701 540.2 704.1 540.2 707.2 540.2C710.3 540.2 713.4 540.2 716.5 540.2C719.6 540.2 722.7 540.1 725.9 540.1C729 540.1 732.1 540.1 735.2 540C738.3 540 741.4 539.9 744.5 539.9C747.6 539.8 750.7 539.7 753.8 539.6C757 539.5 760.1 539.4 763.2 539.2C766.3 539.1 769.4 538.9 772.5 538.7C775.6 538.5 778.7 538.2 781.8 537.9C784.9 537.7 788.1 537.3 791.2 537C794.3 536.6 797.4 536.2 800.5 535.7C803.6 535.2 806.7 534.7 809.8 534.1C812.9 533.6 816 532.9 819.2 532.2C822.3 531.5 825.4 530.8 828.5 530C831.6 529.1 834.7 528.3 837.8 527.3C840.9 526.3 844 525.3 847.1 524.2C850.3 523.1 853.4 522 856.5 520.7C859.6 519.5 862.7 518.2 865.8 516.8C868.9 515.5 872 514 875.1 512.5C878.2 511 881.4 509.5 884.5 507.9C887.6 506.3 890.7 504.6 893.8 502.9C896.9 501.2 900 499.5 903.1 497.7C906.2 495.9 909.3 494.1 912.5 492.3C915.6 490.5 918.7 488.6 921.8 486.8C924.9 485 928 483.1 931.1 481.3C934.2 479.5 937.3 477.7 940.4 476C943.6 474.2 946.7 472.5 949.8 470.9C952.9 469.2 956 467.7 959.1 466.2C962.2 464.7 965.3 463.3 968.4 462.1C971.5 460.8 974.7 459.6 977.8 458.6C980.9 457.6 984 456.8 987.1 456.1C990.2 455.4 993.3 454.9 996.4 454.6C999.5 454.2 1002.6 454.1 1005.8 454.2C1008.9 454.3 1012 454.6 1015.1 455.1C1018.2 455.7 1021.3 456.4 1024.4 457.4C1027.5 458.5 1030.6 459.7 1033.7 461.2C1036.8 462.7 1040 464.4 1043.1 466.4C1046.2 468.4 1049.3 470.6 1052.4 473.1"/>
<path class="b" d="M679.2 540.2C682.3 540.2 685.4 540.2 688.5 540.2C691.6 540.2 694.8 540.2 697.9 540.2C701 540.2 704.1 540.2 707.2 540.2C710.3 540.2 713.4 540.2 716.5 540.2C719.6 540.2 722.7 540.2 725.9 540.2C729 540.2 732.1 540.2 735.2 540.2C738.3 540.2 741.4 540.2 744.5 540.2C747.6 540.2 750.7 540.2 753.8 540.2C757 540.2 760.1 540.2 763.2 540.2C766.3 540.2 769.4 540.2 772.5 540.2C775.6 540.1 778.7 540.1 781.8 540.1C784.9 540.1 788.1 540.1 791.2 540.1C794.3 540 797.4 540 800.5 540C803.6 540 806.7 539.9 809.8 539.9C812.9 539.8 816 539.8 819.2 539.7C822.3 539.6 825.4 539.6 828.5 539.5C831.6 539.4 834.7 539.3 837.8 539.2C840.9 539 844 538.9 847.1 538.7C850.3 538.6 853.4 538.4 856.5 538.2C859.6 538 862.7 537.7 865.8 537.5C868.9 537.2 872 536.9 875.1 536.6C878.2 536.2 881.4 535.9 884.5 535.5C887.6 535 890.7 534.6 893.8 534.1C896.9 533.6 900 533 903.1 532.4C906.2 531.8 909.3 531.1 912.5 530.3C915.6 529.6 918.7 528.8 921.8 527.9C924.9 527.1 928 526.1 931.1 525.1C934.2 524.1 937.3 523 940.4 521.8C943.6 520.6 946.7 519.3 949.8 518C952.9 516.6 956 515.2 959.1 513.7C962.2 512.1 965.3 510.5 968.4 508.8C971.5 507.1 974.7 505.3 977.8 503.5C980.9 501.6 984 499.6 987.1 497.6C990.2 495.6 993.3 493.5 996.4 491.3C999.5 489.1 1002.6 486.9 1005.8 484.6C1008.9 482.3 1012 480 1015.1 477.7C1018.2 475.4 1021.3 473 1024.4 470.7C1027.5 468.4 1030.6 466.1 1033.7 463.9C1036.8 461.7 1040 459.6 1043.1 457.6C1046.2 455.6 1049.3 453.8 1052.4 452.2"/>
<path class="b" d="M679.2 540.2C682.3 540.2 685.4 540.2 688.5 540.2C691.6 540.2 694.8 540.2 697.9 540.2C701 540.2 704.1 540.2 707.2 540.2C710.3 540.2 713.4 540.2 716.5 540.2C719.6 540.2 722.7 540.2 725.9 540.2C729 540.2 732.1 540.2 735.2 540.2C738.3 540.2 741.4 540.2 744.5 540.2C747.6 540.2 750.7 540.2 753.8 540.2C757 540.2 760.1 540.2 763.2 540.2C766.3 540.2 769.4 540.2 772.5 540.2C775.6 540.2 778.7 540.2 781.8 540.2C784.9 540.2 788.1 540.2 791.2 540.2C794.3 540.2 797.4 540.2 800.5 540.2C803.6 540.2 806.7 540.2 809.8 540.2C812.9 540.2 816 540.2 819.2 540.2C822.3 540.2 825.4 540.2 828.5 540.2C831.6 540.2 834.7 540.2 837.8 540.2C840.9 540.2 844 540.2 847.1 540.2C850.3 540.2 853.4 540.2 856.5 540.2C859.6 540.1 862.7 540.1 865.8 540.1C868.9 540.1 872 540.1 875.1 540.1C878.2 540.1 881.4 540 884.5 540C887.6 540 890.7 540 893.8 539.9C896.9 539.9 900 539.9 903.1 539.8C906.2 539.8 909.3 539.7 912.5 539.6C915.6 539.6 918.7 539.5 921.8 539.4C924.9 539.3 928 539.2 931.1 539.1C934.2 538.9 937.3 538.8 940.4 538.6C943.6 538.4 946.7 538.3 949.8 538C952.9 537.8 956 537.6 959.1 537.3C962.2 537 965.3 536.6 968.4 536.2C971.5 535.9 974.7 535.4 977.8 534.9C980.9 534.4 984 533.9 987.1 533.3C990.2 532.6 993.3 531.9 996.4 531.1C999.5 530.3 1002.6 529.4 1005.8 528.4C1008.9 527.4 1012 526.3 1015.1 525C1018.2 523.8 1021.3 522.4 1024.4 520.8C1027.5 519.2 1030.6 517.5 1033.7 515.5C1036.8 513.6 1040 511.4 1043.1 509C1046.2 506.6 1049.3 504 1052.4 501"/>
<path class="r" d="M679.2 324C682.3 324 685.4 325.8 688.5 327.5C691.6 329.3 694.8 331.4 697.9 333.8C701 336.2 704.1 338.9 707.2 341.7C710.3 344.6 713.4 347.6 716.5 350.8C719.6 354 722.7 357.3 725.9 360.7C729 364.1 732.1 367.5 735.2 371.1C738.3 374.6 741.4 378.2 744.5 381.8C747.6 385.4 750.7 389.1 753.8 392.7C757 396.4 760.1 400 763.2 403.6C766.3 407.3 769.4 410.9 772.5 414.5C775.6 418 778.7 421.6 781.8 425C784.9 428.5 788.1 432 791.2 435.3C794.3 438.7 797.4 442 800.5 445.2C803.6 448.5 806.7 451.6 809.8 454.7C812.9 457.8 816 460.8 819.2 463.7C822.3 466.6 825.4 469.4 828.5 472.1C831.6 474.8 834.7 477.5 837.8 480C840.9 482.5 844 485 847.1 487.3C850.3 489.7 853.4 491.9 856.5 494.1C859.6 496.2 862.7 498.3 865.8 500.3C868.9 502.2 872 504.1 875.1 505.9C878.2 507.6 881.4 509.3 884.5 510.9C887.6 512.5 890.7 514 893.8 515.4C896.9 516.8 900 518.2 903.1 519.4C906.2 520.7 909.3 521.9 912.5 523C915.6 524.1 918.7 525.1 921.8 526C924.9 527 928 527.9 931.1 528.7C934.2 529.5 937.3 530.3 940.4 531C943.6 531.7 946.7 532.3 949.8 532.9C952.9 533.5 956 534 959.1 534.5C962.2 535 965.3 535.4 968.4 535.8C971.5 536.2 974.7 536.6 977.8 536.9C980.9 537.2 984 537.5 987.1 537.7C990.2 538 993.3 538.2 996.4 538.4C999.5 538.6 1002.6 538.8 1005.8 538.9C1008.9 539.1 1012 539.2 1015.1 539.3C1018.2 539.5 1021.3 539.5 1024.4 539.6C1027.5 539.7 1030.6 539.8 1033.7 539.8C1036.8 539.9 1040 539.9 1043.1 540C1046.2 540 1049.3 540 1052.4 540.1"/>
<path class="r" d="M679.2 540.2C682.3 540.2 685.4 538.4 688.5 536.7C691.6 535 694.8 532.9 697.9 530.6C701 528.2 704.1 525.7 707.2 523C710.3 520.4 713.4 517.6 716.5 514.7C719.6 511.9 722.7 508.9 725.9 506C729 503.1 732.1 500.2 735.2 497.3C738.3 494.5 741.4 491.7 744.5 488.9C747.6 486.2 750.7 483.5 753.8 480.9C757 478.4 760.1 475.9 763.2 473.6C766.3 471.3 769.4 469.2 772.5 467.1C775.6 465.1 778.7 463.2 781.8 461.5C784.9 459.8 788.1 458.3 791.2 456.9C794.3 455.5 797.4 454.3 800.5 453.3C803.6 452.3 806.7 451.4 809.8 450.8C812.9 450.1 816 449.6 819.2 449.3C822.3 449 825.4 448.8 828.5 448.8C831.6 448.8 834.7 449 837.8 449.3C840.9 449.7 844 450.2 847.1 450.8C850.3 451.4 853.4 452.2 856.5 453.1C859.6 454 862.7 455 865.8 456.2C868.9 457.3 872 458.5 875.1 459.9C878.2 461.2 881.4 462.7 884.5 464.2C887.6 465.7 890.7 467.3 893.8 469C896.9 470.6 900 472.3 903.1 474.1C906.2 475.8 909.3 477.6 912.5 479.5C915.6 481.3 918.7 483.1 921.8 485C924.9 486.8 928 488.7 931.1 490.6C934.2 492.4 937.3 494.3 940.4 496.1C943.6 497.9 946.7 499.7 949.8 501.5C952.9 503.2 956 505 959.1 506.6C962.2 508.3 965.3 510 968.4 511.5C971.5 513.1 974.7 514.6 977.8 516.1C980.9 517.5 984 518.9 987.1 520.3C990.2 521.6 993.3 522.8 996.4 524C999.5 525.2 1002.6 526.3 1005.8 527.4C1008.9 528.4 1012 529.4 1015.1 530.3C1018.2 531.1 1021.3 532 1024.4 532.7C1027.5 533.4 1030.6 534.1 1033.7 534.7C1036.8 535.3 1040 535.9 1043.1 536.4C1046.2 536.8 1049.3 537.3 1052.4 537.6"/>
<path class="r" d="M679.2 540.2C682.3 540.2 685.4 540.2 688.5 540.2C691.6 540.2 694.8 540.1 697.9 540C701 539.9 704.1 539.8 707.2 539.6C710.3 539.5 713.4 539.2 716.5 538.9C719.6 538.6 722.7 538.2 725.9 537.8C729 537.3 732.1 536.8 735.2 536.2C738.3 535.5 741.4 534.8 744.5 534C747.6 533.2 750.7 532.3 753.8 531.3C757 530.3 760.1 529.3 763.2 528.1C766.3 527 769.4 525.7 772.5 524.4C775.6 523 778.7 521.6 781.8 520.2C784.9 518.7 788.1 517.1 791.2 515.5C794.3 513.9 797.4 512.3 800.5 510.5C803.6 508.8 806.7 507.1 809.8 505.3C812.9 503.5 816 501.7 819.2 499.9C822.3 498.1 825.4 496.2 828.5 494.4C831.6 492.6 834.7 490.8 837.8 489C840.9 487.2 844 485.5 847.1 483.7C850.3 482 853.4 480.4 856.5 478.8C859.6 477.2 862.7 475.6 865.8 474.2C868.9 472.7 872 471.3 875.1 470.1C878.2 468.8 881.4 467.6 884.5 466.5C887.6 465.5 890.7 464.5 893.8 463.7C896.9 462.9 900 462.2 903.1 461.6C906.2 461 909.3 460.6 912.5 460.3C915.6 460 918.7 459.9 921.8 459.9C924.9 459.8 928 460 931.1 460.3C934.2 460.6 937.3 461 940.4 461.6C943.6 462.2 946.7 462.9 949.8 463.8C952.9 464.6 956 465.6 959.1 466.8C962.2 467.9 965.3 469.1 968.4 470.5C971.5 471.9 974.7 473.4 977.8 475C980.9 476.6 984 478.3 987.1 480C990.2 481.8 993.3 483.7 996.4 485.6C999.5 487.5 1002.6 489.4 1005.8 491.5C1008.9 493.5 1012 495.5 1015.1 497.5C1018.2 499.6 1021.3 501.7 1024.4 503.7C1027.5 505.8 1030.6 507.8 1033.7 509.8C1036.8 511.8 1040 513.7 1043.1 515.6C1046.2 517.5 1049.3 519.3 1052.4 521"/>
<path class="r" d="M679.2 540.2C682.3 540.2 685.4 540.2 688.5 540.2C691.6 540.2 694.8 540.2 697.9 540.2C701 540.2 704.1 540.2 707.2 540.2C710.3 540.2 713.4 540.2 716.5 540.2C719.6 540.2 722.7 540.1 725.9 540.1C729 540.1 732.1 540.1 735.2 540C738.3 540 741.4 539.9 744.5 539.9C747.6 539.8 750.7 539.7 753.8 539.6C757 539.5 760.1 539.4 763.2 539.2C766.3 539.1 769.4 538.9 772.5 538.7C775.6 538.5 778.7 538.3 781.8 538C784.9 537.7 788.1 537.4 791.2 537C794.3 536.7 797.4 536.2 800.5 535.8C803.6 535.3 806.7 534.8 809.8 534.3C812.9 533.7 816 533.1 819.2 532.4C822.3 531.7 825.4 531 828.5 530.2C831.6 529.4 834.7 528.5 837.8 527.6C840.9 526.7 844 525.7 847.1 524.6C850.3 523.6 853.4 522.5 856.5 521.3C859.6 520.1 862.7 518.9 865.8 517.6C868.9 516.2 872 514.9 875.1 513.5C878.2 512 881.4 510.6 884.5 509C887.6 507.5 890.7 505.9 893.8 504.3C896.9 502.7 900 501.1 903.1 499.4C906.2 497.7 909.3 496 912.5 494.3C915.6 492.6 918.7 490.9 921.8 489.2C924.9 487.5 928 485.8 931.1 484.1C934.2 482.4 937.3 480.8 940.4 479.2C943.6 477.5 946.7 476 949.8 474.5C952.9 473 956 471.6 959.1 470.2C962.2 468.9 965.3 467.6 968.4 466.5C971.5 465.4 974.7 464.4 977.8 463.5C980.9 462.6 984 461.9 987.1 461.3C990.2 460.7 993.3 460.3 996.4 460.1C999.5 459.8 1002.6 459.8 1005.8 459.9C1008.9 460.1 1012 460.4 1015.1 461C1018.2 461.6 1021.3 462.4 1024.4 463.4C1027.5 464.4 1030.6 465.6 1033.7 467.1C1036.8 468.5 1040 470.2 1043.1 472.1C1046.2 474 1049.3 476.1 1052.4 478.4"/>
<path class="r" d="M679.2 540.2C682.3 540.2 685.4 540.2 688.5 540.2C691.6 540.2 694.8 540.2 697.9 540.2C701 540.2 704.1 540.2 707.2 540.2C710.3 540.2 713.4 540.2 716.5 540.2C719.6 540.2 722.7 540.2 725.9 540.2C729 540.2 732.1 540.2 735.2 540.2C738.3 540.2 741.4 540.2 744.5 540.2C747.6 540.2 750.7 540.2 753.8 540.2C757 540.2 760.1 540.2 763.2 540.2C766.3 540.2 769.4 540.2 772.5 540.1C775.6 540.1 778.7 540.1 781.8 540.1C784.9 540.1 788.1 540.1 791.2 540C794.3 540 797.4 540 800.5 539.9C803.6 539.9 806.7 539.8 809.8 539.8C812.9 539.7 816 539.6 819.2 539.6C822.3 539.5 825.4 539.4 828.5 539.3C831.6 539.1 834.7 539 837.8 538.9C840.9 538.7 844 538.6 847.1 538.4C850.3 538.2 853.4 537.9 856.5 537.7C859.6 537.4 862.7 537.2 865.8 536.9C868.9 536.5 872 536.2 875.1 535.8C878.2 535.4 881.4 535 884.5 534.5C887.6 534 890.7 533.5 893.8 532.9C896.9 532.4 900 531.7 903.1 531C906.2 530.3 909.3 529.6 912.5 528.8C915.6 528 918.7 527.1 921.8 526.2C924.9 525.2 928 524.2 931.1 523.1C934.2 522 937.3 520.8 940.4 519.6C943.6 518.4 946.7 517 949.8 515.6C952.9 514.2 956 512.7 959.1 511.2C962.2 509.6 965.3 508 968.4 506.3C971.5 504.5 974.7 502.7 977.8 500.9C980.9 499 984 497.1 987.1 495.1C990.2 493.1 993.3 491 996.4 488.9C999.5 486.9 1002.6 484.7 1005.8 482.6C1008.9 480.4 1012 478.2 1015.1 476.1C1018.2 473.9 1021.3 471.7 1024.4 469.6C1027.5 467.5 1030.6 465.4 1033.7 463.5C1036.8 461.5 1040 459.6 1043.1 457.9C1046.2 456.2 1049.3 454.6 1052.4 453.3"/>
<path class="r" d="M679.2 540.2C682.3 540.2 685.4 540.2 688.5 540.2C691.6 540.2 694.8 540.2 697.9 540.2C701 540.2 704.1 540.2 707.2 540.2C710.3 540.2 713.4 540.2 716.5 540.2C719.6 540.2 722.7 540.2 725.9 540.2C729 540.2 732.1 540.2 735.2 540.2C738.3 540.2 741.4 540.2 744.5 540.2C747.6 540.2 750.7 540.2 753.8 540.2C757 540.2 760.1 540.2 763.2 540.2C766.3 540.2 769.4 540.2 772.5 540.2C775.6 540.2 778.7 540.2 781.8 540.2C784.9 540.2 788.1 540.2 791.2 540.2C794.3 540.2 797.4 540.2 800.5 540.2C803.6 540.2 806.7 540.2 809.8 540.2C812.9 540.2 816 540.2 819.2 540.2C822.3 540.2 825.4 540.2 828.5 540.2C831.6 540.2 834.7 540.2 837.8 540.1C840.9 540.1 844 540.1 847.1 540.1C850.3 540.1 853.4 540.1 856.5 540.1C859.6 540.1 862.7 540 865.8 540C868.9 540 872 540 875.1 539.9C878.2 539.9 881.4 539.9 884.5 539.8C887.6 539.8 890.7 539.7 893.8 539.7C896.9 539.6 900 539.5 903.1 539.4C906.2 539.4 909.3 539.3 912.5 539.1C915.6 539 918.7 538.9 921.8 538.8C924.9 538.6 928 538.5 931.1 538.3C934.2 538.1 937.3 537.9 940.4 537.6C943.6 537.4 946.7 537.1 949.8 536.8C952.9 536.5 956 536.1 959.1 535.7C962.2 535.3 965.3 534.9 968.4 534.4C971.5 533.9 974.7 533.3 977.8 532.7C980.9 532.1 984 531.4 987.1 530.6C990.2 529.8 993.3 528.9 996.4 528C999.5 527 1002.6 525.9 1005.8 524.7C1008.9 523.6 1012 522.2 1015.1 520.8C1018.2 519.3 1021.3 517.7 1024.4 516C1027.5 514.2 1030.6 512.3 1033.7 510.1C1036.8 508 1040 505.6 1043.1 503.1C1046.2 500.5 1049.3 497.7 1052.4 494.6"/>
<path class="m" d="M679.2 324C682.3 324 685.4 325.3 688.5 326.6C691.6 327.8 694.8 329.4 697.9 331.2C701 333 704.1 335 707.2 337.1C710.3 339.2 713.4 341.5 716.5 344C719.6 346.4 722.7 348.9 725.9 351.6C729 354.2 732.1 356.9 735.2 359.7C738.3 362.5 741.4 365.4 744.5 368.4C747.6 371.3 750.7 374.3 753.8 377.3C757 380.3 760.1 383.4 763.2 386.5C766.3 389.6 769.4 392.7 772.5 395.8C775.6 399 778.7 402.1 781.8 405.2C784.9 408.4 788.1 411.5 791.2 414.6C794.3 417.7 797.4 420.8 800.5 423.9C803.6 427 806.7 430 809.8 433C812.9 436.1 816 439 819.2 442C822.3 444.9 825.4 447.8 828.5 450.6C831.6 453.5 834.7 456.3 837.8 459C840.9 461.7 844 464.4 847.1 467C850.3 469.6 853.4 472.2 856.5 474.7C859.6 477.1 862.7 479.5 865.8 481.9C868.9 484.2 872 486.5 875.1 488.7C878.2 490.8 881.4 493 884.5 495C887.6 497 890.7 499 893.8 500.9C896.9 502.7 900 504.5 903.1 506.2C906.2 508 909.3 509.6 912.5 511.2C915.6 512.7 918.7 514.2 921.8 515.6C924.9 517 928 518.3 931.1 519.6C934.2 520.8 937.3 522 940.4 523.1C943.6 524.2 946.7 525.3 949.8 526.2C952.9 527.2 956 528.1 959.1 528.9C962.2 529.8 965.3 530.5 968.4 531.3C971.5 532 974.7 532.6 977.8 533.2C980.9 533.8 984 534.4 987.1 534.9C990.2 535.3 993.3 535.8 996.4 536.2C999.5 536.6 1002.6 537 1005.8 537.3C1008.9 537.6 1012 537.9 1015.1 538.1C1018.2 538.4 1021.3 538.6 1024.4 538.8C1027.5 539 1030.6 539.1 1033.7 539.3C1036.8 539.4 1040 539.5 1043.1 539.6C1046.2 539.7 1049.3 539.8 1052.4 539.8"/>
<path class="m" d="M679.2 540.2C682.3 540.2 685.4 538.9 688.5 537.7C691.6 536.4 694.8 534.8 697.9 533.1C701 531.4 704.1 529.5 707.2 527.5C710.3 525.5 713.4 523.3 716.5 521.1C719.6 518.9 722.7 516.7 725.9 514.4C729 512.1 732.1 509.7 735.2 507.4C738.3 505 741.4 502.7 744.5 500.4C747.6 498.1 750.7 495.8 753.8 493.6C757 491.3 760.1 489.1 763.2 487C766.3 484.9 769.4 482.9 772.5 480.9C775.6 479 778.7 477.1 781.8 475.3C784.9 473.5 788.1 471.9 791.2 470.3C794.3 468.8 797.4 467.3 800.5 466C803.6 464.7 806.7 463.5 809.8 462.4C812.9 461.4 816 460.5 819.2 459.7C822.3 458.9 825.4 458.2 828.5 457.7C831.6 457.2 834.7 456.8 837.8 456.5C840.9 456.3 844 456.2 847.1 456.2C850.3 456.2 853.4 456.4 856.5 456.7C859.6 456.9 862.7 457.4 865.8 457.9C868.9 458.4 872 459.1 875.1 459.9C878.2 460.6 881.4 461.5 884.5 462.5C887.6 463.5 890.7 464.6 893.8 465.8C896.9 466.9 900 468.2 903.1 469.6C906.2 470.9 909.3 472.3 912.5 473.8C915.6 475.3 918.7 476.9 921.8 478.5C924.9 480.1 928 481.7 931.1 483.4C934.2 485.1 937.3 486.8 940.4 488.5C943.6 490.2 946.7 492 949.8 493.7C952.9 495.5 956 497.2 959.1 498.9C962.2 500.7 965.3 502.4 968.4 504.1C971.5 505.8 974.7 507.5 977.8 509.1C980.9 510.7 984 512.3 987.1 513.8C990.2 515.4 993.3 516.8 996.4 518.3C999.5 519.7 1002.6 521 1005.8 522.3C1008.9 523.6 1012 524.8 1015.1 526C1018.2 527.1 1021.3 528.2 1024.4 529.2C1027.5 530.2 1030.6 531.1 1033.7 532C1036.8 532.8 1040 533.6 1043.1 534.3C1046.2 535 1049.3 535.6 1052.4 536.1"/>
<path class="m" d="M679.2 540.2C682.3 540.2 685.4 540.2 688.5 540.2C691.6 540.2 694.8 540.1 697.9 540.1C701 540 704.1 539.9 707.2 539.8C710.3 539.7 713.4 539.5 716.5 539.3C719.6 539.1 722.7 538.9 725.9 538.6C729 538.3 732.1 537.9 735.2 537.5C738.3 537 741.4 536.5 744.5 536C747.6 535.4 750.7 534.8 753.8 534.1C757 533.4 760.1 532.7 763.2 531.9C766.3 531 769.4 530.1 772.5 529.2C775.6 528.3 778.7 527.3 781.8 526.2C784.9 525.1 788.1 524 791.2 522.8C794.3 521.7 797.4 520.4 800.5 519.2C803.6 517.9 806.7 516.6 809.8 515.3C812.9 514 816 512.6 819.2 511.2C822.3 509.8 825.4 508.5 828.5 507C831.6 505.6 834.7 504.2 837.8 502.8C840.9 501.4 844 500 847.1 498.7C850.3 497.3 853.4 495.9 856.5 494.6C859.6 493.3 862.7 492 865.8 490.8C868.9 489.6 872 488.4 875.1 487.3C878.2 486.2 881.4 485.1 884.5 484.2C887.6 483.2 890.7 482.3 893.8 481.5C896.9 480.7 900 479.9 903.1 479.3C906.2 478.7 909.3 478.2 912.5 477.8C915.6 477.3 918.7 477 921.8 476.8C924.9 476.6 928 476.5 931.1 476.6C934.2 476.6 937.3 476.7 940.4 477C943.6 477.3 946.7 477.7 949.8 478.2C952.9 478.6 956 479.3 959.1 480C962.2 480.7 965.3 481.6 968.4 482.5C971.5 483.5 974.7 484.5 977.8 485.7C980.9 486.8 984 488 987.1 489.4C990.2 490.7 993.3 492.1 996.4 493.6C999.5 495 1002.6 496.6 1005.8 498.2C1008.9 499.7 1012 501.4 1015.1 503C1018.2 504.7 1021.3 506.4 1024.4 508.1C1027.5 509.7 1030.6 511.4 1033.7 513.1C1036.8 514.8 1040 516.4 1043.1 518.1C1046.2 519.7 1049.3 521.2 1052.4 522.7"/>
<path class="m" d="M679.2 540.2C682.3 540.2 685.4 540.2 688.5 540.2C691.6 540.2 694.8 540.2 697.9 540.2C701 540.2 704.1 540.2 707.2 540.2C710.3 540.2 713.4 540.2 716.5 540.2C719.6 540.2 722.7 540.1 725.9 540.1C729 540.1 732.1 540.1 735.2 540C738.3 540 741.4 539.9 744.5 539.9C747.6 539.8 750.7 539.7 753.8 539.6C757 539.5 760.1 539.4 763.2 539.3C766.3 539.1 769.4 539 772.5 538.8C775.6 538.6 778.7 538.3 781.8 538.1C784.9 537.8 788.1 537.5 791.2 537.2C794.3 536.8 797.4 536.4 800.5 536C803.6 535.6 806.7 535.1 809.8 534.6C812.9 534.1 816 533.5 819.2 532.9C822.3 532.3 825.4 531.6 828.5 530.9C831.6 530.2 834.7 529.4 837.8 528.6C840.9 527.7 844 526.9 847.1 525.9C850.3 525 853.4 524 856.5 523C859.6 522 862.7 520.9 865.8 519.7C868.9 518.6 872 517.4 875.1 516.2C878.2 515 881.4 513.8 884.5 512.5C887.6 511.2 890.7 509.9 893.8 508.6C896.9 507.2 900 505.9 903.1 504.5C906.2 503.2 909.3 501.8 912.5 500.4C915.6 499.1 918.7 497.7 921.8 496.4C924.9 495 928 493.7 931.1 492.4C934.2 491.2 937.3 489.9 940.4 488.7C943.6 487.5 946.7 486.4 949.8 485.3C952.9 484.2 956 483.2 959.1 482.3C962.2 481.4 965.3 480.6 968.4 479.8C971.5 479.1 974.7 478.5 977.8 478C980.9 477.5 984 477.1 987.1 476.9C990.2 476.6 993.3 476.5 996.4 476.6C999.5 476.6 1002.6 476.8 1005.8 477.1C1008.9 477.5 1012 478 1015.1 478.7C1018.2 479.3 1021.3 480.2 1024.4 481.2C1027.5 482.2 1030.6 483.3 1033.7 484.6C1036.8 486 1040 487.4 1043.1 489C1046.2 490.7 1049.3 492.4 1052.4 494.3"/>
<path class="m" d="M679.2 540.2C682.3 540.2 685.4 540.2 688.5 540.2C691.6 540.2 694.8 540.2 697.9 540.2C701 540.2 704.1 540.2 707.2 540.2C710.3 540.2 713.4 540.2 716.5 540.2C719.6 540.2 722.7 540.2 725.9 540.2C729 540.2 732.1 540.2 735.2 540.2C738.3 540.2 741.4 540.2 744.5 540.2C747.6 540.2 750.7 540.2 753.8 540.2C757 540.2 760.1 540.2 763.2 540.1C766.3 540.1 769.4 540.1 772.5 540.1C775.6 540.1 778.7 540 781.8 540C784.9 540 788.1 539.9 791.2 539.9C794.3 539.8 797.4 539.8 800.5 539.7C803.6 539.6 806.7 539.6 809.8 539.5C812.9 539.4 816 539.2 819.2 539.1C822.3 539 825.4 538.8 828.5 538.6C831.6 538.5 834.7 538.2 837.8 538C840.9 537.8 844 537.5 847.1 537.2C850.3 536.9 853.4 536.6 856.5 536.2C859.6 535.9 862.7 535.4 865.8 535C868.9 534.5 872 534 875.1 533.5C878.2 532.9 881.4 532.3 884.5 531.7C887.6 531 890.7 530.3 893.8 529.5C896.9 528.7 900 527.9 903.1 527C906.2 526.1 909.3 525.2 912.5 524.1C915.6 523.1 918.7 522 921.8 520.8C924.9 519.7 928 518.4 931.1 517.1C934.2 515.8 937.3 514.5 940.4 513.1C943.6 511.6 946.7 510.1 949.8 508.6C952.9 507 956 505.4 959.1 503.7C962.2 502 965.3 500.3 968.4 498.6C971.5 496.8 974.7 495 977.8 493.1C980.9 491.3 984 489.4 987.1 487.6C990.2 485.7 993.3 483.8 996.4 481.9C999.5 480.1 1002.6 478.2 1005.8 476.4C1008.9 474.6 1012 472.8 1015.1 471.1C1018.2 469.4 1021.3 467.7 1024.4 466.2C1027.5 464.7 1030.6 463.3 1033.7 462C1036.8 460.8 1040 459.7 1043.1 458.8C1046.2 457.9 1049.3 457.2 1052.4 456.7"/>
<path class="m" d="M679.2 540.2C682.3 540.2 685.4 540.2 688.5 540.2C691.6 540.2 694.8 540.2 697.9 540.2C701 540.2 704.1 540.2 707.2 540.2C710.3 540.2 713.4 540.2 716.5 540.2C719.6 540.2 722.7 540.2 725.9 540.2C729 540.2 732.1 540.2 735.2 540.2C738.3 540.2 741.4 540.2 744.5 540.2C747.6 540.2 750.7 540.2 753.8 540.2C757 540.2 760.1 540.2 763.2 540.2C766.3 540.2 769.4 540.2 772.5 540.2C775.6 540.2 778.7 540.2 781.8 540.2C784.9 540.2 788.1 540.2 791.2 540.2C794.3 540.2 797.4 540.2 800.5 540.2C803.6 540.2 806.7 540.2 809.8 540.2C812.9 540.2 816 540.1 819.2 540.1C822.3 540.1 825.4 540.1 828.5 540.1C831.6 540.1 834.7 540.1 837.8 540C840.9 540 844 540 847.1 540C850.3 539.9 853.4 539.9 856.5 539.9C859.6 539.8 862.7 539.8 865.8 539.7C868.9 539.6 872 539.6 875.1 539.5C878.2 539.4 881.4 539.3 884.5 539.2C887.6 539.1 890.7 539 893.8 538.8C896.9 538.7 900 538.5 903.1 538.3C906.2 538.2 909.3 537.9 912.5 537.7C915.6 537.5 918.7 537.2 921.8 536.9C924.9 536.6 928 536.3 931.1 535.9C934.2 535.5 937.3 535.1 940.4 534.6C943.6 534.1 946.7 533.6 949.8 533C952.9 532.4 956 531.8 959.1 531.1C962.2 530.4 965.3 529.6 968.4 528.8C971.5 527.9 974.7 527 977.8 525.9C980.9 524.9 984 523.8 987.1 522.5C990.2 521.3 993.3 520 996.4 518.5C999.5 517 1002.6 515.4 1005.8 513.7C1008.9 512 1012 510.1 1015.1 508.1C1018.2 506.1 1021.3 503.9 1024.4 501.6C1027.5 499.2 1030.6 496.7 1033.7 494C1036.8 491.3 1040 488.4 1043.1 485.2C1046.2 482.1 1049.3 478.8 1052.4 475.2"/>
<path class="g" d="M679.2 324C682.3 324 685.4 325.4 688.5 326.9C691.6 328.3 694.8 330.1 697.9 332.1C701 334.1 704.1 336.3 707.2 338.6C710.3 341 713.4 343.6 716.5 346.2C719.6 348.9 722.7 351.7 725.9 354.6C729 357.5 732.1 360.5 735.2 363.5C738.3 366.6 741.4 369.7 744.5 372.8C747.6 376 750.7 379.2 753.8 382.4C757 385.7 760.1 388.9 763.2 392.2C766.3 395.5 769.4 398.8 772.5 402C775.6 405.3 778.7 408.6 781.8 411.8C784.9 415.1 788.1 418.3 791.2 421.5C794.3 424.7 797.4 427.9 800.5 431C803.6 434.1 806.7 437.2 809.8 440.3C812.9 443.3 816 446.3 819.2 449.2C822.3 452.1 825.4 455 828.5 457.8C831.6 460.6 834.7 463.3 837.8 466C840.9 468.7 844 471.3 847.1 473.8C850.3 476.3 853.4 478.8 856.5 481.1C859.6 483.5 862.7 485.8 865.8 488C868.9 490.2 872 492.3 875.1 494.4C878.2 496.4 881.4 498.4 884.5 500.3C887.6 502.2 890.7 504 893.8 505.7C896.9 507.4 900 509.1 903.1 510.6C906.2 512.2 909.3 513.7 912.5 515.1C915.6 516.5 918.7 517.8 921.8 519.1C924.9 520.3 928 521.5 931.1 522.6C934.2 523.7 937.3 524.8 940.4 525.7C943.6 526.7 946.7 527.6 949.8 528.5C952.9 529.3 956 530.1 959.1 530.8C962.2 531.5 965.3 532.2 968.4 532.8C971.5 533.4 974.7 533.9 977.8 534.4C980.9 534.9 984 535.4 987.1 535.8C990.2 536.2 993.3 536.6 996.4 536.9C999.5 537.3 1002.6 537.6 1005.8 537.8C1008.9 538.1 1012 538.3 1015.1 538.5C1018.2 538.7 1021.3 538.9 1024.4 539.1C1027.5 539.2 1030.6 539.3 1033.7 539.4C1036.8 539.6 1040 539.7 1043.1 539.7C1046.2 539.8 1049.3 539.9 1052.4 539.9"/>
<path class="g" d="M679.2 540.2C682.3 540.2 685.4 538.8 688.5 537.3C691.6 535.9 694.8 534.2 697.9 532.3C701 530.3 704.1 528.2 707.2 526C710.3 523.8 713.4 521.4 716.5 519C719.6 516.6 722.7 514.1 725.9 511.6C729 509.1 732.1 506.6 735.2 504C738.3 501.5 741.4 499 744.5 496.6C747.6 494.1 750.7 491.7 753.8 489.4C757 487 760.1 484.7 763.2 482.6C766.3 480.4 769.4 478.3 772.5 476.3C775.6 474.3 778.7 472.5 781.8 470.7C784.9 469 788.1 467.3 791.2 465.8C794.3 464.4 797.4 463 800.5 461.8C803.6 460.6 806.7 459.5 809.8 458.6C812.9 457.6 816 456.8 819.2 456.2C822.3 455.6 825.4 455.1 828.5 454.7C831.6 454.4 834.7 454.2 837.8 454.1C840.9 454.1 844 454.2 847.1 454.4C850.3 454.6 853.4 455 856.5 455.5C859.6 456 862.7 456.6 865.8 457.3C868.9 458 872 458.9 875.1 459.9C878.2 460.8 881.4 461.9 884.5 463.1C887.6 464.2 890.7 465.5 893.8 466.8C896.9 468.2 900 469.6 903.1 471.1C906.2 472.5 909.3 474.1 912.5 475.7C915.6 477.3 918.7 478.9 921.8 480.6C924.9 482.3 928 484 931.1 485.8C934.2 487.5 937.3 489.3 940.4 491C943.6 492.8 946.7 494.5 949.8 496.3C952.9 498.1 956 499.8 959.1 501.5C962.2 503.2 965.3 504.9 968.4 506.6C971.5 508.2 974.7 509.8 977.8 511.4C980.9 513 984 514.5 987.1 516C990.2 517.4 993.3 518.8 996.4 520.2C999.5 521.5 1002.6 522.8 1005.8 524C1008.9 525.2 1012 526.4 1015.1 527.4C1018.2 528.5 1021.3 529.5 1024.4 530.4C1027.5 531.3 1030.6 532.1 1033.7 532.9C1036.8 533.7 1040 534.4 1043.1 535C1046.2 535.6 1049.3 536.1 1052.4 536.6"/>
<path class="g" d="M679.2 540.2C682.3 540.2 685.4 540.2 688.5 540.2C691.6 540.2 694.8 540.1 697.9 540.1C701 540 704.1 539.9 707.2 539.8C710.3 539.6 713.4 539.4 716.5 539.2C719.6 539 722.7 538.7 725.9 538.3C729 537.9 732.1 537.5 735.2 537C738.3 536.5 741.4 536 744.5 535.3C747.6 534.7 750.7 534 753.8 533.2C757 532.4 760.1 531.5 763.2 530.6C766.3 529.7 769.4 528.7 772.5 527.6C775.6 526.5 778.7 525.4 781.8 524.2C784.9 523 788.1 521.7 791.2 520.4C794.3 519.1 797.4 517.7 800.5 516.3C803.6 514.9 806.7 513.4 809.8 512C812.9 510.5 816 509 819.2 507.5C822.3 505.9 825.4 504.4 828.5 502.8C831.6 501.3 834.7 499.8 837.8 498.2C840.9 496.7 844 495.2 847.1 493.7C850.3 492.2 853.4 490.8 856.5 489.3C859.6 487.9 862.7 486.6 865.8 485.3C868.9 484 872 482.7 875.1 481.5C878.2 480.4 881.4 479.3 884.5 478.3C887.6 477.3 890.7 476.4 893.8 475.5C896.9 474.7 900 474 903.1 473.4C906.2 472.8 909.3 472.3 912.5 471.9C915.6 471.6 918.7 471.3 921.8 471.2C924.9 471 928 471 931.1 471.1C934.2 471.3 937.3 471.5 940.4 471.9C943.6 472.2 946.7 472.7 949.8 473.4C952.9 474 956 474.7 959.1 475.6C962.2 476.4 965.3 477.4 968.4 478.5C971.5 479.6 974.7 480.8 977.8 482.1C980.9 483.4 984 484.8 987.1 486.3C990.2 487.7 993.3 489.3 996.4 490.9C999.5 492.5 1002.6 494.2 1005.8 495.9C1008.9 497.6 1012 499.4 1015.1 501.2C1018.2 503 1021.3 504.8 1024.4 506.6C1027.5 508.4 1030.6 510.2 1033.7 512C1036.8 513.8 1040 515.5 1043.1 517.2C1046.2 518.9 1049.3 520.6 1052.4 522.2"/>
<path class="g" d="M679.2 540.2C682.3 540.2 685.4 540.2 688.5 540.2C691.6 540.2 694.8 540.2 697.9 540.2C701 540.2 704.1 540.2 707.2 540.2C710.3 540.2 713.4 540.2 716.5 540.2C719.6 540.2 722.7 540.1 725.9 540.1C729 540.1 732.1 540.1 735.2 540C738.3 540 741.4 539.9 744.5 539.9C747.6 539.8 750.7 539.7 753.8 539.6C757 539.5 760.1 539.4 763.2 539.3C766.3 539.1 769.4 538.9 772.5 538.7C775.6 538.5 778.7 538.3 781.8 538C784.9 537.8 788.1 537.5 791.2 537.1C794.3 536.8 797.4 536.4 800.5 535.9C803.6 535.5 806.7 535 809.8 534.5C812.9 534 816 533.4 819.2 532.7C822.3 532.1 825.4 531.4 828.5 530.7C831.6 529.9 834.7 529.1 837.8 528.3C840.9 527.4 844 526.5 847.1 525.5C850.3 524.5 853.4 523.5 856.5 522.4C859.6 521.3 862.7 520.2 865.8 519C868.9 517.8 872 516.6 875.1 515.3C878.2 514 881.4 512.7 884.5 511.3C887.6 510 890.7 508.6 893.8 507.2C896.9 505.7 900 504.3 903.1 502.8C906.2 501.4 909.3 499.9 912.5 498.4C915.6 496.9 918.7 495.5 921.8 494C924.9 492.5 928 491.1 931.1 489.7C934.2 488.2 937.3 486.9 940.4 485.5C943.6 484.2 946.7 482.9 949.8 481.7C952.9 480.5 956 479.3 959.1 478.3C962.2 477.2 965.3 476.2 968.4 475.4C971.5 474.5 974.7 473.8 977.8 473.2C980.9 472.5 984 472 987.1 471.7C990.2 471.3 993.3 471.1 996.4 471.1C999.5 471 1002.6 471.1 1005.8 471.4C1008.9 471.7 1012 472.1 1015.1 472.8C1018.2 473.4 1021.3 474.2 1024.4 475.2C1027.5 476.2 1030.6 477.4 1033.7 478.8C1036.8 480.1 1040 481.7 1043.1 483.4C1046.2 485.1 1049.3 487 1052.4 489"/>
<path class="g" d="M679.2 540.2C682.3 540.2 685.4 540.2 688.5 540.2C691.6 540.2 694.8 540.2 697.9 540.2C701 540.2 704.1 540.2 707.2 540.2C710.3 540.2 713.4 540.2 716.5 540.2C719.6 540.2 722.7 540.2 725.9 540.2C729 540.2 732.1 540.2 735.2 540.2C738.3 540.2 741.4 540.2 744.5 540.2C747.6 540.2 750.7 540.2 753.8 540.2C757 540.2 760.1 540.2 763.2 540.1C766.3 540.1 769.4 540.1 772.5 540.1C775.6 540.1 778.7 540.1 781.8 540C784.9 540 788.1 540 791.2 539.9C794.3 539.9 797.4 539.8 800.5 539.8C803.6 539.7 806.7 539.6 809.8 539.6C812.9 539.5 816 539.4 819.2 539.3C822.3 539.1 825.4 539 828.5 538.8C831.6 538.7 834.7 538.5 837.8 538.3C840.9 538.1 844 537.9 847.1 537.6C850.3 537.3 853.4 537 856.5 536.7C859.6 536.4 862.7 536 865.8 535.6C868.9 535.2 872 534.7 875.1 534.3C878.2 533.8 881.4 533.2 884.5 532.6C887.6 532 890.7 531.4 893.8 530.7C896.9 529.9 900 529.2 903.1 528.4C906.2 527.5 909.3 526.6 912.5 525.7C915.6 524.7 918.7 523.7 921.8 522.6C924.9 521.5 928 520.4 931.1 519.1C934.2 517.9 937.3 516.6 940.4 515.2C943.6 513.9 946.7 512.4 949.8 510.9C952.9 509.4 956 507.8 959.1 506.2C962.2 504.6 965.3 502.9 968.4 501.1C971.5 499.4 974.7 497.6 977.8 495.7C980.9 493.9 984 492 987.1 490.1C990.2 488.2 993.3 486.2 996.4 484.3C999.5 482.3 1002.6 480.4 1005.8 478.4C1008.9 476.5 1012 474.6 1015.1 472.7C1018.2 470.9 1021.3 469.1 1024.4 467.3C1027.5 465.6 1030.6 464 1033.7 462.5C1036.8 461 1040 459.6 1043.1 458.5C1046.2 457.3 1049.3 456.3 1052.4 455.6"/>
<path class="g" d="M679.2 540.2C682.3 540.2 685.4 540.2 688.5 540.2C691.6 540.2 694.8 540.2 697.9 540.2C701 540.2 704.1 540.2 707.2 540.2C710.3 540.2 713.4 540.2 716.5 540.2C719.6 540.2 722.7 540.2 725.9 540.2C729 540.2 732.1 540.2 735.2 540.2C738.3 540.2 741.4 540.2 744.5 540.2C747.6 540.2 750.7 540.2 753.8 540.2C757 540.2 760.1 540.2 763.2 540.2C766.3 540.2 769.4 540.2 772.5 540.2C775.6 540.2 778.7 540.2 781.8 540.2C784.9 540.2 788.1 540.2 791.2 540.2C794.3 540.2 797.4 540.2 800.5 540.2C803.6 540.2 806.7 540.2 809.8 540.2C812.9 540.2 816 540.2 819.2 540.2C822.3 540.1 825.4 540.1 828.5 540.1C831.6 540.1 834.7 540.1 837.8 540.1C840.9 540.1 844 540 847.1 540C850.3 540 853.4 540 856.5 539.9C859.6 539.9 862.7 539.9 865.8 539.8C868.9 539.8 872 539.7 875.1 539.6C878.2 539.6 881.4 539.5 884.5 539.4C887.6 539.3 890.7 539.2 893.8 539.1C896.9 539 900 538.9 903.1 538.7C906.2 538.6 909.3 538.4 912.5 538.2C915.6 538 918.7 537.8 921.8 537.5C924.9 537.3 928 537 931.1 536.7C934.2 536.4 937.3 536 940.4 535.6C943.6 535.2 946.7 534.8 949.8 534.3C952.9 533.8 956 533.2 959.1 532.6C962.2 532 965.3 531.4 968.4 530.6C971.5 529.9 974.7 529.1 977.8 528.2C980.9 527.3 984 526.3 987.1 525.2C990.2 524.1 993.3 522.9 996.4 521.6C999.5 520.4 1002.6 518.9 1005.8 517.4C1008.9 515.8 1012 514.2 1015.1 512.3C1018.2 510.5 1021.3 508.5 1024.4 506.4C1027.5 504.2 1030.6 501.9 1033.7 499.4C1036.8 496.8 1040 494.1 1043.1 491.2C1046.2 488.2 1049.3 485.1 1052.4 481.7"/>
<path class="tk" d="M679.2 551h2.3M679.2 529.4h2.3M679.2 518.6h2.3M679.2 507.8h2.3M679.2 497h4.4M679.2 486.2h2.3M679.2 475.3h2.3M679.2 464.5h2.3M679.2 453.7h4.4M679.2 442.9h2.3M679.2 432.1h2.3M679.2 421.3h2.3M679.2 410.5h4.4M679.2 399.7h2.3M679.2 388.9h2.3M679.2 378.1h2.3M679.2 367.2h4.4M679.2 356.4h2.3M679.2 345.6h2.3M679.2 334.8h2.3M679.2 324h4.4M679.2 313.2h2.3M697.9 540.2v-2.3M716.5 540.2v-2.3M735.2 540.2v-2.3M753.8 540.2v-4.4M772.5 540.2v-2.3M791.2 540.2v-2.3M809.8 540.2v-2.3M828.5 540.2v-4.4M847.1 540.2v-2.3M865.8 540.2v-2.3M884.5 540.2v-2.3M903.1 540.2v-4.4M921.8 540.2v-2.3M940.4 540.2v-2.3M959.1 540.2v-2.3M977.8 540.2v-4.4M996.4 540.2v-2.3M1015.1 540.2v-2.3M1033.7 540.2v-2.3M1052.4 540.2v-4.4"/>
<path class="ld" d="M452.4 67.5H493.9"/>
<text class="lg" font-size="15.4" transform="translate(503.1 71.9) scale(0.945 1)">(0,0,0,0)</text>
<path class="b" d="M451.9 104.3H473.7"/>
<text class="lg" font-size="15.4" transform="translate(480.9 108.7) scale(0.945 1)">(1,1,−1,−1)</text>
<path class="r" d="M451.9 139.9H473.7"/>
<text class="lg" font-size="15.4" transform="translate(480.9 144.3) scale(0.945 1)">(0.5,0.5,−0.5,−0.5)</text>
<path class="lm" d="M451.9 177.2H494.4"/>
<text class="lg" font-size="15.4" transform="translate(503.1 181.6) scale(0.945 1)">(−1,−1,1,1)</text>
<path class="lgn" d="M451.9 213.4H494.4"/>
<text class="lg" font-size="15.4" transform="translate(503.1 217.8) scale(0.945 1)">(−0.5,−0.5,0.5,0.5)</text>
<path class="ld" d="M1076.8 71.3H1118.3"/>
<text class="lg" font-size="15.2" transform="translate(1126.7 75.7) scale(0.93 1)">(0,0,0,0,0)</text>
<path class="b" d="M1076.3 106.9H1098.1"/>
<text class="lg" font-size="15.2" transform="translate(1104.4 111.3) scale(0.93 1)">(1,1,0,−1,−1)</text>
<path class="r" d="M1076.3 142.8H1098.1"/>
<text class="lg" font-size="15.2" transform="translate(1104.4 147.2) scale(0.93 1)">(0.5,0.5,0,−0.5,−0.5)</text>
<path class="lm" d="M1076.3 178.4H1118.8"/>
<text class="lg" font-size="15.2" transform="translate(1126.7 182.8) scale(0.93 1)">(−1,−1,0,1,1)</text>
<path class="lgn" d="M1076.3 214H1118.8"/>
<text class="lg" font-size="15.2" transform="translate(1126.7 218.4) scale(0.93 1)">(−0.5,−0.5,0,0.5,0.5)</text>
<path class="ld" d="M452.4 358.7H493.9"/>
<text class="lg" font-size="15.4" transform="translate(503.1 363.1) scale(0.945 1)">(0,0,0,0)</text>
<path class="b" d="M451.9 395.5H473.7"/>
<text class="lg" font-size="15.4" transform="translate(480.9 399.9) scale(0.945 1)">(1,1,−1,−1)</text>
<path class="r" d="M451.9 431.4H473.7"/>
<text class="lg" font-size="15.4" transform="translate(480.9 435.8) scale(0.945 1)">(0.5,0.5,−0.5,−0.5)</text>
<path class="lm" d="M451.9 468.6H494.4"/>
<text class="lg" font-size="15.4" transform="translate(503.1 473) scale(0.945 1)">(−1,−1,1,1)</text>
<path class="lgn" d="M451.9 504.3H494.4"/>
<text class="lg" font-size="15.4" transform="translate(503.1 508.7) scale(0.945 1)">(−0.5,−0.5,0.5,0.5)</text>
<path class="ld" d="M1076.8 362.2H1118.3"/>
<text class="lg" font-size="15.2" transform="translate(1126.7 366.6) scale(0.93 1)">(0,0,0,0,0)</text>
<path class="b" d="M1076.3 398.4H1098.1"/>
<text class="lg" font-size="15.2" transform="translate(1104.4 402.8) scale(0.93 1)">(1,1,0,−1,−1)</text>
<path class="r" d="M1076.3 434.2H1098.1"/>
<text class="lg" font-size="15.2" transform="translate(1104.4 438.6) scale(0.93 1)">(0.5,0.5,0,−0.5,−0.5)</text>
<path class="lm" d="M1076.3 469.6H1118.8"/>
<text class="lg" font-size="15.2" transform="translate(1126.7 474) scale(0.93 1)">(−1,−1,0,1,1)</text>
<path class="lgn" d="M1076.3 505.3H1118.8"/>
<text class="lg" font-size="15.2" transform="translate(1126.7 509.7) scale(0.93 1)">(−0.5,−0.5,0,0.5,0.5)</text>
<text class="cp" x="236.8" y="296" font-size="25" letter-spacing="-0.7">(<tspan font-weight="bold">a</tspan>)</text>
<text class="cp" x="271.1" y="296" letter-spacing="0.6">Quartic</text>
<path class="mv" transform="translate(361.9 296)" d="M0.4 -9.4C0.8 -10.8 1.6 -11.5 3 -11.5L5.6 -11.5C4 -9 2.4 -6.5 2.4 -3.5C2.4 -1.3 3.2 -0.3 4.3 -0.3C7.5 -0.3 10.6 -5.5 10.6 -9.5C10.6 -10.8 10.1 -11.6 9.3 -11.6"/>
<rect class="eq" x="383.1" y="286.0" width="16.9" height="1.1"/>
<rect class="eq" x="383.1" y="291.0" width="16.9" height="1.1"/>
<text class="cp" x="408.4" y="296">0</text>
<text class="cp" x="868.2" y="296" font-size="25" letter-spacing="-0.7">(<tspan font-weight="bold">b</tspan>)</text>
<text class="cp" x="905.2" y="296" letter-spacing="0.6">Quintic</text>
<path class="mv" transform="translate(995.7 296)" d="M0.4 -9.4C0.8 -10.8 1.6 -11.5 3 -11.5L5.6 -11.5C4 -9 2.4 -6.5 2.4 -3.5C2.4 -1.3 3.2 -0.3 4.3 -0.3C7.5 -0.3 10.6 -5.5 10.6 -9.5C10.6 -10.8 10.1 -11.6 9.3 -11.6"/>
<rect class="eq" x="1016.1" y="286.0" width="17.7" height="1.1"/>
<rect class="eq" x="1016.1" y="291.0" width="17.7" height="1.1"/>
<text class="cp" x="1042.2" y="296">0</text>
<text class="cp" x="227.9" y="587.1" font-size="25" letter-spacing="-0.7">(<tspan font-weight="bold">c</tspan>)</text>
<text class="cp" x="260.9" y="587.1" letter-spacing="0.6">Quartic</text>
<path class="mv" transform="translate(352.4 587.1)" d="M0.4 -9.4C0.8 -10.8 1.6 -11.5 3 -11.5L5.6 -11.5C4 -9 2.4 -6.5 2.4 -3.5C2.4 -1.3 3.2 -0.3 4.3 -0.3C7.5 -0.3 10.6 -5.5 10.6 -9.5C10.6 -10.8 10.1 -11.6 9.3 -11.6"/>
<rect class="eq" x="373.2" y="577.1" width="16.8" height="1.1"/>
<rect class="eq" x="373.2" y="582.1" width="16.8" height="1.1"/>
<text class="cp" x="398.9" y="587.1">0</text>
<text class="cp" x="411.2" y="587.1">.</text>
<text class="cp" x="416.1" y="587.1">5</text>
<text class="cp" x="858.5" y="587.1" font-size="25" letter-spacing="-0.7">(<tspan font-weight="bold">d</tspan>)</text>
<text class="cp" x="896" y="587.1" letter-spacing="0.6">Quintic</text>
<path class="mv" transform="translate(986 587.1)" d="M0.4 -9.4C0.8 -10.8 1.6 -11.5 3 -11.5L5.6 -11.5C4 -9 2.4 -6.5 2.4 -3.5C2.4 -1.3 3.2 -0.3 4.3 -0.3C7.5 -0.3 10.6 -5.5 10.6 -9.5C10.6 -10.8 10.1 -11.6 9.3 -11.6"/>
<rect class="eq" x="1006.8" y="577.1" width="17.3" height="1.1"/>
<rect class="eq" x="1006.8" y="582.1" width="17.3" height="1.1"/>
<text class="cp" x="1032.5" y="587.1">0</text>
<text class="cp" x="1044.8" y="587.1">.</text>
<text class="cp" x="1049.7" y="587.1">5</text>
</svg>
</body></html>
